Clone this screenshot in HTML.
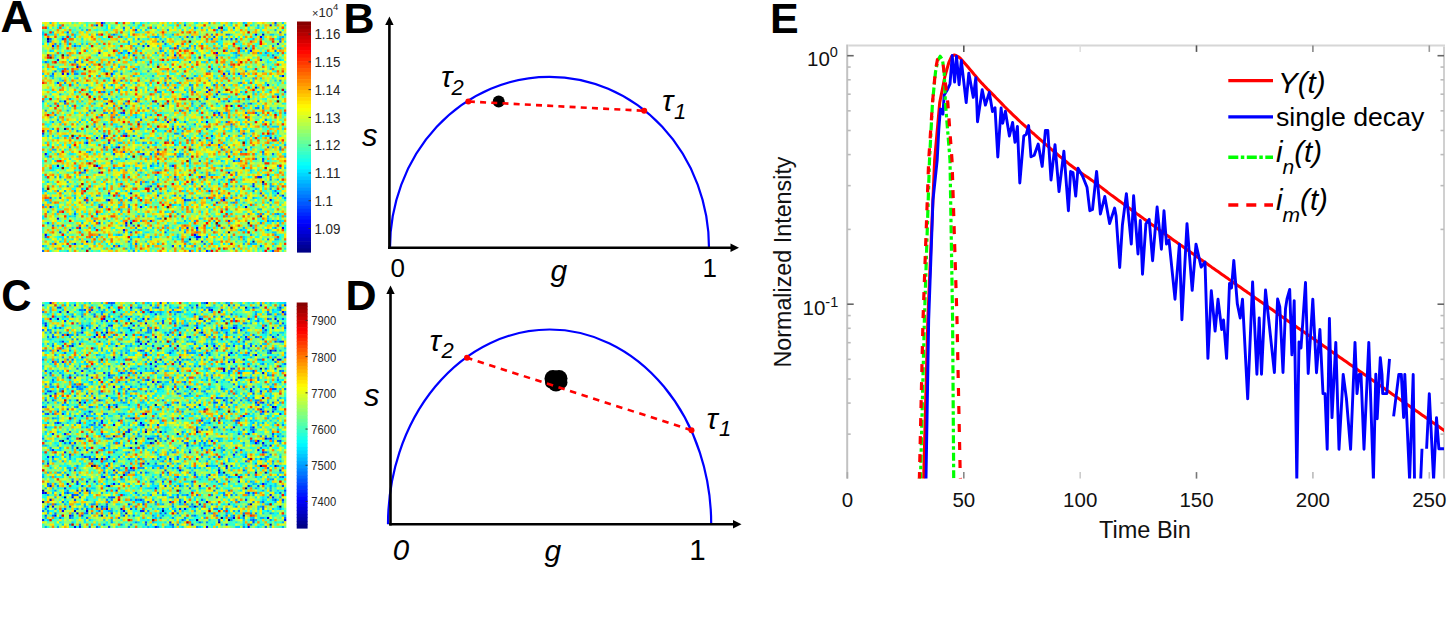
<!DOCTYPE html>
<html><head><meta charset="utf-8"><style>
html,body{margin:0;padding:0;background:#fff;}
body{width:1448px;height:625px;overflow:hidden;position:relative;}
svg{position:absolute;left:0;top:0;}
text{font-family:"Liberation Sans",sans-serif;}
</style></head><body>
<svg width="1448" height="625" viewBox="0 0 1448 625">
<text transform="translate(0.5 32) scale(1.03 1)" font-size="44" font-weight="bold" fill="#000">A</text>
<text transform="translate(343.5 33) scale(1.0 1)" font-size="43" font-weight="bold" fill="#000">B</text>
<text transform="translate(1.3 311) scale(0.93 1)" font-size="45" font-weight="bold" fill="#000">C</text>
<text transform="translate(345.5 309.6) scale(1.0 1)" font-size="43" font-weight="bold" fill="#000">D</text>
<text transform="translate(770 33.3) scale(1.0 1)" font-size="43" font-weight="bold" fill="#000">E</text>
<defs><filter id="hb" x="-2%" y="-2%" width="104%" height="104%"><feGaussianBlur stdDeviation="0.6"/></filter><clipPath id="hcA"><rect x="42" y="22" width="244.5" height="230"/></clipPath><clipPath id="hcC"><rect x="42" y="302" width="244.5" height="226"/></clipPath></defs>
<g clip-path="url(#hcA)"><g fill="none" stroke-width="1" filter="url(#hb)">
<g transform="translate(42.00 22.00) scale(2.4450 2.3000)">
<rect x="0" y="0" width="100" height="100" fill="#9eff61"/>
<path stroke="#000080" d="M2 7.5h1M90 69.5h1M84 87.5h1M76 91.5h1M60 94.5h1"/>
<path stroke="#0000a0" d="M9 46.5h1M86 95.5h1"/>
<path stroke="#0000c1" d="M90 5.5h1M59 24.5h1M77 36.5h1M36 74.5h1M89 84.5h1M36 87.5h1"/>
<path stroke="#0000e2" d="M43 10.5h1M83 11.5h1M87 28.5h1M96 32.5h1M9 34.5h1M32 37.5h1M21 38.5h1M31 54.5h1M83 55.5h1M6 62.5h1M77 68.5h1M27 77.5h1M83 80.5h1M18 95.5h1"/>
<path stroke="#0004ff" d="M24 0.5h1M93 1.5h1M87 5.5h1M89 6.5h1M2 8.5h1M4 10.5h1M23 13.5h1m47 0h1M54 14.5h1M14 19.5h1M8 22.5h1m1 0h1m63 0h1M98 23.5h1M68 29.5h1M51 43.5h1m15 0h1M25 49.5h1m8 0h1M22 50.5h1m70 0h1M47 55.5h1m6 0h1M1 57.5h1m39 0h1M22 62.5h1M17 64.5h1M23 65.5h1m52 0h1M86 71.5h1M96 74.5h1M74 77.5h1m18 0h1M3 80.5h1m36 0h1M6 85.5h1M34 87.5h1M63 89.5h1m34 0h1M33 90.5h1M1 92.5h1m60 0h1M63 93.5h2"/>
<path stroke="#0025ff" d="M22 1.5h1M72 2.5h1M96 9.5h1M41 10.5h1M85 12.5h1M35 13.5h1M37 14.5h1M71 15.5h1M6 16.5h1m82 0h1M28 22.5h1M6 26.5h1M92 27.5h1M67 30.5h1M71 31.5h1M38 34.5h1m6 0h1M26 35.5h1M33 39.5h1m38 0h1M25 44.5h1M53 46.5h1M0 48.5h1M18 52.5h1M53 62.5h1M65 67.5h1m22 0h2M44 71.5h1M27 74.5h1M98 75.5h1M58 77.5h1M71 78.5h1M44 86.5h1m31 0h1M34 88.5h1M15 89.5h1m43 0h1M11 90.5h1M7 91.5h1M65 95.5h1M13 96.5h1M53 97.5h1M67 99.5h1"/>
<path stroke="#0046ff" d="M95 0.5h1M58 1.5h1M38 3.5h1M10 4.5h1m86 0h1M59 6.5h1m10 0h1M8 7.5h1m68 0h1m1 0h1M49 8.5h1m47 0h1M14 16.5h1M80 22.5h1M52 24.5h1M25 28.5h1m41 0h1M72 30.5h1M67 33.5h1M76 34.5h1M32 39.5h1m37 0h1M82 48.5h1M69 49.5h1M40 50.5h1M64 51.5h1M27 52.5h1m41 0h1M72 53.5h1M25 54.5h1m4 0h1M61 55.5h1M29 57.5h1M80 59.5h1m9 0h1M78 60.5h1M54 67.5h1M61 69.5h1M86 70.5h1M65 71.5h1M68 73.5h1M89 74.5h1M47 75.5h1M17 77.5h1m18 0h1M23 80.5h1M23 87.5h1M36 91.5h1m13 0h1M63 94.5h1M5 96.5h1M31 97.5h1M94 99.5h1"/>
<path stroke="#0067ff" d="M33 2.5h1M29 5.5h1m45 0h1M61 6.5h1m2 0h1M3 7.5h1M50 9.5h1M13 10.5h1m41 0h1M59 11.5h1M95 12.5h1M32 13.5h1M94 14.5h1M68 16.5h1M1 17.5h1M69 20.5h1M5 21.5h1M4 22.5h1m71 0h1M61 24.5h1M32 25.5h1M50 26.5h1M70 27.5h1m3 0h1M54 28.5h1M25 30.5h1m73 0h1M27 31.5h1M70 32.5h1M72 33.5h1M88 34.5h1M9 35.5h1m56 0h1m18 0h1M34 36.5h1m46 0h1M88 37.5h1M19 38.5h1m37 0h1M83 39.5h1m3 0h1M73 41.5h1M40 42.5h1m9 0h1m40 0h1M75 43.5h1M77 44.5h1M57 45.5h1M46 46.5h1m20 0h1M6 47.5h1M26 49.5h1m10 0h1M25 50.5h1m69 0h1M43 54.5h1m32 0h1m15 0h1M73 55.5h1M33 56.5h1m56 0h1M44 57.5h1m2 0h1m46 0h1M55 58.5h1M28 60.5h1m35 0h1m25 0h1M47 61.5h1M44 62.5h1M90 70.5h1M10 71.5h1m22 0h1m47 0h1M46 72.5h1M86 73.5h1m8 0h1M54 75.5h1m35 0h1M3 76.5h1m3 0h1m10 0h1m55 0h1M26 77.5h1m32 0h2M24 80.5h1M13 83.5h1m8 0h1M21 86.5h1M2 87.5h1M4 88.5h1m32 0h1M63 90.5h1M1 93.5h1M92 94.5h1M35 95.5h1M38 96.5h1m27 0h1M29 97.5h1m59 0h1M19 98.5h1M0 99.5h1m59 0h1"/>
<path stroke="#0088ff" d="M25 0.5h1M62 2.5h1m15 0h1M69 5.5h1m6 0h1M32 6.5h1m13 0h1M39 7.5h1m29 0h1m5 0h1m21 0h1M3 8.5h1M5 9.5h1m33 0h1M94 10.5h1M52 11.5h1m2 0h1m25 0h1M48 12.5h1M79 13.5h1m11 0h1M3 14.5h1m6 0h1m30 0h1m24 0h1M13 16.5h1M13 17.5h1m2 0h1m43 0h1M14 18.5h1m28 0h1M37 20.5h1M43 21.5h1m24 0h1m14 0h1M13 22.5h2m17 0h1M68 25.5h1m28 0h1M9 26.5h1m71 0h1M28 27.5h1m31 0h1M61 28.5h1M61 29.5h1M62 30.5h1M59 32.5h1M84 33.5h1M0 34.5h1m6 0h1m26 0h1M33 35.5h1m13 0h1m3 0h1m9 0h1M29 36.5h1M43 37.5h1m43 0h1M1 38.5h1m58 0h1m33 0h1M25 39.5h1m2 0h1m70 0h1M5 40.5h1m66 0h1m15 0h1M29 41.5h1M84 42.5h1M39 43.5h1m18 0h1M62 44.5h1m21 0h1m8 0h1M21 45.5h1m10 0h1m20 0h1M12 46.5h1M14 47.5h1m42 0h1M34 48.5h1m19 0h2M32 49.5h1m24 0h1M12 50.5h1M41 52.5h1M11 54.5h1m85 0h1M97 55.5h1M19 56.5h1m57 0h1M57 57.5h1M34 59.5h1m52 0h1M96 62.5h1M29 63.5h1m67 0h1M38 64.5h1M16 65.5h1m45 0h1m16 0h1M46 66.5h1m21 0h1M7 67.5h1m66 0h1M30 68.5h1m16 0h1m22 0h1m22 0h1M40 70.5h1M16 72.5h1m76 0h1M6 73.5h1m38 0h1M48 74.5h1m23 0h1M22 75.5h1m35 0h1M57 76.5h1m6 0h1m2 0h1m9 0h1m5 0h1m15 0h1M69 77.5h1m9 0h1M18 78.5h1m59 0h1M23 79.5h1m18 0h1M35 80.5h1M96 83.5h1M41 84.5h1M48 85.5h1M92 86.5h1m1 0h1m1 0h1M89 87.5h1M18 88.5h1m52 0h1M38 89.5h1m34 0h1m21 0h1M69 90.5h1m22 0h1M58 91.5h1M23 92.5h1M39 93.5h1m27 0h1M36 94.5h1m58 0h1M28 98.5h1m49 0h1M37 99.5h1"/>
<path stroke="#00a9ff" d="M37 0.5h1m30 0h1m13 0h1M7 1.5h1m13 0h1m52 0h1m13 0h1m6 0h1M43 2.5h1m2 0h1M18 3.5h1m32 0h1m19 0h1m23 0h1M4 4.5h1m68 0h1M22 5.5h1m30 0h1m45 0h1M47 6.5h1m50 0h1M73 7.5h1m12 0h1M35 8.5h1m11 0h1M7 9.5h1m27 0h1M15 10.5h1m44 0h1m1 0h1M38 11.5h1m14 0h1m16 0h1m26 0h1M34 12.5h1m40 0h1M46 13.5h1m3 0h1m37 0h1m7 0h1M51 14.5h1m28 0h1M28 15.5h1M38 16.5h1m14 0h1m1 0h1m40 0h1M18 18.5h1m71 0h1M8 20.5h1m1 0h1m42 0h1M13 21.5h1m11 0h1m3 0h1m60 0h1M3 23.5h2m23 0h1m8 0h1m7 0h1m12 0h1m3 0h1m20 0h1M14 24.5h1m35 0h1m35 0h1M8 25.5h1m35 0h1M14 26.5h1m40 0h1M61 27.5h1M31 29.5h1m4 0h1m56 0h1M19 30.5h1m4 0h1m22 0h2M7 31.5h1M48 32.5h1M11 33.5h1m13 0h2m53 0h1M64 34.5h1m9 0h1M21 35.5h1m43 0h1m5 0h1m10 0h1m1 0h1M3 36.5h1m8 0h1M82 37.5h1m7 0h1m5 0h1M10 38.5h1m43 0h1M26 39.5h1m48 0h1M30 40.5h1m13 0h1M3 41.5h1m19 0h1m14 0h1m3 0h1m26 0h1M6 42.5h1m40 0h1M4 43.5h1m49 0h1M21 44.5h1m13 0h1M77 45.5h1M4 46.5h1m38 0h1m11 0h1M2 47.5h1m34 0h1m12 0h1m29 0h1M25 48.5h1m7 0h1m30 0h1m28 0h1M65 49.5h1m10 0h1m3 0h1M41 50.5h1m16 0h1M21 51.5h1m14 0h1m14 0h1m2 0h1m13 0h1m27 0h1M17 52.5h1m28 0h1M25 53.5h1m28 0h1m6 0h1m37 0h1M85 54.5h1M4 55.5h2m51 0h1M81 56.5h1M35 57.5h1m4 0h1m15 0h1m18 0h1m14 0h1M2 58.5h1m53 0h1m42 0h1M80 60.5h1M28 61.5h1m10 0h1M52 62.5h1m20 0h1M34 64.5h1m13 0h1M17 65.5h1m50 0h1M79 66.5h1M5 67.5h1m60 0h1m26 0h1M55 68.5h1m20 0h1M10 69.5h1m29 0h1m1 0h1M61 70.5h1m10 0h1m20 0h1M14 71.5h1m17 0h1m10 0h1m33 0h1m15 0h2M0 72.5h1m86 0h1M1 73.5h1m7 0h1m3 0h1M23 75.5h1m6 0h1m48 0h1m15 0h1M13 76.5h1m72 0h1M20 77.5h1m10 0h1m3 0h1m8 0h1M3 78.5h1m28 0h1m44 0h1M0 79.5h1m34 0h1m57 0h1M88 81.5h2M2 82.5h1m3 0h1M55 83.5h1m28 0h1m3 0h1m1 0h1m4 0h1M75 84.5h1m16 0h1M40 86.5h1m17 0h1m3 0h1m7 0h1M16 87.5h1M50 88.5h1M21 89.5h1m60 0h1m3 0h1M39 90.5h1m16 0h1m24 0h1M33 91.5h1M31 92.5h1m53 0h1m9 0h1M10 93.5h1m11 0h1m21 0h1m10 0h1m6 0h1M82 94.5h1m13 0h1M58 95.5h2m23 0h1M12 96.5h1m3 0h1m65 0h1m2 0h1M0 97.5h1m55 0h1m1 0h1m3 0h1M34 98.5h1m31 0h1M64 99.5h1m3 0h1"/>
<path stroke="#00caff" d="M3 0.5h1m73 0h1m20 0h1M36 2.5h1m28 0h1m22 0h1M16 3.5h1m16 0h1m8 0h1m31 0h1M0 4.5h1M0 5.5h1m1 0h1m7 0h1m2 0h1m14 0h1m1 0h1m62 0h2M8 6.5h1m2 0h1m1 0h1m31 0h1m10 0h1m16 0h1m23 0h1M48 7.5h1m8 0h1M10 8.5h1m20 0h1m39 0h1m8 0h1M10 9.5h1m5 0h1m1 0h1m4 0h1m18 0h1M12 10.5h1m1 0h1m22 0h1m35 0h1M62 11.5h1m9 0h1M3 12.5h1m29 0h1m15 0h1m32 0h1m1 0h1M14 13.5h1m63 0h1m5 0h1M5 14.5h1m29 0h1m43 0h1M55 15.5h1m6 0h1m16 0h1m14 0h1M40 16.5h1m56 0h1M2 17.5h1m8 0h1m17 0h1m36 0h1M25 18.5h1m21 0h1m2 0h1m23 0h1M17 19.5h1m1 0h1m8 0h1m2 0h1m2 0h1m4 0h1m37 0h1M25 20.5h1m18 0h1m27 0h1m20 0h1M30 21.5h1m5 0h1m38 0h2M0 22.5h1M22 23.5h1m74 0h1M4 24.5h1m22 0h1m43 0h1m9 0h1m7 0h1M95 25.5h1M38 26.5h1m13 0h1m18 0h1m8 0h1m3 0h1m6 0h1M12 27.5h1m5 0h1m24 0h1m6 0h1M14 28.5h1m4 0h1m14 0h1m53 0h1M43 29.5h1m14 0h1M13 30.5h1m17 0h1m27 0h1m21 0h1m4 0h1m1 0h1M57 31.5h1m16 0h2m10 0h1m8 0h2M30 32.5h1M16 34.5h1m36 0h1m7 0h1M6 35.5h1m33 0h1M16 36.5h1m44 0h1m2 0h1m25 0h1M63 37.5h1m3 0h1M69 38.5h1m1 0h1m21 0h1M18 39.5h1m52 0h1m2 0h1m20 0h1M38 40.5h1M24 41.5h1m9 0h1m36 0h1m7 0h1M16 42.5h1m35 0h1M7 43.5h1m7 0h1m12 0h1m36 0h1m24 0h1M14 44.5h1m66 0h1M30 45.5h1m59 0h1m3 0h3M60 46.5h1m16 0h1m1 0h1M23 47.5h1m61 0h2M0 49.5h1m1 0h1m1 0h1m4 0h2m2 0h1m71 0h1m5 0h3M6 50.5h1M18 51.5h1m19 0h1m21 0h1m8 0h1m10 0h1M31 52.5h2m9 0h1m31 0h1M75 53.5h1M28 54.5h1m38 0h1m4 0h1m21 0h1M25 55.5h1m15 0h1m6 0h1M18 56.5h1M6 57.5h1m18 0h1M53 58.5h1m3 0h1m1 0h1M30 59.5h1m12 0h1m16 0h1M5 60.5h1m54 0h1m12 0h1m5 0h1M45 61.5h1m14 0h1m7 0h1M45 62.5h1m1 0h1m27 0h1M31 63.5h2m5 0h1m60 0h1M15 64.5h1m12 0h1m17 0h1m38 0h1M40 65.5h1m24 0h1M15 66.5h1m26 0h1m18 0h1m8 0h1m20 0h1M1 67.5h1m26 0h1M9 68.5h1m48 0h1m5 0h1m8 0h1m22 0h1M2 69.5h1m40 0h1M26 70.5h1m10 0h1m7 0h2M79 71.5h1M23 72.5h1m39 0h1m2 0h1M0 73.5h1m33 0h1m16 0h1m5 0h1M31 74.5h1M13 75.5h1m13 0h1m28 0h1m40 0h1M61 76.5h1m3 0h1m4 0h1m2 0h1M1 77.5h2m36 0h1m22 0h1M21 78.5h1m36 0h1m23 0h1m9 0h1M31 79.5h2m20 0h1m2 0h1m29 0h1M1 80.5h1m2 0h1m62 0h1M32 81.5h1m28 0h1M13 82.5h1m18 0h1m17 0h1m3 0h1m6 0h1m24 0h1M11 84.5h1m1 0h1m20 0h1m33 0h1m30 0h1M47 85.5h1m16 0h1m27 0h1M36 86.5h1m56 0h1m3 0h1M97 87.5h1M6 88.5h1m25 0h1m18 0h1m24 0h1m7 0h1m1 0h1M12 89.5h1m29 0h1m2 0h1m4 0h1m5 0h1M51 90.5h1M10 91.5h1m83 0h2M30 92.5h1m1 0h1m8 0h1m13 0h1m7 0h1m9 0h1M20 93.5h1m25 0h1m30 0h1m2 0h1m1 0h1M15 94.5h1m28 0h1M7 95.5h1m13 0h1m20 0h1M3 96.5h1m17 0h1m14 0h1m10 0h1m12 0h1m25 0h2m7 0h1M36 97.5h1M5 98.5h1m10 0h1m19 0h1M10 99.5h1"/>
<path stroke="#00eaff" d="M31 0.5h1m8 0h1m14 0h1m2 0h1m4 0h1m19 0h1M26 1.5h1m12 0h2m8 0h1m6 0h1m20 0h1m7 0h1m13 0h1M2 2.5h1m3 0h1m8 0h1m10 0h1m1 0h1m10 0h1M40 3.5h1m16 0h1m9 0h1m7 0h1M12 4.5h1m1 0h1m23 0h2m50 0h1M3 5.5h2m14 0h1m15 0h1m11 0h1m2 0h1m26 0h1M52 6.5h1m29 0h1m7 0h1M10 7.5h1m5 0h1m17 0h1m2 0h1m5 0h1m6 0h1m39 0h1m5 0h1M40 8.5h1m58 0h1M0 9.5h1m12 0h1m51 0h1m4 0h1m1 0h1m6 0h1M5 10.5h1m1 0h1m39 0h1m2 0h1m30 0h1M85 11.5h1m10 0h1M4 12.5h1m9 0h1m3 0h1m12 0h1m8 0h1m22 0h1m17 0h1M7 13.5h1m25 0h1m20 0h1m37 0h1M22 14.5h1m7 0h2m1 0h1m4 0h1m8 0h1m24 0h1m1 0h1m15 0h2M5 15.5h1m25 0h1m34 0h1m10 0h2m14 0h1M23 16.5h1m6 0h1m23 0h1m14 0h1M0 17.5h1m37 0h1m26 0h1m26 0h1M31 18.5h1m44 0h1M5 19.5h1m77 0h1m9 0h1M6 20.5h2m31 0h1m21 0h1M7 21.5h1m6 0h1m34 0h1m5 0h1m32 0h1m6 0h1M29 22.5h1m10 0h1m16 0h1M1 23.5h1m61 0h1m6 0h1m2 0h1m7 0h1M7 24.5h1m5 0h1m9 0h1m2 0h1M7 25.5h1m19 0h1m49 0h1m6 0h1m1 0h1M5 26.5h1m29 0h1m6 0h1M8 27.5h1m16 0h1m6 0h1m44 0h1m4 0h1m4 0h1m3 0h1M55 28.5h1M34 29.5h1m15 0h1m32 0h1M20 30.5h1m6 0h1M3 31.5h1m44 0h1m24 0h1m6 0h1m1 0h1M16 32.5h1m4 0h1m2 0h1m16 0h1m16 0h1m18 0h1M1 33.5h1m26 0h1m37 0h1M8 34.5h1m5 0h1m22 0h1m35 0h1M25 35.5h1m72 0h1M10 36.5h1m77 0h1M24 37.5h1m15 0h1m52 0h1m3 0h1M68 38.5h1m8 0h1M3 39.5h1m9 0h1m17 0h1m16 0h1m15 0h1M33 40.5h1m3 0h1m4 0h1m41 0h1m7 0h1M4 41.5h1m26 0h1M55 42.5h1m24 0h1M3 43.5h1m14 0h1m54 0h1M1 44.5h1m6 0h1m20 0h2m10 0h1m11 0h1m5 0h1M55 45.5h1m4 0h1m3 0h1M70 46.5h1m11 0h2m14 0h1M33 47.5h1m13 0h1m21 0h1m6 0h2M83 48.5h1M21 49.5h1m29 0h1m21 0h1m7 0h1m7 0h1m5 0h1M16 50.5h2m42 0h1m8 0h1m5 0h1m8 0h1m1 0h1m1 0h1M67 51.5h1m7 0h1m7 0h1M1 52.5h1m37 0h1m43 0h1m9 0h1m3 0h1M11 53.5h1m33 0h2m8 0h1m1 0h1M7 55.5h1m1 0h1m28 0h1M3 56.5h1m18 0h1m5 0h1m16 0h1M2 57.5h1m8 0h2m26 0h1m47 0h1m11 0h1M1 58.5h1m12 0h1m37 0h1m12 0h1m12 0h1M11 59.5h1m19 0h1m39 0h1M18 60.5h1M41 61.5h1m16 0h1m25 0h1M4 62.5h1m3 0h1m5 0h1m8 0h1m11 0h1m13 0h1m10 0h1m15 0h1M4 63.5h1m36 0h2M3 64.5h2m8 0h1m17 0h1m15 0h1m23 0h1m3 0h1m1 0h1m10 0h1m5 0h1M39 65.5h1m45 0h1M7 66.5h1m24 0h1m36 0h1M13 67.5h1m37 0h1m32 0h1M25 68.5h1m55 0h1M30 69.5h1m1 0h1m14 0h1m24 0h1m3 0h1M56 70.5h1M13 71.5h1m6 0h1m28 0h1m35 0h1m4 0h1M76 72.5h1m11 0h1M58 73.5h1m35 0h1M35 74.5h1m11 0h1m20 0h1m25 0h1M9 75.5h1m2 0h1m6 0h1m13 0h1m6 0h2m11 0h1m20 0h1m2 0h1M33 76.5h1m4 0h1m10 0h1m8 0h1m23 0h1m4 0h1M10 77.5h1m69 0h1M2 78.5h1m84 0h1M54 79.5h1m3 0h1m20 0h1m1 0h1m15 0h1M6 80.5h1m19 0h1m4 0h1m15 0h1M12 81.5h1m55 0h1M51 82.5h1m5 0h1m7 0h1m2 0h1m6 0h1m1 0h1M5 83.5h1m12 0h1m12 0h1m7 0h1m1 0h1m51 0h1m3 0h1M0 84.5h1m11 0h1m25 0h1m7 0h1m4 0h1m25 0h1m19 0h1M0 85.5h1m19 0h1m36 0h1m1 0h1m5 0h1M27 86.5h1m32 0h1m5 0h1m28 0h1m2 0h1M25 87.5h1m29 0h2m36 0h1M9 88.5h1m10 0h1m22 0h1m19 0h1m35 0h1M68 89.5h1m25 0h1M15 90.5h1m7 0h1m13 0h1m2 0h1m17 0h1m21 0h1m1 0h2m7 0h1M35 91.5h1m6 0h2m39 0h1M39 92.5h1M7 93.5h2m27 0h1m4 0h1m18 0h1m13 0h1M8 94.5h1m3 0h1m40 0h1m1 0h2m2 0h1m6 0h1m13 0h1m5 0h1M25 95.5h1m10 0h1m33 0h1m1 0h1m6 0h1M26 96.5h1m3 0h1m12 0h1m24 0h1m5 0h1M1 97.5h1m6 0h1m36 0h1m48 0h1M25 98.5h1m11 0h1m50 0h1m10 0h1M35 99.5h1m3 0h1m50 0h1m2 0h1"/>
<path stroke="#0cfff3" d="M43 0.5h1m18 0h1M6 1.5h1m11 0h1m6 0h1m11 0h1m14 0h2m28 0h1M8 2.5h1m47 0h1m3 0h1m2 0h1m5 0h1m14 0h1m5 0h1M22 3.5h1m2 0h2m57 0h1m13 0h1M9 4.5h1m61 0h1M6 5.5h1m35 0h1m43 0h1m1 0h1M0 6.5h1m23 0h1m10 0h1m42 0h1m1 0h1M7 7.5h1m17 0h1m1 0h1m40 0h1m16 0h1M7 8.5h1m8 0h1m20 0h1m34 0h2M2 9.5h1m55 0h1m8 0h1m5 0h1m7 0h1m6 0h1M10 10.5h1m8 0h1m29 0h1m1 0h2m34 0h1M5 11.5h1m1 0h1m22 0h1m10 0h1m15 0h1m2 0h1m15 0h1M37 12.5h1m1 0h1m51 0h1M34 13.5h1m1 0h1m40 0h1m15 0h1m1 0h1M61 14.5h2m10 0h1m2 0h1m16 0h1m4 0h1M29 15.5h1m20 0h1m17 0h1m20 0h1M10 16.5h1m5 0h1m28 0h1m10 0h1m21 0h1m13 0h1m5 0h1M43 17.5h1m1 0h1m3 0h1m18 0h1m10 0h1m13 0h1m1 0h1M20 18.5h1m24 0h1m15 0h1m5 0h1m1 0h1m24 0h1m2 0h1M0 19.5h1m37 0h1m13 0h1m6 0h1m9 0h1m25 0h1M2 20.5h1m21 0h1m33 0h1m27 0h1M16 21.5h1m9 0h1m5 0h1m29 0h1m4 0h1m2 0h1m23 0h1M11 22.5h1m29 0h1m4 0h1m5 0h2m25 0h1M10 23.5h1m28 0h1m16 0h1m20 0h1m9 0h1M11 24.5h1m30 0h1m17 0h1M83 25.5h1M54 26.5h1m18 0h1m25 0h1M15 27.5h1m29 0h1m9 0h1m9 0h1m30 0h1M7 28.5h1m12 0h1m19 0h1m3 0h1m6 0h1m7 0h1m35 0h1M3 29.5h1m15 0h1m13 0h1m30 0h1M4 30.5h2m44 0h1M20 31.5h1m38 0h1m23 0h1m4 0h1M4 32.5h1m60 0h1m5 0h1m26 0h1M2 33.5h1m28 0h1m4 0h1m1 0h1m5 0h1m31 0h2m5 0h1m7 0h1M29 34.5h1m12 0h1m6 0h1m12 0h1M0 35.5h1m1 0h1m11 0h1m2 0h1m2 0h1m9 0h1m10 0h1m1 0h1m13 0h1m21 0h1m6 0h1m12 0h1M45 36.5h2m25 0h1m5 0h1M11 37.5h1m2 0h1m7 0h1m11 0h1m27 0h1m15 0h1m5 0h1M61 38.5h1m2 0h1M14 39.5h1m25 0h1m1 0h1m17 0h1M9 40.5h1m29 0h1m6 0h1m2 0h1m25 0h1m20 0h1m2 0h1M6 41.5h1m29 0h2m28 0h1M17 42.5h1m1 0h1m24 0h2m21 0h1m25 0h1M49 43.5h1m6 0h1m36 0h1M2 44.5h2m22 0h1m15 0h1m18 0h1m5 0h1m14 0h1M2 45.5h1m7 0h2m19 0h1m6 0h1m54 0h1M40 46.5h1m3 0h1m2 0h1m11 0h1m11 0h1m2 0h1m5 0h1m4 0h1M15 47.5h1m1 0h1m30 0h1m44 0h1m2 0h1M19 48.5h2m20 0h2m3 0h1m9 0h1m16 0h1m22 0h1M23 49.5h1m6 0h1m10 0h1m5 0h1m5 0h1m5 0h1m37 0h1M5 50.5h1m38 0h1m6 0h1m3 0h1m9 0h1m4 0h1m5 0h1M15 51.5h1m8 0h1m20 0h1m9 0h1m25 0h1M3 52.5h1m34 0h1m8 0h1m6 0h2m1 0h1M3 53.5h1m4 0h1m1 0h1m4 0h1m6 0h1m5 0h1m1 0h1m4 0h1m7 0h1m4 0h1m46 0h2M0 54.5h1m2 0h1m11 0h1m13 0h1m23 0h1m10 0h1m3 0h1m13 0h1M17 55.5h1m21 0h1m45 0h1m3 0h2M2 56.5h1m20 0h1m32 0h1M55 57.5h1M36 58.5h1m5 0h2m1 0h1m28 0h1m15 0h1m3 0h1M4 59.5h1m2 0h1m14 0h1m49 0h1m4 0h2M0 60.5h1m8 0h1m22 0h1m14 0h1m20 0h1m5 0h1m17 0h1M30 61.5h1M34 62.5h1m2 0h1m8 0h1m11 0h1m4 0h1m6 0h1M5 63.5h2m3 0h1m17 0h1m1 0h1m8 0h1m4 0h2m14 0h1m7 0h1m12 0h1m2 0h1M63 64.5h1m12 0h1m9 0h1M6 65.5h1m5 0h1m38 0h1m44 0h1m2 0h1M0 66.5h1m17 0h1m7 0h1m8 0h1m11 0h1m46 0h1M32 67.5h1m15 0h1m14 0h1m14 0h1m2 0h1m3 0h1M19 68.5h1m24 0h1m27 0h1m1 0h1M24 69.5h1m31 0h1m40 0h1M28 70.5h1m37 0h1m2 0h1m6 0h1m22 0h1M8 71.5h1m17 0h1m15 0h1m14 0h1m9 0h1m27 0h1M12 72.5h2m3 0h1m8 0h1m14 0h1m10 0h1m7 0h2m6 0h1m6 0h1m14 0h1m7 0h1M32 73.5h1m3 0h1m2 0h1m40 0h1m15 0h1M0 74.5h1m1 0h1m2 0h1m2 0h1m34 0h2m4 0h1m9 0h1m2 0h1m16 0h1m6 0h1m4 0h2m2 0h1M16 75.5h1m1 0h1m6 0h2m5 0h1M5 76.5h1m14 0h1m9 0h1m3 0h1m6 0h1m3 0h1m6 0h1m35 0h1m9 0h1M46 77.5h1m7 0h1m39 0h1m4 0h1M22 78.5h1m2 0h1m14 0h1m11 0h1m15 0h1m25 0h1M6 79.5h1m6 0h1m7 0h1m21 0h1m17 0h1m7 0h1m14 0h1m5 0h1M41 80.5h1m8 0h1m28 0h1m2 0h1M6 81.5h2m17 0h1m4 0h1m5 0h1m32 0h1m24 0h1M16 82.5h1m8 0h1m21 0h1m43 0h1M24 83.5h1M10 84.5h1m11 0h1m20 0h2m5 0h1m19 0h1m2 0h1m21 0h1M10 85.5h1m17 0h1m4 0h1m21 0h1m32 0h1m8 0h1M9 86.5h1m6 0h1m15 0h1m56 0h2M1 87.5h1m1 0h1m26 0h1m8 0h1m19 0h1m9 0h1m2 0h1m19 0h1M62 88.5h1m28 0h1m5 0h1M29 89.5h1m23 0h1m13 0h1m3 0h1m27 0h1M21 90.5h1m8 0h1m16 0h1M16 91.5h1m24 0h1m6 0h1m25 0h1M2 92.5h1m6 0h1m19 0h1m21 0h1m15 0h1m3 0h1m25 0h1M6 93.5h1m30 0h2m1 0h1m6 0h1m5 0h2m11 0h1m5 0h1m10 0h1m3 0h2m8 0h1M2 94.5h1m3 0h1m10 0h1m52 0h1m19 0h1m6 0h1M4 95.5h1m5 0h1m8 0h1m3 0h1m27 0h1m15 0h1m14 0h1m2 0h1m8 0h2m3 0h1M28 96.5h1m41 0h2m4 0h1M32 97.5h1m8 0h1m23 0h1m18 0h1m5 0h1M2 98.5h1m11 0h1m14 0h1m29 0h1m2 0h1m7 0h1m9 0h1M3 99.5h1m3 0h1m12 0h1m2 0h1m18 0h1m19 0h1"/>
<path stroke="#2dffd2" d="M12 0.5h1m5 0h1m22 0h1m9 0h1m20 0h1m13 0h1M0 1.5h1m9 0h1m5 0h1m11 0h1m6 0h1m50 0h1M4 2.5h1m6 0h1m12 0h1m4 0h1m8 0h1m14 0h1m20 0h2m11 0h1m8 0h1M3 3.5h1m8 0h2m7 0h1m25 0h1m14 0h1m15 0h1m10 0h1M17 4.5h1m17 0h1m5 0h1m12 0h1m24 0h1m9 0h1M14 5.5h1m10 0h1m26 0h1m7 0h1m23 0h1M23 6.5h1m20 0h1m18 0h1m22 0h1m9 0h1M24 7.5h1m16 0h1m21 0h2m7 0h1m11 0h1m10 0h1M0 8.5h1m17 0h1m3 0h1m43 0h1m10 0h1m10 0h1M29 9.5h1m3 0h2m16 0h1m9 0h1m1 0h1m16 0h1m6 0h1M25 10.5h1m5 0h1m44 0h1m14 0h1M15 11.5h1m8 0h1m24 0h1m8 0h1m29 0h1m9 0h1M1 12.5h1m8 0h1m40 0h1m10 0h1M67 13.5h2m21 0h1m8 0h1M9 14.5h1m2 0h1m8 0h1m23 0h1m18 0h1m13 0h1m10 0h1m5 0h2M27 15.5h1m4 0h1m2 0h1m1 0h1m4 0h1m1 0h1m41 0h1m10 0h1M20 16.5h1m16 0h1m3 0h1m20 0h1m7 0h1m14 0h1M22 17.5h1m12 0h1m11 0h1m3 0h1m4 0h1M3 18.5h1m3 0h1m28 0h1m15 0h1m2 0h1m16 0h1m11 0h1m7 0h1M6 19.5h1M79 20.5h1m3 0h2M4 21.5h1m10 0h1m8 0h1m10 0h1m2 0h1m1 0h1m9 0h1m1 0h1m18 0h1M23 22.5h1m18 0h1m18 0h1m23 0h1m6 0h1M16 23.5h1m3 0h1m28 0h2m14 0h1m13 0h1m14 0h1M19 24.5h1m4 0h2m18 0h2m9 0h1m1 0h1m9 0h1m2 0h1m5 0h1m17 0h2M53 25.5h1m2 0h1M12 26.5h1m21 0h1m10 0h1m14 0h1m8 0h1m16 0h1m9 0h2M10 27.5h1m6 0h1m11 0h1m18 0h1m7 0h1m7 0h1m29 0h1M3 28.5h1m25 0h1m13 0h1m1 0h1m22 0h1m1 0h1m2 0h1m7 0h2m2 0h1M1 29.5h1m39 0h1m17 0h1m32 0h1m6 0h1M9 30.5h1m4 0h1m7 0h1m21 0h2m8 0h2m26 0h1m8 0h1M8 31.5h1m1 0h1m2 0h1m1 0h1m30 0h1m5 0h1m17 0h1m5 0h1m22 0h1M51 32.5h1m14 0h1m12 0h1m6 0h1m6 0h1M12 33.5h1m2 0h1m24 0h1m14 0h1m22 0h2m1 0h1m6 0h1m1 0h1m5 0h1M22 34.5h1m52 0h1m1 0h1m17 0h1m1 0h1M4 35.5h1m10 0h1m33 0h1m9 0h1m14 0h1m12 0h1m6 0h1M0 36.5h1m18 0h1m12 0h1m2 0h1m11 0h1m3 0h1m10 0h1m8 0h1m12 0h1M15 37.5h1m3 0h1m1 0h1m6 0h1m16 0h1m1 0h1m17 0h1m2 0h1m14 0h1m2 0h1m11 0h1M44 38.5h1m1 0h1m11 0h1m3 0h1m15 0h1m12 0h1M16 39.5h1m32 0h1m6 0h1m31 0h1m9 0h1M17 40.5h1m4 0h1m9 0h1m2 0h1m7 0h1m21 0h1M39 41.5h2m6 0h1m27 0h1m1 0h1m11 0h1m8 0h1M9 42.5h1m4 0h1m21 0h1m23 0h1m1 0h1m18 0h1m5 0h2m3 0h1M25 43.5h2m32 0h1m3 0h1m17 0h1m16 0h1M16 44.5h1m28 0h1m6 0h1M29 45.5h1m11 0h1m3 0h1m16 0h1m12 0h1m8 0h1m6 0h1m6 0h1M3 46.5h1m13 0h1m2 0h1m14 0h1m5 0h1m9 0h1m4 0h1m34 0h1M49 47.5h1m3 0h1m1 0h2m8 0h1m2 0h1m1 0h1m4 0h1M2 48.5h1m26 0h1m13 0h1m5 0h1m1 0h1m13 0h2m2 0h1m19 0h1M8 49.5h1m5 0h1m23 0h1m24 0h2m2 0h1m2 0h1m19 0h1M10 50.5h1m9 0h1m8 0h1m6 0h1m46 0h1m5 0h1M17 51.5h1m7 0h1m7 0h1m16 0h1m2 0h1M12 52.5h1m9 0h1m44 0h1m31 0h1M6 53.5h1m11 0h1m7 0h1m31 0h1m14 0h1m9 0h1m5 0h1m1 0h1M1 54.5h1m11 0h1m25 0h1m10 0h1m27 0h1m7 0h1M2 55.5h1m7 0h1m5 0h1m10 0h2m33 0h1m6 0h1m12 0h1M5 56.5h1m47 0h1m29 0h1m4 0h1M13 57.5h1m5 0h1m2 0h1m5 0h1m5 0h1m25 0h1m16 0h1m20 0h1M67 58.5h1m4 0h1m2 0h1m6 0h1m12 0h1M29 59.5h1m5 0h1m1 0h1m26 0h1m1 0h1m1 0h2m21 0h1m1 0h1M3 60.5h1m29 0h1m16 0h1m42 0h1M0 61.5h1m21 0h1m2 0h1m26 0h3m21 0h1M5 62.5h1m7 0h1m58 0h1m6 0h1m11 0h1m7 0h1M14 63.5h1m2 0h2m7 0h1m7 0h1m17 0h1m30 0h1m12 0h1M5 64.5h1m8 0h1m5 0h1m21 0h1m47 0h2m4 0h1M10 65.5h1m10 0h1m19 0h1m14 0h1m7 0h1m22 0h1m7 0h1M13 66.5h1m38 0h1m18 0h1m3 0h1m14 0h1m2 0h1M31 67.5h1m8 0h1m6 0h1m7 0h1m2 0h1m1 0h1m29 0h1m7 0h1M14 68.5h1m7 0h2m11 0h1m13 0h1m18 0h1m26 0h1M1 69.5h1m2 0h1m8 0h1m32 0h1m27 0h1m5 0h1M5 70.5h1m5 0h1m2 0h1m5 0h1m15 0h1m6 0h1m16 0h1m2 0h1m19 0h1M0 71.5h1m5 0h1m10 0h1m30 0h1m2 0h1m21 0h1m2 0h1M7 72.5h1m16 0h1m6 0h2m7 0h1m6 0h1m10 0h1m27 0h1M24 73.5h1m12 0h1m9 0h1m4 0h1m8 0h1m2 0h1m12 0h2m5 0h1m5 0h2m5 0h1M3 74.5h1m13 0h1m22 0h2m25 0h1m12 0h1m7 0h1M63 75.5h1m19 0h1m8 0h1m1 0h1M15 76.5h1m9 0h1M13 77.5h1m19 0h1m7 0h1m8 0h1m10 0h1m8 0h1m1 0h1m2 0h1m12 0h1M7 78.5h1m4 0h1m13 0h1m9 0h1m2 0h1m5 0h1m17 0h1m3 0h1m12 0h1m10 0h1M5 79.5h1m33 0h1m1 0h1m13 0h1m3 0h1m4 0h1m11 0h1M12 80.5h1m5 0h1m9 0h1m7 0h1m2 0h1m3 0h1m26 0h1m14 0h1M21 81.5h1m36 0h1m17 0h1m16 0h1M29 82.5h1m8 0h1m13 0h1m23 0h1m5 0h1M10 83.5h1m3 0h1m2 0h1m15 0h1m22 0h1m8 0h1m7 0h1m2 0h1m2 0h1m7 0h1m10 0h1M5 84.5h1m12 0h1m13 0h1m20 0h1M13 85.5h1m32 0h1m46 0h1M6 86.5h2m7 0h1m7 0h1m54 0h1m5 0h1m1 0h1M12 87.5h1m6 0h1m26 0h1m4 0h1m5 0h2m18 0h1m17 0h1M7 88.5h1m6 0h1m8 0h1m16 0h1m12 0h2m6 0h1m5 0h1m20 0h1M0 89.5h1m19 0h1m7 0h1m6 0h1m5 0h1m20 0h1M7 90.5h1m12 0h1m20 0h1m2 0h1m5 0h1m42 0h1m5 0h1M0 91.5h1m44 0h1m5 0h1m1 0h1m38 0h1M12 92.5h1m2 0h1m10 0h1m23 0h1m18 0h1m16 0h1m1 0h1m7 0h1m1 0h1M26 93.5h1m34 0h1M3 94.5h1m7 0h1m7 0h1m2 0h1m35 0h1m15 0h1m8 0h1M8 95.5h1m82 0h1m4 0h1M48 96.5h1M17 97.5h2m7 0h2m7 0h1m36 0h1m6 0h1m5 0h1M1 98.5h1m42 0h1m2 0h1m21 0h1m14 0h1m5 0h1m4 0h1M9 99.5h1m36 0h1m4 0h1m29 0h1m6 0h1m9 0h1"/>
<path stroke="#4effb1" d="M6 0.5h1m7 0h1m12 0h1m8 0h1m10 0h1m5 0h1m11 0h1m13 0h1M29 1.5h1m15 0h1m5 0h1m10 0h1m5 0h1m7 0h1m13 0h1M13 2.5h1m2 0h1m8 0h1m19 0h1m9 0h1m14 0h1m10 0h1M0 3.5h1m1 0h1m25 0h1m14 0h1m4 0h1m10 0h1m12 0h1M1 4.5h2m24 0h1m3 0h1m8 0h1m5 0h1m6 0h1m10 0h1M11 5.5h1m19 0h2m18 0h1m12 0h1m30 0h2M9 6.5h1m23 0h1m2 0h1m11 0h1m2 0h1m1 0h1m1 0h1m1 0h1m14 0h1m3 0h1m10 0h1m11 0h1M0 7.5h2m2 0h1m1 0h1m7 0h1m11 0h1m6 0h1m8 0h1m11 0h1m5 0h2M12 8.5h1m37 0h1m40 0h1m1 0h1M21 9.5h1m10 0h1m20 0h1m6 0h1M30 10.5h1m7 0h2m16 0h1m11 0h2m7 0h1m4 0h1m2 0h1m13 0h1M19 11.5h1m46 0h1m6 0h1m15 0h2M7 12.5h1m1 0h1m1 0h1m13 0h2m41 0h1m20 0h1M9 13.5h1m20 0h1m11 0h1m5 0h1m2 0h1m5 0h1m5 0h2m17 0h1M6 14.5h1m13 0h1m25 0h1m3 0h1m24 0h1m12 0h1M14 15.5h1m8 0h1m15 0h1m18 0h1m2 0h1m29 0h1M2 16.5h1m2 0h1m13 0h1m7 0h1m6 0h1m4 0h1m7 0h1m4 0h1m8 0h1m10 0h1m17 0h1M3 17.5h1m2 0h1m5 0h1m12 0h1m10 0h1m5 0h1m3 0h1m5 0h1m22 0h1m15 0h1m7 0h1M8 18.5h1m1 0h1m75 0h1M12 19.5h1m3 0h1m8 0h1m15 0h1m3 0h1m17 0h1m7 0h1m15 0h1m4 0h1M15 20.5h1m14 0h1m26 0h1m9 0h1m2 0h1m4 0h1m12 0h1M11 21.5h1m27 0h1m20 0h1m28 0h1M3 22.5h1m11 0h1m2 0h1m25 0h1m9 0h1m8 0h1m35 0h1M13 23.5h1m24 0h1m2 0h1m1 0h2m3 0h1m6 0h1m15 0h1m3 0h1M3 24.5h1m2 0h1m9 0h1m23 0h1m6 0h1m24 0h1M11 25.5h1m21 0h1m23 0h1m16 0h1m6 0h1m7 0h1m3 0h1M21 26.5h1m9 0h1m5 0h1m5 0h1m5 0h1M5 27.5h1m21 0h1m8 0h1m15 0h1m16 0h1m2 0h1m3 0h1m3 0h1m2 0h1M10 28.5h1m2 0h1m27 0h1m23 0h1m11 0h2M10 29.5h1m4 0h1m10 0h1m1 0h2m19 0h1m20 0h1m2 0h1m13 0h1m9 0h1M29 30.5h1m9 0h1m1 0h1m9 0h2m36 0h1m2 0h1m4 0h1M31 31.5h1m1 0h1m1 0h1m7 0h1m14 0h1M0 32.5h1m24 0h1m2 0h1m2 0h2m4 0h1m12 0h1m6 0h1m30 0h1M4 33.5h1m2 0h1m9 0h1m11 0h1m11 0h1m44 0h1M3 34.5h1m17 0h1m2 0h1m5 0h1m19 0h1m32 0h2m6 0h1M11 35.5h1m33 0h1m7 0h1m19 0h1M8 36.5h1m6 0h1m26 0h1m11 0h1m11 0h2m6 0h1m7 0h1m3 0h1M0 37.5h1m1 0h1m5 0h1m1 0h1m12 0h1m3 0h1m7 0h1m15 0h1m2 0h1m5 0h1m18 0h1M5 38.5h1m2 0h1m2 0h1m11 0h2m9 0h1m3 0h1m16 0h1m10 0h1m3 0h1m12 0h1m11 0h1m2 0h1M44 39.5h1m2 0h1m2 0h2m1 0h1m14 0h1m8 0h1m11 0h1m4 0h1m1 0h1M27 40.5h1m24 0h1m11 0h1m14 0h1m18 0h1M17 41.5h1m1 0h1m34 0h1m3 0h1M3 42.5h1m33 0h1m20 0h1m2 0h1m6 0h2m6 0h1m5 0h1m12 0h1m1 0h1M1 43.5h1m4 0h1m4 0h1m1 0h1m23 0h1m4 0h1m14 0h1m8 0h1m2 0h1M5 44.5h1m12 0h1m14 0h1m6 0h1m31 0h2m5 0h1m6 0h1m2 0h1M9 45.5h1m10 0h1m5 0h1m9 0h1m9 0h1m5 0h1m5 0h1m2 0h1m16 0h1m10 0h1m9 0h1M14 46.5h1m9 0h1m3 0h1m61 0h1m1 0h1M10 47.5h1m1 0h1m13 0h1m14 0h1m37 0h1m11 0h1M5 48.5h1m5 0h1m5 0h1m6 0h1m6 0h2m6 0h1m20 0h2m6 0h1m2 0h1M6 49.5h1m29 0h1m9 0h1m13 0h1m7 0h1m8 0h1m5 0h1M4 50.5h1m10 0h1m5 0h1m12 0h1m10 0h1m11 0h1m8 0h1m29 0h1M13 51.5h1m16 0h1m3 0h1m9 0h1m1 0h3m24 0h1m8 0h1m1 0h1m6 0h1M7 52.5h1m12 0h1m2 0h1m6 0h1m3 0h1m23 0h1m4 0h1m11 0h1m1 0h1m16 0h1M41 53.5h1m24 0h1m17 0h1M18 54.5h1m13 0h1m7 0h1m11 0h1m16 0h1m11 0h1m7 0h1M15 55.5h1m15 0h1m43 0h1m1 0h1M0 56.5h1m10 0h1m8 0h1m4 0h2m10 0h1m21 0h1m11 0h1m10 0h1m14 0h1M4 57.5h1m5 0h1m9 0h1m24 0h1m20 0h1m4 0h1m8 0h1m14 0h1M34 58.5h1m3 0h1m2 0h1m24 0h1m4 0h1m1 0h1m13 0h1m1 0h1m1 0h1m1 0h1M2 59.5h1m21 0h1m26 0h1m3 0h1M12 60.5h1m2 0h1m14 0h1m9 0h1m25 0h1m4 0h1m14 0h2m7 0h1M3 61.5h1m10 0h1m9 0h1m4 0h1m19 0h1m15 0h1m3 0h1m4 0h1M0 62.5h1m27 0h1m13 0h1m14 0h1m3 0h1m2 0h3m4 0h1M7 63.5h1m1 0h1m15 0h1m11 0h1m10 0h2m3 0h1m4 0h1m29 0h1M1 64.5h2m4 0h1m1 0h1m13 0h1m2 0h1m31 0h1M11 65.5h1m8 0h1m16 0h1m5 0h1m16 0h1m10 0h1m12 0h1m1 0h1m2 0h1M19 66.5h1m14 0h1m5 0h2m6 0h1m23 0h1m26 0h1M8 67.5h1m15 0h1m1 0h1m7 0h1m4 0h1m5 0h1m51 0h1M0 68.5h3m9 0h2m3 0h2m9 0h1m3 0h1m8 0h1m1 0h1m1 0h1m33 0h2m10 0h1M17 69.5h1m2 0h1m10 0h1m3 0h1m17 0h1m8 0h1m6 0h2m17 0h1m4 0h1m4 0h1M0 70.5h2m2 0h1m12 0h1m3 0h2m7 0h1m11 0h1m11 0h1m18 0h1m6 0h1m1 0h1m13 0h1M3 71.5h1m33 0h1m3 0h1m4 0h1m11 0h2m12 0h1m24 0h1M36 72.5h1m7 0h1m22 0h1m27 0h1M4 73.5h1m18 0h1m4 0h2m8 0h1m33 0h1m12 0h1m2 0h1M4 74.5h1m7 0h1m45 0h1m25 0h1m14 0h1M61 75.5h1m2 0h1M26 76.5h1m62 0h1M4 77.5h1m58 0h1m3 0h1m18 0h1m4 0h1M9 78.5h1m9 0h1m4 0h1m21 0h2m1 0h1m9 0h1m16 0h1m6 0h1m13 0h2M9 79.5h1m35 0h1m1 0h1m23 0h1M8 80.5h1m10 0h2m32 0h1m19 0h1m17 0h1m1 0h1m5 0h1M3 81.5h1m24 0h1m5 0h1m5 0h1m1 0h1m4 0h1m3 0h1m4 0h1m7 0h1m9 0h1m10 0h2M3 82.5h1m5 0h1m8 0h1m2 0h1m6 0h1m43 0h1m10 0h1m3 0h1m1 0h1m4 0h1M8 83.5h1m3 0h1m7 0h1m6 0h1m12 0h1m2 0h1m14 0h1m4 0h1m5 0h2m3 0h1M21 84.5h1m11 0h1m1 0h1m23 0h1m12 0h1m5 0h1M1 85.5h1m5 0h1m65 0h1m7 0h1m7 0h1M13 86.5h2m28 0h1m2 0h1m12 0h1m7 0h1m5 0h1m14 0h1M5 87.5h1m5 0h1m49 0h1m13 0h1m15 0h1M2 88.5h1m33 0h1m32 0h1M8 89.5h1m4 0h1m3 0h2m15 0h1m13 0h1m20 0h1m20 0h1M0 90.5h1m2 0h1m12 0h1m28 0h1M44 91.5h1m7 0h1m26 0h1m5 0h1m1 0h2m2 0h1m1 0h1M3 92.5h1m7 0h1m12 0h1m10 0h1m11 0h1m8 0h1m13 0h1m4 0h1m1 0h1m3 0h2M5 93.5h1m69 0h1m3 0h1m18 0h1M1 94.5h1m8 0h1m7 0h1m8 0h1m4 0h1m7 0h1m1 0h2m31 0h1m1 0h2M22 95.5h1m48 0h1M14 96.5h1m9 0h1m6 0h1m3 0h1m3 0h1m11 0h2m6 0h1m1 0h1m10 0h1m16 0h1m6 0h1M10 97.5h1m11 0h1m10 0h1m3 0h1m14 0h1m14 0h1m30 0h1M12 98.5h1m4 0h1m27 0h1m6 0h1m7 0h2m11 0h1m15 0h1M8 99.5h1m3 0h1m2 0h1m1 0h1m4 0h1m21 0h1m10 0h1m17 0h2m11 0h1"/>
<path stroke="#6fff90" d="M17 0.5h1m1 0h1m1 0h1m10 0h1m26 0h1m11 0h1m4 0h1m16 0h1M30 1.5h1m1 0h1m3 0h1m9 0h1m7 0h1m6 0h1M9 2.5h1m2 0h1m4 0h2m1 0h1m1 0h1m9 0h1m15 0h1m1 0h1m8 0h1m22 0h1m6 0h1m9 0h1M5 3.5h1m4 0h1m3 0h1m8 0h2m30 0h1m37 0h1M13 4.5h1m8 0h1m2 0h1m25 0h1m15 0h1m12 0h1m14 0h1M81 5.5h1m1 0h1m7 0h2M7 6.5h1m8 0h1m5 0h1m3 0h1m2 0h2m6 0h1m16 0h1m5 0h1m33 0h1M22 7.5h1m26 0h1m5 0h1m20 0h1m1 0h1m1 0h1m1 0h1m8 0h1M15 8.5h1m3 0h1m3 0h1m1 0h2m11 0h1m15 0h1m4 0h1m2 0h1m18 0h1m2 0h1m7 0h1M12 9.5h1m11 0h1m5 0h1m37 0h2m16 0h1m5 0h4m2 0h1M8 10.5h1m8 0h1m6 0h1m8 0h1m6 0h1m39 0h1m2 0h1m4 0h1m1 0h1m4 0h1m1 0h1M0 11.5h1m2 0h1m8 0h1m1 0h1m13 0h1m16 0h1m23 0h1m8 0h1M0 12.5h1m5 0h1m8 0h1m4 0h1m33 0h1m24 0h1M1 13.5h1m3 0h1m13 0h1m2 0h1m50 0h1m7 0h1m1 0h1m13 0h1M13 14.5h1m18 0h1m6 0h2m42 0h1M6 15.5h1m15 0h1m2 0h2m19 0h1m16 0h1m3 0h1m1 0h1m5 0h1m11 0h1m2 0h1M0 16.5h1m2 0h1m28 0h1m24 0h1m18 0h2m13 0h1m3 0h1M23 17.5h1m6 0h1m17 0h1m21 0h1m5 0h1m9 0h1M4 18.5h1m19 0h1m3 0h1m3 0h2m6 0h2m29 0h1m11 0h1m3 0h1m5 0h1M10 19.5h2m9 0h1m4 0h1m39 0h2m2 0h1m2 0h1m8 0h1m3 0h1m7 0h1M20 20.5h1m13 0h1m1 0h1m3 0h4m20 0h1m6 0h1m13 0h1m6 0h1M6 21.5h1m20 0h1m6 0h1m34 0h1m9 0h1M34 22.5h1m10 0h1m18 0h1m5 0h3M15 23.5h1m1 0h1m6 0h1m5 0h1m23 0h1m6 0h1m18 0h1M30 24.5h1m4 0h1m10 0h1m9 0h1m20 0h1m4 0h1m1 0h2M6 25.5h1m13 0h1m3 0h1m1 0h1m8 0h1m4 0h2m7 0h1m40 0h1m8 0h1M23 26.5h1m2 0h1m19 0h1m15 0h1m2 0h1m9 0h1m17 0h1m1 0h1M9 27.5h1m11 0h1m16 0h1m3 0h1m41 0h2m4 0h1M6 28.5h1m10 0h1m30 0h1m9 0h1m38 0h2M2 29.5h1m3 0h1m20 0h1m20 0h1m4 0h1m1 0h1m7 0h1m13 0h1M16 30.5h1m1 0h1m7 0h1m16 0h1m12 0h1m9 0h1m2 0h2m13 0h1m2 0h1m10 0h1M1 31.5h1m20 0h1m2 0h1m4 0h1m11 0h1m22 0h1m27 0h1m3 0h1M33 32.5h2m1 0h1m7 0h1m1 0h1m5 0h1m16 0h1m2 0h1m2 0h1m2 0h1m13 0h1m6 0h1M5 33.5h1m12 0h1m1 0h1m9 0h1m54 0h1M1 34.5h1m16 0h1m14 0h1m10 0h1m3 0h1m11 0h1m5 0h1m2 0h2M3 35.5h1m8 0h1m26 0h1m2 0h1m11 0h1m7 0h3m5 0h1m1 0h1m5 0h1m1 0h2m1 0h1m5 0h1M4 36.5h2m1 0h1m13 0h1m3 0h1m14 0h1m3 0h1m5 0h1m45 0h1M1 37.5h1m28 0h1m26 0h1m22 0h1m13 0h1M4 38.5h1m4 0h1m10 0h1m9 0h2m17 0h1m31 0h1m3 0h1m6 0h1M2 39.5h1m2 0h1m1 0h1m2 0h1m8 0h1m3 0h1m17 0h1m1 0h1m1 0h1m20 0h1M6 40.5h2m5 0h1m31 0h1m7 0h1m1 0h2m2 0h1m3 0h1m4 0h1m12 0h1m8 0h1M12 41.5h1m1 0h1m1 0h1m1 0h1m13 0h1m12 0h1m3 0h1m1 0h2m33 0h3m4 0h1M0 42.5h1m23 0h1m16 0h1m6 0h1m21 0h1m27 0h1M0 43.5h1m19 0h1m3 0h1m11 0h1m11 0h1m19 0h1m1 0h1m3 0h1m11 0h1M19 44.5h1m3 0h1m3 0h1m9 0h1m22 0h1m3 0h1m30 0h1M1 45.5h1m5 0h1m6 0h1m27 0h1m22 0h1m4 0h1m5 0h1M7 46.5h2m10 0h1m48 0h1m9 0h1m7 0h2M8 47.5h2m11 0h1m2 0h1m4 0h1m2 0h1m7 0h1m21 0h1m27 0h1M1 48.5h1m20 0h1m3 0h1m20 0h1m4 0h2m23 0h1m2 0h1m3 0h1m14 0h1M1 49.5h1m38 0h1m8 0h1m6 0h1m4 0h1m34 0h1M2 50.5h1m4 0h1m5 0h1m9 0h1m11 0h1m3 0h1m13 0h1m10 0h1m14 0h1M2 51.5h2m10 0h1m11 0h1m29 0h2m5 0h1m1 0h1m10 0h1m1 0h1m7 0h1M5 52.5h1m2 0h1m12 0h1m4 0h1m9 0h1m3 0h1m11 0h1m7 0h1m9 0h1m10 0h1m2 0h1M5 53.5h1m11 0h1m6 0h1m8 0h1m58 0h2M10 54.5h1m8 0h2m21 0h1m16 0h1m23 0h1m3 0h2M22 55.5h1m23 0h1m9 0h1m7 0h1m14 0h1m8 0h1m4 0h1m5 0h1M9 56.5h1m17 0h1m29 0h1m4 0h1M67 57.5h1m17 0h1m2 0h1M10 58.5h2m17 0h1m1 0h1m19 0h1M0 59.5h1m16 0h1m14 0h2m4 0h1m6 0h1m16 0h1m2 0h1m22 0h1M2 60.5h1m10 0h1m5 0h2m10 0h1m3 0h1m40 0h1m7 0h1m3 0h1m5 0h1M2 61.5h1m39 0h1m8 0h1m9 0h1m28 0h1m2 0h1M7 62.5h1m10 0h1m65 0h1m1 0h2m4 0h1M2 63.5h1m18 0h1m11 0h1m1 0h1m19 0h1m5 0h1m11 0h1M19 64.5h1m2 0h1m20 0h1m1 0h1m6 0h2m10 0h1m7 0h1m1 0h1M1 65.5h1m3 0h1m13 0h1m2 0h1m2 0h2m1 0h1m15 0h1m21 0h1m5 0h1m9 0h1M16 66.5h1m3 0h1m6 0h2m15 0h2m20 0h1M0 67.5h1m14 0h1m6 0h2m5 0h1m14 0h1m5 0h1m10 0h1m13 0h1m4 0h1m10 0h1M7 68.5h1m29 0h2m11 0h1m2 0h1m6 0h1m4 0h1M3 69.5h1m24 0h1m4 0h1m14 0h1m3 0h1m4 0h1m6 0h1m1 0h1m4 0h1m9 0h1m10 0h1M10 70.5h1m7 0h1m8 0h1m5 0h1m36 0h1m8 0h1m1 0h1m2 0h1m3 0h1M11 71.5h1m33 0h1m6 0h1m8 0h1m22 0h1M19 72.5h2m30 0h1m1 0h1m20 0h1m17 0h1M11 73.5h1m3 0h1m2 0h2m13 0h1m15 0h1m4 0h1m21 0h1m6 0h1m9 0h1M25 74.5h1m25 0h1m3 0h1m10 0h1M3 75.5h1m6 0h1m17 0h1m6 0h2m15 0h1m35 0h1m10 0h1M19 76.5h1m11 0h1m15 0h1m28 0h1m13 0h1m5 0h1M9 77.5h1m2 0h1m35 0h1m15 0h1m3 0h1m2 0h1m13 0h1m3 0h1m7 0h1M8 78.5h1m7 0h1m52 0h1m3 0h1m14 0h2M11 79.5h1m5 0h1m4 0h1m3 0h1m2 0h1m16 0h1m25 0h1m22 0h1M5 80.5h1m8 0h1m30 0h1m9 0h2m7 0h1m21 0h1m1 0h1m6 0h2M8 81.5h1m4 0h1m4 0h1m4 0h1m9 0h1m14 0h1m11 0h1m5 0h1m5 0h1m19 0h1m4 0h1M0 82.5h1m25 0h1m13 0h1m4 0h1m12 0h1m34 0h1M9 83.5h1m6 0h1m6 0h1m1 0h1m12 0h1m14 0h1m6 0h1m19 0h3M6 84.5h1m49 0h1m3 0h1m3 0h1m6 0h1m22 0h1M12 85.5h1m2 0h1m10 0h1m4 0h1m4 0h1m43 0h1m14 0h1M10 86.5h1m6 0h1m8 0h1m8 0h1M9 87.5h2m34 0h1m3 0h1m2 0h1m20 0h1m7 0h1m17 0h1M3 88.5h1m1 0h1m6 0h1m9 0h1m8 0h1m13 0h1m18 0h1m17 0h1m15 0h1M6 89.5h1m3 0h1m11 0h1m29 0h1m1 0h1m26 0h1m2 0h2M5 90.5h1m6 0h1m15 0h1m2 0h1m3 0h2m1 0h1m28 0h1m3 0h1m2 0h1m11 0h1m1 0h1M6 91.5h1m1 0h1m20 0h1m24 0h2m12 0h1m9 0h1m2 0h1M13 92.5h1m11 0h1m11 0h1m2 0h1m3 0h1m9 0h1m4 0h1m19 0h1M23 93.5h1m21 0h1m3 0h2m5 0h1m2 0h1m24 0h1m5 0h2m2 0h1M24 94.5h1m29 0h1m9 0h1M0 95.5h1m13 0h1m25 0h2m10 0h1m28 0h1m5 0h1m9 0h2M11 96.5h1m3 0h1m9 0h1m7 0h1m7 0h1m22 0h2m14 0h1m12 0h1M9 97.5h1m15 0h1m13 0h1m9 0h1m1 0h1m11 0h1m18 0h1m5 0h1m6 0h1m3 0h1M9 98.5h1m8 0h1m8 0h1m2 0h1m4 0h1m10 0h1m4 0h1m4 0h1m1 0h1m18 0h1m4 0h1m3 0h1m7 0h1M19 99.5h1m1 0h1m7 0h1m23 0h1m16 0h1m4 0h1m7 0h1m8 0h1"/>
<path stroke="#90ff6f" d="M13 0.5h1m6 0h1m5 0h1m15 0h1m1 0h1m12 0h1m20 0h1m8 0h1m4 0h1m3 0h1M2 1.5h1m6 0h1m2 0h1m2 0h1m18 0h1m3 0h1m3 0h2m15 0h1m9 0h2m1 0h1M5 2.5h1m8 0h1m8 0h1m17 0h1m9 0h1m15 0h1m9 0h1M1 3.5h1m5 0h1m7 0h1m1 0h1m2 0h1m6 0h1m7 0h1m14 0h1m12 0h1m18 0h1m2 0h2m5 0h1m1 0h1M20 4.5h1m13 0h1m20 0h1m12 0h1m3 0h1m12 0h1m2 0h1M15 5.5h1m28 0h1m13 0h1m7 0h1m11 0h1M6 6.5h1m5 0h1m56 0h1M18 7.5h1m12 0h1m8 0h1m33 0h1m13 0h1m10 0h1M1 8.5h1m9 0h1m2 0h1m2 0h1m2 0h1m21 0h1m5 0h1m12 0h1m21 0h1M6 9.5h1m1 0h1m5 0h1m2 0h1m8 0h1m14 0h1m7 0h1m47 0h1M2 10.5h1m13 0h1m4 0h2m19 0h1m28 0h2m19 0h1m3 0h1M8 11.5h1m14 0h1m5 0h1m7 0h1m2 0h1m9 0h1m26 0h1m6 0h1m7 0h1M43 12.5h2m1 0h2m13 0h1m4 0h1m4 0h3M0 13.5h1m7 0h1m8 0h1m6 0h1m2 0h1m16 0h1m49 0h1M7 14.5h1m6 0h1m1 0h1m7 0h1m57 0h1m2 0h1M11 15.5h1m5 0h1m3 0h1m25 0h1m1 0h1m24 0h1m5 0h1m1 0h1m9 0h1m5 0h1M4 16.5h1m16 0h1m20 0h2m23 0h1M10 17.5h1m6 0h1m8 0h1m5 0h1m4 0h1m2 0h1m9 0h1m7 0h2m2 0h1m15 0h1m3 0h1m1 0h1m4 0h1m4 0h1M5 18.5h2m27 0h1m2 0h1m1 0h1m2 0h1m46 0h1m1 0h1M40 19.5h1m2 0h1m2 0h1m1 0h1m5 0h1m7 0h1m2 0h1m10 0h1m4 0h1m7 0h1M0 20.5h1m2 0h1m7 0h1m6 0h1m44 0h1m2 0h1m9 0h1m5 0h1m12 0h1M23 21.5h1m13 0h1m6 0h1m12 0h1m5 0h1m10 0h1M6 22.5h1m26 0h1m1 0h2m6 0h1m6 0h1m5 0h1m8 0h1m11 0h1M2 23.5h1m3 0h1m5 0h1m1 0h1m20 0h1m4 0h1m1 0h1m3 0h1m13 0h1m15 0h1m15 0h1m6 0h1M0 24.5h1m4 0h1m2 0h1m13 0h1m11 0h1m8 0h1m39 0h1m9 0h1M5 25.5h1m10 0h1m6 0h1m23 0h1m6 0h1m17 0h1m2 0h1m3 0h1m11 0h1m2 0h1m1 0h1M2 26.5h1m12 0h1m23 0h1m13 0h1m3 0h1m20 0h2m12 0h1M2 27.5h1m10 0h1m2 0h1m2 0h1m15 0h1m10 0h2m45 0h1m3 0h3M12 28.5h1m3 0h1m22 0h1m23 0h2m10 0h1M0 29.5h1m13 0h1m22 0h1m1 0h1m5 0h1m1 0h1m24 0h1m1 0h1m7 0h1m6 0h1m1 0h1M3 30.5h1m13 0h1m55 0h1m11 0h1M2 31.5h1m6 0h1m4 0h1m4 0h1m21 0h1m13 0h1m8 0h1m12 0h2m2 0h1m8 0h1M3 32.5h1m3 0h1m4 0h1m5 0h1m3 0h1m3 0h2m7 0h1m24 0h3m10 0h1m13 0h1M13 33.5h1m32 0h1m6 0h1m5 0h1m29 0h1m4 0h1M17 34.5h1m5 0h1m17 0h1m1 0h1m13 0h2m4 0h1m1 0h1m24 0h1M16 35.5h1m5 0h1m23 0h1m20 0h1m1 0h1M14 36.5h1m2 0h1m13 0h1m1 0h1m4 0h1m31 0h1m22 0h1m5 0h1M6 37.5h1m9 0h1m3 0h1m12 0h1m4 0h1m3 0h1m7 0h1m5 0h1m4 0h1m15 0h1m17 0h1m3 0h1M3 38.5h1m9 0h1m1 0h1m6 0h1m9 0h1m18 0h1m15 0h1m4 0h1m7 0h1m6 0h1M9 39.5h1m1 0h1m23 0h1m16 0h1m6 0h1m2 0h1m15 0h1M20 40.5h1m13 0h1m5 0h1m16 0h1m19 0h1m9 0h1M9 41.5h1m3 0h1m6 0h1m4 0h1m1 0h1m2 0h1m24 0h1m4 0h1m11 0h1m7 0h1m10 0h1m7 0h1M35 42.5h1m7 0h1m12 0h1m6 0h1m2 0h1m5 0h1m2 0h1m2 0h2m14 0h1M5 43.5h1m6 0h1m10 0h1m7 0h1m9 0h1m11 0h1m7 0h1m23 0h1m9 0h1M11 44.5h1m3 0h1m15 0h1m12 0h1m1 0h2M3 45.5h1m11 0h1m1 0h1m6 0h1m2 0h2m5 0h2m23 0h1M11 46.5h1m1 0h1m19 0h1m8 0h1m5 0h3m6 0h1m4 0h2m24 0h1m6 0h1M5 47.5h1m1 0h1m8 0h1m2 0h1m23 0h2m13 0h1m8 0h1m21 0h1m4 0h1m3 0h1M4 48.5h1m13 0h1m9 0h1m46 0h1m2 0h2m5 0h1m2 0h1m6 0h1M27 49.5h1m15 0h1m4 0h1m3 0h1m21 0h1m19 0h1M38 50.5h1m3 0h1m3 0h1m3 0h1m8 0h1m20 0h1m13 0h1M37 51.5h1m1 0h1m3 0h1m27 0h1m17 0h2M10 52.5h1m38 0h1m26 0h1m12 0h1M36 53.5h1m5 0h1m1 0h1m2 0h1m11 0h1m2 0h1m16 0h1m1 0h1m6 0h1m9 0h1M2 54.5h1m14 0h1m6 0h1m13 0h1m9 0h2m4 0h1m6 0h1m3 0h1m4 0h1m9 0h1M12 55.5h1m1 0h1m28 0h1m5 0h1m3 0h1m5 0h1m36 0h1M35 56.5h1m6 0h1m1 0h1m7 0h1m20 0h2M3 57.5h1m32 0h1m1 0h1m34 0h1m19 0h1M6 58.5h1m2 0h1m11 0h1m3 0h3m11 0h1m8 0h1m9 0h1m1 0h1m18 0h1m1 0h1M3 59.5h1m2 0h1m18 0h1m10 0h1m21 0h1m11 0h1M16 60.5h1m10 0h1m13 0h1m1 0h1m9 0h1m2 0h1m13 0h1m11 0h1m8 0h1m4 0h1M1 61.5h1m4 0h1m2 0h1m1 0h1m9 0h1m26 0h1m6 0h1m17 0h1m3 0h1m9 0h1m9 0h1M27 62.5h1m8 0h1m4 0h1m9 0h1m10 0h1m11 0h1m2 0h1M1 63.5h1m45 0h1m15 0h1m16 0h1m8 0h1M8 64.5h1m27 0h1m12 0h1m16 0h1m11 0h1m3 0h1m12 0h1m2 0h2M2 65.5h1m1 0h1m4 0h1m43 0h1m3 0h1m11 0h1m3 0h1M5 66.5h1m2 0h1m8 0h1m20 0h1m58 0h1M20 67.5h1m4 0h1m10 0h1m5 0h1m10 0h1m19 0h1m9 0h1m15 0h1M4 68.5h2m10 0h1m52 0h1m18 0h1M14 69.5h2m6 0h1m3 0h1m9 0h1m38 0h1m18 0h2M12 70.5h2m9 0h1m17 0h1m2 0h1m4 0h1m2 0h1m6 0h1m11 0h1m13 0h1m6 0h1M9 71.5h1m8 0h1m5 0h1m4 0h1m10 0h1m28 0h1m17 0h1M1 72.5h1m4 0h1m22 0h2m48 0h1m5 0h1M2 73.5h1m17 0h2m3 0h2m19 0h1m8 0h1m10 0h1m3 0h1m21 0h1M10 74.5h1m7 0h1m5 0h1m17 0h1m27 0h1m16 0h1m9 0h1M42 75.5h1m6 0h2m6 0h1m1 0h1m6 0h1m11 0h1M4 76.5h1m22 0h1m1 0h1m29 0h1m21 0h1m10 0h1m1 0h1M5 77.5h1m13 0h1m56 0h1m5 0h1m12 0h1m2 0h1M0 78.5h1m22 0h1m11 0h1m1 0h1m43 0h1m4 0h1M27 79.5h1m16 0h1m23 0h1m4 0h2m2 0h1m2 0h1m1 0h1m5 0h1m5 0h1M10 80.5h1m37 0h1m11 0h1m17 0h1m2 0h1m2 0h1m2 0h1m10 0h1M2 81.5h1m52 0h1m9 0h1m33 0h1M36 82.5h2m8 0h1m8 0h1m7 0h1m5 0h2m25 0h1M2 83.5h2m3 0h1m26 0h1m2 0h1m6 0h1m5 0h1m10 0h2M14 84.5h1m25 0h1m4 0h1m9 0h1m6 0h1m2 0h1m1 0h1M2 85.5h1m5 0h1m5 0h1m2 0h1m19 0h1m2 0h1m12 0h1m18 0h1M2 86.5h2m21 0h1m2 0h2m20 0h1m2 0h1m1 0h3m7 0h1m8 0h1M0 87.5h1m7 0h1m4 0h1m21 0h1m2 0h1m9 0h1m4 0h1m10 0h2m4 0h1m3 0h1m3 0h1m4 0h1m3 0h1M13 88.5h1m5 0h1m6 0h1m6 0h1m7 0h1m6 0h1m6 0h1m14 0h1m12 0h1M1 89.5h2m8 0h1m4 0h1m6 0h1m22 0h1m28 0h1m4 0h1m15 0h1M8 90.5h1m1 0h1m3 0h1m27 0h2m11 0h1m4 0h1m3 0h1m8 0h1m1 0h1m9 0h1M2 91.5h1m14 0h1m12 0h1m6 0h1m27 0h1m33 0h1M6 92.5h1m10 0h2m23 0h1m2 0h1m14 0h1m19 0h1m2 0h1m5 0h1M0 93.5h1m12 0h1m2 0h2m47 0h1m5 0h1m6 0h1m13 0h1M37 94.5h1m23 0h2m5 0h1m10 0h1m5 0h1m12 0h1M3 95.5h1m28 0h2m14 0h1m4 0h1m6 0h1m5 0h1m10 0h1m2 0h1m11 0h1M34 96.5h1m19 0h1m8 0h1m3 0h1m11 0h1m18 0h1M2 97.5h1m11 0h1m19 0h1m15 0h1m4 0h1M15 98.5h1m8 0h1m14 0h1m8 0h1m16 0h1m25 0h1m6 0h1M4 99.5h1m11 0h1m15 0h1m3 0h1m39 0h1m1 0h1m1 0h1m8 0h1"/>
<path stroke="#b1ff4e" d="M10 0.5h1m5 0h1m11 0h2m8 0h2m5 0h2m13 0h1m3 0h1m16 0h1m15 0h1M11 1.5h1m2 0h1m42 0h1m9 0h1m3 0h1m1 0h1m7 0h1m5 0h1m1 0h1m4 0h1m2 0h1M19 2.5h1m20 0h1m1 0h1m14 0h1m6 0h1m1 0h1m19 0h1m5 0h1m1 0h1M4 3.5h1m26 0h1m12 0h1m1 0h1m17 0h1m15 0h1m15 0h1M19 4.5h1m1 0h1m11 0h1m3 0h1m9 0h1m4 0h1m3 0h1m1 0h1m2 0h1m4 0h1m2 0h1m6 0h1m14 0h1m2 0h1m4 0h1M26 5.5h1m13 0h1m7 0h1m16 0h1m2 0h1m5 0h1m14 0h1M14 6.5h1m24 0h1m2 0h1m7 0h1m11 0h1m2 0h1m1 0h1M15 7.5h1m31 0h1m8 0h1m1 0h2m2 0h1m3 0h1m25 0h1M6 8.5h1m21 0h3m8 0h1m16 0h1m11 0h1m5 0h2m19 0h2M20 9.5h1m7 0h1m2 0h1m4 0h1m6 0h1m12 0h1m9 0h1M0 10.5h1m25 0h1m26 0h1m4 0h1m4 0h1m10 0h1m4 0h1M1 11.5h1m15 0h1m8 0h1m4 0h1m1 0h1m12 0h1m40 0h1m3 0h1M2 12.5h1m10 0h1m28 0h1m2 0h1m24 0h1m5 0h1m13 0h1M18 13.5h1m20 0h1m12 0h1m6 0h1m16 0h1M1 14.5h1m13 0h1m12 0h1m7 0h1m5 0h1m9 0h1m2 0h1m13 0h2m6 0h1m6 0h1M20 15.5h1m3 0h1m15 0h1m7 0h1m21 0h1M7 16.5h1m4 0h1m50 0h2m21 0h1m7 0h1M28 17.5h1m43 0h1M0 18.5h2m42 0h1m1 0h1m10 0h1m7 0h1m4 0h1m4 0h1m9 0h1M1 19.5h1m7 0h1m17 0h1m2 0h1m11 0h1m14 0h1m2 0h1m3 0h1m10 0h1m12 0h1m7 0h1M21 20.5h1m4 0h1m19 0h2m7 0h2m11 0h1m4 0h1m16 0h1m5 0h2M2 21.5h1m14 0h2m12 0h1m9 0h2m5 0h1m15 0h2m14 0h1m3 0h1m6 0h2m4 0h1M31 22.5h1m26 0h1m1 0h1m1 0h1m32 0h1M7 23.5h1m3 0h1m13 0h1m6 0h1m19 0h1m37 0h1M2 24.5h1m7 0h1m9 0h1m16 0h1m3 0h1m20 0h1m16 0h1m8 0h1m2 0h1M10 25.5h1m3 0h1m13 0h1m22 0h1m6 0h1m10 0h1m8 0h1m1 0h1m7 0h1m9 0h1M16 26.5h1m8 0h1m7 0h1m7 0h1m19 0h1m12 0h1m14 0h1m4 0h1M22 27.5h1m35 0h2m6 0h1m28 0h1M5 28.5h1m5 0h1m3 0h1m5 0h1m13 0h1m44 0h1m10 0h1m7 0h1M24 29.5h1m10 0h1m8 0h1m17 0h1m2 0h1m15 0h1m13 0h1M7 30.5h1m2 0h2m23 0h1m1 0h1m19 0h1m7 0h1M6 31.5h1m16 0h1m5 0h1m6 0h1m10 0h1m3 0h1m8 0h1m1 0h1m9 0h1m11 0h1M2 32.5h1m2 0h1m11 0h1m11 0h1m12 0h1m12 0h1m7 0h1m10 0h1m6 0h1m1 0h1m13 0h1M8 33.5h1m25 0h1m12 0h1m16 0h1m28 0h1m3 0h2M4 34.5h1m6 0h1m1 0h1m22 0h1m22 0h1m8 0h1m12 0h2m9 0h1m1 0h1M8 35.5h1m4 0h1m4 0h1m56 0h2m15 0h1m3 0h2M1 36.5h1m16 0h1m3 0h1m3 0h1m9 0h1m21 0h2m3 0h1m21 0h1m3 0h1m4 0h2m1 0h1M4 37.5h1m2 0h1m1 0h1m2 0h1m35 0h1m4 0h1m1 0h1m15 0h1m1 0h1M2 38.5h1m13 0h1m18 0h1m11 0h1m2 0h1m1 0h1m20 0h1m22 0h1M0 39.5h1m16 0h1m3 0h2m1 0h1m44 0h1M8 40.5h1m3 0h1m1 0h1m4 0h1m6 0h1m23 0h1m10 0h1m4 0h2m1 0h1m4 0h1m19 0h1M10 41.5h2m14 0h1m16 0h1m15 0h1m10 0h1m7 0h1m2 0h1M5 42.5h1m1 0h1m17 0h1m1 0h1m4 0h1m5 0h1m34 0h2m11 0h1M2 43.5h1m14 0h1m25 0h2m2 0h1m2 0h1m9 0h1M10 44.5h1m23 0h1m3 0h1m17 0h1m17 0h1m13 0h1m5 0h1m2 0h1M4 45.5h1m1 0h1m1 0h1m10 0h1m2 0h1m40 0h1m16 0h1M18 46.5h1m10 0h1m1 0h1m2 0h1m31 0h1m2 0h1m6 0h1M18 47.5h1m1 0h1m9 0h1m8 0h1m6 0h1m24 0h1m1 0h1m9 0h1m3 0h2m8 0h1M16 48.5h1m6 0h1m12 0h2m2 0h1m7 0h1m13 0h1m13 0h1m20 0h2M3 49.5h1m1 0h1m14 0h1m1 0h1m5 0h1m13 0h1m7 0h1m4 0h1m28 0h1m13 0h1M8 50.5h1m21 0h1m6 0h1m11 0h1m4 0h1m17 0h2m18 0h1m6 0h1M0 51.5h1m15 0h1m6 0h1m4 0h1m20 0h1m8 0h1m3 0h1m7 0h1m16 0h1M0 52.5h1m3 0h1m40 0h1m2 0h1m22 0h1m18 0h1m4 0h1M27 53.5h1m1 0h1m2 0h1m6 0h1m57 0h1M8 54.5h1m7 0h1m4 0h3m10 0h3m8 0h1m1 0h1m7 0h1m6 0h1m27 0h2m6 0h1M1 55.5h1m38 0h1m10 0h1m11 0h1m4 0h1m1 0h1m1 0h1M1 56.5h1m8 0h1m10 0h1m19 0h1m9 0h1m13 0h2m11 0h1m8 0h1m6 0h2m3 0h1M0 57.5h1m13 0h1m9 0h1M0 58.5h1m3 0h1m8 0h1m2 0h1m16 0h1m16 0h1m11 0h1m1 0h1m5 0h1m13 0h1m3 0h1m3 0h1m3 0h1M5 59.5h1m6 0h1m7 0h1m6 0h1m11 0h1m23 0h1m9 0h1m7 0h1M17 60.5h1m4 0h1m2 0h2m2 0h1m4 0h1m1 0h1m1 0h2m5 0h1m5 0h1m9 0h3m1 0h1m11 0h1m11 0h1M7 61.5h1m9 0h1m16 0h1m2 0h1m6 0h1m1 0h1m9 0h1m13 0h1m17 0h1M11 62.5h1m36 0h1m19 0h1m11 0h1M11 63.5h1m4 0h1m3 0h1m1 0h1m36 0h1m5 0h1m1 0h1m4 0h1m5 0h2m13 0h1m1 0h1M21 64.5h1m8 0h1m6 0h1m27 0h1m13 0h1m12 0h1M8 65.5h1m26 0h1m34 0h1m3 0h1m18 0h1M11 66.5h1m24 0h1m16 0h1m5 0h1m4 0h2m10 0h1m4 0h2M3 67.5h1m8 0h1m14 0h1m13 0h1m15 0h1m24 0h1m3 0h1M10 68.5h2m9 0h1m5 0h1m14 0h1m13 0h1m14 0h1m22 0h1M12 69.5h1m6 0h1m3 0h1m13 0h1m6 0h1m4 0h1m1 0h1m2 0h1m18 0h1M3 70.5h1m11 0h1m18 0h1m15 0h1m13 0h1m2 0h1m9 0h1m9 0h1m1 0h1M5 71.5h1m21 0h1m2 0h1m7 0h1m27 0h1m13 0h1M3 72.5h1m23 0h1m11 0h1m19 0h1m11 0h1m1 0h1m7 0h1m12 0h1m4 0h1M40 73.5h1m3 0h1m8 0h1m6 0h1m14 0h1m6 0h1M21 74.5h1m4 0h1m10 0h1m18 0h1m8 0h1m11 0h2m14 0h1M6 75.5h1m4 0h1m2 0h1m6 0h1m2 0h1m20 0h1m19 0h1m2 0h1m13 0h1m3 0h1M6 76.5h1m2 0h1m2 0h1m3 0h1m4 0h1m6 0h1m3 0h1m4 0h1m13 0h1m8 0h1M6 77.5h1m9 0h1m12 0h2m6 0h1m9 0h1M30 78.5h1m3 0h1m21 0h1m3 0h1m3 0h1M3 79.5h2m13 0h2m5 0h1m8 0h1m1 0h1m3 0h1m7 0h1m34 0h1M9 80.5h1m11 0h2m35 0h1m18 0h1M0 81.5h1m4 0h1m48 0h1m8 0h1m14 0h1m16 0h1M5 82.5h1m6 0h1m7 0h1m13 0h1m6 0h1m14 0h1m9 0h1m11 0h2m10 0h1m8 0h1M0 83.5h1m25 0h1m3 0h1m5 0h1m20 0h1m1 0h1m6 0h1m1 0h1m9 0h1M2 84.5h1m14 0h1m1 0h1m16 0h1m10 0h2m20 0h1m10 0h2m3 0h3m8 0h1M5 85.5h1m10 0h1m7 0h1m4 0h1m12 0h1m13 0h1m4 0h1m13 0h1m22 0h1M1 86.5h1m6 0h1m15 0h1m6 0h1m15 0h1m16 0h1m4 0h1m15 0h1M26 87.5h1m2 0h1m7 0h1m3 0h1m2 0h1m37 0h1m3 0h1M24 88.5h2m3 0h1m8 0h1m13 0h1m21 0h2m14 0h1M3 89.5h1m68 0h1m3 0h1m11 0h2M1 90.5h1m23 0h1m6 0h1m19 0h1m1 0h1m15 0h1m19 0h1M13 91.5h1m6 0h1m1 0h1m5 0h1m3 0h1m13 0h2m8 0h1m10 0h1m1 0h1m2 0h2m3 0h1m11 0h1m6 0h1M0 92.5h1m6 0h1m2 0h1m3 0h1m18 0h1m18 0h1m31 0h1m2 0h1M4 93.5h1m16 0h1m3 0h1m22 0h1m44 0h1M7 94.5h1m18 0h1m2 0h1m11 0h1m3 0h1m1 0h1m1 0h1m1 0h2m18 0h1m17 0h1M15 95.5h1m14 0h1m8 0h1m10 0h1m5 0h1M1 96.5h1m4 0h1m12 0h2m25 0h1m6 0h1m21 0h1m7 0h1m4 0h1m1 0h1M3 97.5h1m8 0h1m31 0h1m24 0h1m13 0h1M4 98.5h1m5 0h1m9 0h1m11 0h1m20 0h1m1 0h1m7 0h1M26 99.5h1m7 0h1m5 0h2m3 0h1m19 0h1m6 0h1m26 0h1"/>
<path stroke="#d2ff2d" d="M0 0.5h1m1 0h1m5 0h2m40 0h1m10 0h1m4 0h1m2 0h1m4 0h1m16 0h1m7 0h1M5 1.5h1m27 0h1m13 0h2m14 0h1M3 2.5h1m26 0h2m2 0h2m13 0h1m2 0h1m5 0h1m12 0h1m13 0h1m9 0h1M8 3.5h1m30 0h1m13 0h1m43 0h1M7 4.5h1m16 0h1m3 0h2m15 0h1m19 0h1m4 0h1m3 0h1m2 0h1m5 0h1m9 0h1m4 0h1M9 5.5h1m7 0h1m16 0h1m22 0h1m1 0h1m10 0h1m8 0h1m18 0h1M3 6.5h2m35 0h1m34 0h1m8 0h1M5 7.5h1m7 0h1m3 0h1m14 0h1m3 0h1m16 0h1M5 8.5h1m7 0h1m18 0h1m3 0h1m18 0h1m20 0h1m1 0h1m3 0h1m7 0h1M37 9.5h1m14 0h1m24 0h1m5 0h1m15 0h1M18 10.5h1m4 0h1m20 0h1M9 11.5h1m10 0h1m1 0h1m12 0h1m3 0h1m3 0h1m3 0h1m3 0h1m12 0h1M8 12.5h1m10 0h1m7 0h2m3 0h1m22 0h1M3 13.5h2m15 0h2m19 0h1m1 0h1m22 0h1m18 0h1M17 14.5h2m40 0h1m3 0h1m1 0h1m31 0h1M0 15.5h1m6 0h1m22 0h1m14 0h1m19 0h1m6 0h1m8 0h1M8 16.5h1m2 0h1m21 0h1m1 0h1m10 0h1m3 0h1m14 0h2m8 0h1m3 0h1M14 17.5h1m3 0h1m20 0h1m13 0h1m3 0h1m32 0h1M35 18.5h1m13 0h1m1 0h1m4 0h1m2 0h1m6 0h1m1 0h1M7 19.5h2m11 0h1m29 0h2m28 0h1m4 0h1m11 0h1m1 0h1M5 20.5h1m16 0h1m4 0h1m5 0h1m20 0h1m19 0h1m5 0h1m8 0h1M3 21.5h1m18 0h1m10 0h1m11 0h1m10 0h1m4 0h1m4 0h1m10 0h1m3 0h1m3 0h1m1 0h1m11 0h1M7 22.5h1m13 0h2m7 0h1m28 0h1m15 0h1m13 0h1M5 23.5h1m3 0h1m8 0h1m15 0h1m12 0h1m5 0h1m5 0h1m18 0h1m6 0h2m4 0h1m4 0h1M12 24.5h1m5 0h1m9 0h1m7 0h1m1 0h1m9 0h1m4 0h1m12 0h1m29 0h1M1 25.5h1m2 0h1m12 0h1m24 0h2m2 0h1m15 0h1m2 0h1M4 26.5h1m3 0h1m9 0h2m16 0h1m3 0h1m7 0h1m2 0h1m12 0h1m5 0h1m5 0h2m10 0h1M0 27.5h2m1 0h1m2 0h1m24 0h1m2 0h1m2 0h1m2 0h1m34 0h1M0 28.5h2m7 0h1m17 0h1m5 0h1m13 0h1m5 0h1m2 0h1m3 0h1m11 0h1m20 0h1M11 29.5h1m6 0h1m13 0h1m23 0h1m9 0h1m11 0h1M1 30.5h1m6 0h1m12 0h1m38 0h1m17 0h1M11 31.5h1m9 0h1m15 0h1m1 0h2m44 0h1M9 32.5h1m5 0h1m22 0h1m8 0h1m1 0h1m41 0h1M9 33.5h1m12 0h1m29 0h1m15 0h2m1 0h1m1 0h1m18 0h1M2 34.5h1m23 0h1m5 0h1m7 0h1m6 0h1m4 0h1m18 0h1m13 0h1m1 0h1M23 35.5h1m24 0h1m3 0h1m24 0h1m15 0h1M23 36.5h1m3 0h1m11 0h1m3 0h1m24 0h1m4 0h1m5 0h1m18 0h1M17 37.5h1m7 0h1m15 0h1m4 0h1m19 0h1m5 0h1m16 0h1M0 38.5h1m13 0h1m11 0h1m47 0h1M27 39.5h1m6 0h1m26 0h1m1 0h1m17 0h1M0 40.5h1m14 0h1m35 0h1m8 0h1m24 0h1m3 0h1M15 41.5h1m32 0h1m4 0h1m2 0h1m6 0h2m29 0h1m1 0h1M2 42.5h1m1 0h1m7 0h1m8 0h1m8 0h1m3 0h1m22 0h1m32 0h1M10 43.5h1m5 0h1m10 0h1m6 0h1m27 0h1m25 0h1m3 0h1m6 0h1M6 44.5h1m10 0h1m4 0h1m1 0h1m7 0h1m17 0h1m3 0h1m2 0h1m7 0h1m3 0h1m13 0h1m3 0h1M69 45.5h1m1 0h1m1 0h1m8 0h1M5 46.5h1m17 0h1m2 0h1m27 0h1m18 0h1m7 0h1m2 0h1m4 0h1M1 47.5h1m11 0h1m14 0h1m9 0h1m27 0h1m5 0h1m5 0h1M12 48.5h4m19 0h1m27 0h1M11 49.5h1m6 0h1m35 0h1m7 0h1m24 0h1M32 50.5h1m19 0h1m18 0h1m6 0h1m3 0h1M7 51.5h2m31 0h1m1 0h1m56 0h1M24 52.5h1m4 0h1m48 0h1M1 53.5h1m14 0h1m2 0h1m18 0h1m17 0h1m3 0h1m3 0h1m11 0h1m8 0h1m1 0h1M5 54.5h1m1 0h1m4 0h1m38 0h1m4 0h1m20 0h1M18 55.5h1m2 0h1m14 0h1m47 0h1m2 0h1m6 0h1M4 56.5h1m1 0h2m6 0h1m1 0h2m36 0h1m31 0h1m6 0h1M9 57.5h1m17 0h1m2 0h1m11 0h1m15 0h1m3 0h1m6 0h1m19 0h1M5 58.5h1m22 0h1m25 0h1m13 0h1m11 0h1m2 0h1m1 0h1M10 59.5h1m10 0h1m1 0h1m4 0h1m12 0h1m7 0h1m3 0h2m1 0h2m1 0h1m14 0h1m1 0h1m12 0h1M11 60.5h1m12 0h1m12 0h1m10 0h1m3 0h1m2 0h1m2 0h1m13 0h1M15 61.5h1m7 0h1m19 0h1m27 0h2m12 0h2m2 0h1m6 0h1m2 0h1M2 62.5h1m23 0h1m4 0h1m23 0h2m21 0h1m10 0h1m3 0h1M36 63.5h1m6 0h1m2 0h1m4 0h1m4 0h2m13 0h1m5 0h1M6 64.5h1m4 0h2m11 0h1m16 0h1m2 0h1m12 0h1m3 0h1m6 0h1m11 0h1m6 0h1M0 65.5h1m6 0h1m10 0h1m10 0h1m22 0h1m6 0h1m17 0h1m5 0h1M2 66.5h1m20 0h3m4 0h1m6 0h1m11 0h1m12 0h1m10 0h1m9 0h1m1 0h1m1 0h1M46 67.5h1m2 0h1m9 0h1m2 0h1m5 0h1m8 0h1m16 0h2M8 68.5h1m11 0h1m3 0h1m4 0h1m16 0h1m1 0h1m38 0h1m2 0h1m1 0h1M5 69.5h1m2 0h2m19 0h1m33 0h1m19 0h2m6 0h1m4 0h1m2 0h1M29 70.5h1m8 0h2m11 0h1m26 0h1M1 71.5h1m21 0h1m11 0h1m27 0h2m24 0h1m2 0h1M8 72.5h1m6 0h1m5 0h1m13 0h1m9 0h1m19 0h1m11 0h1m2 0h1m2 0h1M8 73.5h1m1 0h1m31 0h1m7 0h1m11 0h1M9 74.5h1m22 0h2m4 0h2m5 0h1m29 0h1m6 0h1M8 75.5h1m30 0h1m4 0h1m6 0h1m3 0h1m4 0h1m1 0h1m4 0h1m5 0h1m6 0h1m12 0h1M22 76.5h3m17 0h2m4 0h1m4 0h1m9 0h1m7 0h1m8 0h1m4 0h1M7 77.5h1m13 0h1m2 0h2m12 0h1m6 0h1m32 0h1m2 0h1m10 0h1m3 0h1M14 78.5h1m2 0h1m20 0h1m2 0h1m11 0h1m16 0h1m13 0h1m8 0h1M7 79.5h2m5 0h1m15 0h1m31 0h1m4 0h1m21 0h1m2 0h1m6 0h1M15 80.5h1m11 0h1m1 0h2m35 0h1m2 0h1m6 0h1m12 0h1m2 0h1m4 0h1M16 81.5h1m2 0h1m17 0h1m1 0h1m1 0h1m3 0h1m3 0h1m27 0h1m9 0h1m2 0h2m6 0h1M4 82.5h1m10 0h1m14 0h2m12 0h1m17 0h1m8 0h1m9 0h1m15 0h1M28 83.5h1m13 0h1m4 0h1m6 0h1m28 0h1m7 0h1M7 84.5h2m6 0h1m15 0h1m10 0h1m23 0h1m23 0h1m2 0h1M4 85.5h1m6 0h1m15 0h1m13 0h1m3 0h1m3 0h1m4 0h1m19 0h1m1 0h1m7 0h2m8 0h1m4 0h1M22 86.5h1m29 0h1m26 0h1m7 0h1M7 87.5h1m10 0h1m8 0h1m4 0h1m7 0h1m27 0h1m25 0h1M1 88.5h1m44 0h1m18 0h1m7 0h1m15 0h1m4 0h1M30 89.5h1m9 0h1m3 0h1m15 0h1M13 90.5h1m13 0h1m66 0h1M5 91.5h1m3 0h1m2 0h1m5 0h1m4 0h2m32 0h1m2 0h1M4 92.5h2m32 0h1m10 0h1m8 0h1m7 0h1M31 93.5h2m19 0h1m33 0h1M0 94.5h1m29 0h1m2 0h3m14 0h1m18 0h1m18 0h1m2 0h1M2 95.5h1m9 0h2m17 0h1m5 0h1m5 0h1m11 0h1m6 0h1m1 0h1m9 0h1m3 0h1m11 0h1m2 0h1M0 96.5h1m21 0h1m6 0h1m2 0h1m9 0h1m13 0h1m24 0h1m10 0h1M5 97.5h1m9 0h1m3 0h1m8 0h1m30 0h1m4 0h1m8 0h1m1 0h1m16 0h2m2 0h1M0 98.5h1m12 0h1m7 0h1m9 0h1m18 0h1m16 0h1m8 0h1m2 0h1m13 0h1M5 99.5h1m5 0h1m2 0h1m10 0h1m5 0h1m1 0h1m18 0h1m4 0h1m27 0h1m1 0h1m9 0h1"/>
<path stroke="#f3ff0c" d="M5 0.5h1m1 0h1m3 0h1m3 0h1m18 0h1m13 0h1m39 0h2M17 1.5h1m5 0h1m3 0h1m3 0h1m12 0h1m33 0h1m1 0h1m17 0h1M10 2.5h1m16 0h1m19 0h1m13 0h1m17 0h1m3 0h1M32 3.5h1m1 0h1m1 0h1m4 0h1m3 0h1m12 0h1m9 0h1m7 0h1m2 0h1m8 0h1M5 4.5h1m17 0h1m12 0h1m38 0h1m2 0h1m2 0h1m14 0h1M8 5.5h1m12 0h1m11 0h1m2 0h1m9 0h1M19 6.5h1m5 0h1m15 0h1m29 0h1m7 0h1m1 0h1m10 0h1m2 0h1M19 7.5h1m15 0h1m2 0h1m6 0h1m5 0h1M8 8.5h1m12 0h1m12 0h1m9 0h1m18 0h1m1 0h1M1 9.5h1m43 0h1m16 0h1m8 0h1m4 0h1m14 0h1M28 10.5h1m5 0h1m10 0h2m12 0h1m6 0h1m8 0h1m17 0h1M16 11.5h1m4 0h1m5 0h1m14 0h1m1 0h1m11 0h1m6 0h1m29 0h1M5 12.5h1m6 0h1m3 0h1m5 0h1m1 0h1m11 0h1m4 0h1m8 0h1m1 0h1m11 0h2m17 0h1M2 13.5h1m13 0h1m8 0h2m1 0h1m27 0h1m8 0h1M0 14.5h1m22 0h1m1 0h2m17 0h1m3 0h1m9 0h1m28 0h1m11 0h1M12 15.5h1m23 0h1m46 0h1m1 0h1M1 16.5h1m7 0h1m5 0h1m44 0h1m20 0h1m17 0h1M31 17.5h1m23 0h1m8 0h1m23 0h1m7 0h3M16 18.5h2m20 0h1m15 0h1m5 0h1m12 0h1m8 0h1M13 19.5h1m4 0h1m3 0h1m6 0h1m5 0h1m8 0h1m8 0h1m25 0h1m18 0h1M1 20.5h1m17 0h1m11 0h1m13 0h1m6 0h1m9 0h1m28 0h1M93 21.5h1M9 22.5h1m10 0h1m30 0h1m3 0h1m13 0h1m13 0h1m4 0h1M8 23.5h1m12 0h1m7 0h1m1 0h1m36 0h1m15 0h1m8 0h1m1 0h1M15 24.5h1m53 0h1m28 0h1M37 25.5h2m16 0h1m10 0h1m3 0h1m14 0h1m1 0h1m4 0h1M20 26.5h1m6 0h2m3 0h1m34 0h2m3 0h1m10 0h1m3 0h1m2 0h1M4 27.5h1m15 0h1m5 0h1m3 0h1m10 0h1m2 0h1m17 0h1m4 0h2m12 0h1m4 0h1M23 28.5h1m2 0h1m3 0h1m5 0h2m4 0h1m14 0h1m4 0h1m6 0h1m6 0h1m15 0h1M9 29.5h1m2 0h1m7 0h1m19 0h1m1 0h1m14 0h1m9 0h1m12 0h1m7 0h1M0 30.5h1m11 0h1m17 0h1m2 0h1m2 0h1m3 0h1m8 0h1m8 0h1m4 0h1m10 0h1m1 0h1m13 0h1m3 0h2M4 31.5h2m48 0h1m12 0h1m24 0h1m1 0h1M6 32.5h1m38 0h1M16 33.5h1m10 0h1m7 0h1m7 0h1m1 0h1m2 0h2m1 0h1m13 0h1m29 0h1M6 34.5h1m3 0h1m20 0h1m23 0h2m32 0h1m8 0h1M1 35.5h1m5 0h1m16 0h1m6 0h1m4 0h2m30 0h1m21 0h1M11 36.5h1m16 0h1m23 0h2m38 0h1M3 37.5h1m45 0h1m2 0h1m16 0h2m5 0h1M12 38.5h1m4 0h1m10 0h1m11 0h1m1 0h1m10 0h1m11 0h1M8 39.5h1m28 0h1m29 0h1m12 0h1m10 0h1m1 0h1M25 40.5h1m15 0h1m12 0h1m31 0h1M1 41.5h1m3 0h1m15 0h1m11 0h1m34 0h1m13 0h1m9 0h1M1 42.5h1m11 0h1m4 0h1m7 0h1m12 0h1m19 0h1m4 0h1m6 0h1m11 0h1m5 0h1m6 0h1M19 43.5h1m35 0h1m8 0h1m6 0h1m6 0h1m10 0h1m6 0h2M13 44.5h1m37 0h1m3 0h1m2 0h1m4 0h1m2 0h1m13 0h1m11 0h1M0 45.5h1m4 0h1m6 0h1m3 0h1m26 0h1m7 0h1m33 0h1M15 46.5h1m5 0h1m3 0h1m38 0h1m7 0h1m2 0h1M4 47.5h1m17 0h1m11 0h1m7 0h1m18 0h1m22 0h1m14 0h1M7 48.5h1m50 0h2m27 0h1M16 49.5h1m2 0h1m4 0h1m6 0h1m13 0h1m29 0h1m2 0h1m20 0h1M0 50.5h1m2 0h1m23 0h1m5 0h1m27 0h1m1 0h1m10 0h1m6 0h1M1 51.5h1m3 0h1m6 0h1m6 0h1m15 0h1m16 0h1m13 0h1m12 0h1M6 52.5h1m7 0h1m13 0h1m14 0h1m20 0h1m14 0h1M4 53.5h1m9 0h1m5 0h1m16 0h1m13 0h1m1 0h1m23 0h1M27 54.5h1m9 0h1m6 0h1m30 0h1m8 0h1M8 55.5h1m4 0h1m5 0h1m3 0h1m13 0h1m14 0h1m2 0h1m9 0h1m1 0h1M13 56.5h1m26 0h1m2 0h1m4 0h1m6 0h1m5 0h1m5 0h3m10 0h1m10 0h1M26 57.5h1m4 0h1m1 0h1m9 0h1m7 0h2m8 0h1m3 0h1m8 0h1M17 58.5h1m1 0h1m4 0h1m5 0h1m4 0h1m33 0h1M1 59.5h1m6 0h1m9 0h2m62 0h1m12 0h1m2 0h1M4 60.5h1m5 0h1m3 0h1m8 0h1m20 0h1m30 0h1M4 61.5h1m7 0h1m19 0h1m2 0h1m23 0h1m15 0h1m2 0h2m18 0h1M9 62.5h1m10 0h1m11 0h1m10 0h1m46 0h1m3 0h2M19 63.5h1m46 0h1m7 0h1m11 0h2m4 0h1m5 0h1M10 64.5h1m5 0h1m8 0h1m9 0h1m3 0h1m15 0h1m3 0h1m9 0h1m27 0h1M3 65.5h1m10 0h1m17 0h1m3 0h1m5 0h1m7 0h1m4 0h1m2 0h1m4 0h1m16 0h1m13 0h1M12 66.5h1m9 0h1m8 0h1m23 0h1m2 0h1m30 0h1M6 67.5h1m7 0h1m2 0h1m3 0h1m15 0h1m38 0h1M6 68.5h1m24 0h1m20 0h1m6 0h1m3 0h1m21 0h1m11 0h1M0 69.5h1m15 0h1m10 0h1m27 0h1m4 0h1m6 0h2m9 0h1m3 0h1m3 0h1M2 70.5h1m3 0h1m1 0h2m15 0h1m22 0h1m6 0h1m1 0h1m7 0h1m29 0h1m2 0h1M16 71.5h1m5 0h1m13 0h1m23 0h1m22 0h1M5 72.5h1m3 0h1m12 0h1m11 0h1m20 0h1m6 0h1m7 0h1m18 0h1M3 73.5h1m3 0h1m22 0h2m41 0h1m13 0h1M11 74.5h1m2 0h2m12 0h2m16 0h1m6 0h1m9 0h2m6 0h1m9 0h1m3 0h1m12 0h1M2 75.5h1m12 0h1m1 0h1m53 0h1m13 0h1m5 0h1m4 0h1M8 76.5h1m5 0h1m20 0h1m4 0h1m43 0h1M14 77.5h2m35 0h1m3 0h1m28 0h1m2 0h1M10 78.5h1m2 0h1m6 0h1m6 0h1m27 0h1m29 0h1m13 0h1M15 79.5h1m34 0h1m15 0h1m8 0h1m15 0h1M16 80.5h2m16 0h1m2 0h1m4 0h1m11 0h1m7 0h1m2 0h1m8 0h1M20 81.5h1m22 0h2m5 0h1m1 0h2m8 0h1m4 0h1m3 0h1m8 0h3M11 82.5h1m15 0h1m11 0h1m9 0h1m24 0h1m9 0h1m10 0h1M21 83.5h1m29 0h1m19 0h1m14 0h1m5 0h1M4 84.5h1m18 0h1m2 0h1m36 0h1m19 0h1m7 0h1M3 85.5h1m30 0h1m16 0h1m6 0h1m4 0h1m3 0h1m14 0h1m4 0h1m8 0h1M4 86.5h1m7 0h1m17 0h1m23 0h1m27 0h1M15 87.5h1m1 0h1m3 0h1m2 0h1m25 0h1m15 0h1m12 0h2M10 88.5h2m4 0h1m13 0h1m11 0h1m13 0h1m21 0h1M31 89.5h1m1 0h1m5 0h1m39 0h1m11 0h1m1 0h1m3 0h1M19 90.5h1m6 0h1m2 0h1m16 0h1m2 0h1m12 0h1m2 0h1m2 0h1m3 0h1m3 0h1m7 0h1m10 0h1m1 0h1M11 91.5h1m14 0h1m7 0h1m5 0h1m8 0h1M34 92.5h1m30 0h1m6 0h1m1 0h1m1 0h1m16 0h1M9 93.5h1m1 0h1m17 0h1m3 0h1m34 0h2m3 0h1m15 0h1M4 94.5h1m8 0h1m51 0h1m6 0h1m11 0h1m2 0h1m6 0h1M6 95.5h1m19 0h2m1 0h1m16 0h1m2 0h1m11 0h1m1 0h1m20 0h1M7 96.5h1m1 0h1m17 0h1m12 0h1m3 0h1m5 0h1m6 0h1m15 0h1M7 97.5h1m8 0h1m3 0h1m21 0h1m11 0h1m2 0h1m13 0h1m2 0h1m2 0h1m3 0h1m15 0h1M3 98.5h1m4 0h1m2 0h1m11 0h1m44 0h1m16 0h1M6 99.5h1m17 0h1m13 0h1m10 0h2m5 0h1m9 0h1m10 0h1m4 0h1"/>
<path stroke="#ffea00" d="M1 0.5h1m33 0h1m16 0h1m14 0h1m5 0h1m6 0h1m4 0h1M1 1.5h1m1 0h1m9 0h1m5 0h1m30 0h1m13 0h2m9 0h1M21 2.5h1m15 0h1m16 0h1m21 0h1m3 0h1m12 0h1m3 0h1M52 3.5h1m1 0h1m1 0h1m3 0h1m5 0h1m2 0h1m20 0h2m7 0h1M11 4.5h1m4 0h1m27 0h1m18 0h1M7 5.5h1m8 0h1m1 0h1m24 0h1m12 0h1m15 0h1m7 0h1m4 0h1M1 6.5h1m15 0h2m2 0h1m16 0h1m35 0h1m2 0h1m10 0h1M65 7.5h1m17 0h1M27 8.5h1m15 0h1m7 0h1m12 0h1m22 0h1m10 0h1M3 9.5h1m11 0h1m22 0h1m1 0h1m3 0h1m1 0h1m1 0h1m5 0h2m8 0h1m9 0h1M1 10.5h1m1 0h1m5 0h1m1 0h1m23 0h1m18 0h1m34 0h1m8 0h1M2 11.5h1m29 0h1m1 0h1m26 0h1m33 0h1M21 12.5h1m13 0h1m21 0h1m2 0h1m6 0h1m10 0h1m8 0h2m4 0h2m1 0h1m2 0h1M13 13.5h1m31 0h1m3 0h1m12 0h1m6 0h1m2 0h1m1 0h2M19 14.5h1m9 0h1m4 0h1m18 0h1m3 0h1m9 0h2m17 0h1M9 15.5h1m3 0h1m1 0h1m35 0h2m31 0h1m14 0h1M22 16.5h1m3 0h1m2 0h1m29 0h1m13 0h1m8 0h2m3 0h1m5 0h1M15 17.5h1m5 0h1m19 0h1m12 0h1m6 0h1m7 0h1M15 18.5h1m3 0h1m10 0h1m31 0h1m1 0h1m16 0h1m6 0h1m9 0h2M23 19.5h1m25 0h1m5 0h1m2 0h1m32 0h1M4 20.5h1m11 0h1m12 0h1m5 0h1m23 0h1m5 0h1m11 0h1m21 0h1M1 21.5h1m26 0h1m18 0h1m11 0h1M1 22.5h1m3 0h1m18 0h1m14 0h1m8 0h1m17 0h1m27 0h1m3 0h1M0 23.5h1m32 0h1m33 0h1m1 0h1m2 0h1M31 24.5h1m17 0h1m4 0h1m10 0h1m14 0h1m11 0h1m4 0h1m1 0h1M21 25.5h1m8 0h1m17 0h1m3 0h1m14 0h1m14 0h1M10 26.5h1m2 0h1m3 0h1m6 0h1m34 0h1M23 27.5h1M4 28.5h1m17 0h1m1 0h1m3 0h1m20 0h2m1 0h1m13 0h1m12 0h1m3 0h1m2 0h1m2 0h1m6 0h1M5 29.5h1m16 0h2m27 0h1m2 0h1m29 0h1m9 0h1M6 30.5h1m25 0h1m9 0h1m21 0h1m10 0h1m4 0h1M0 31.5h1m25 0h1m23 0h1m2 0h1m2 0h1M8 32.5h1m2 0h1m1 0h1m6 0h1m22 0h1m12 0h1m11 0h1m11 0h1m1 0h1m2 0h1m3 0h1M24 33.5h1m8 0h1m3 0h1m32 0h1m16 0h1M5 34.5h1m13 0h1m47 0h1m10 0h1M27 35.5h2m9 0h1m21 0h1m27 0h1m6 0h1M9 36.5h1m31 0h1m14 0h1m30 0h1M36 37.5h1m48 0h1M18 38.5h1m24 0h1m15 0h1m28 0h1M12 39.5h1m17 0h1m8 0h1m42 0h1M10 40.5h1m5 0h1m4 0h1m40 0h1m8 0h1m11 0h1M41 41.5h1m2 0h1m1 0h1m10 0h1m3 0h2m11 0h1m10 0h1m4 0h1M11 42.5h1m3 0h1m26 0h1m8 0h1m25 0h1m7 0h1M9 43.5h1m4 0h1m15 0h1m1 0h1m13 0h1m33 0h1m1 0h1m1 0h1m6 0h1M4 44.5h1m44 0h1m35 0h1m13 0h1M13 45.5h1m19 0h1m20 0h1m1 0h1m15 0h1m8 0h1m4 0h1m10 0h1M27 46.5h1m17 0h1m51 0h1M35 47.5h2M10 48.5h1m10 0h1m8 0h1m7 0h1m6 0h1m4 0h1m19 0h1m20 0h1M39 49.5h1m4 0h1m26 0h1M1 50.5h1m83 0h1m11 0h2M9 51.5h2m21 0h1m8 0h1m32 0h1m22 0h1M16 52.5h1m45 0h1m3 0h1m13 0h1m5 0h2M0 53.5h1m8 0h1m2 0h1m8 0h1m18 0h1m8 0h1m2 0h1m10 0h1m5 0h1m10 0h1M9 54.5h1m31 0h1m15 0h1m5 0h1m2 0h1m4 0h1m2 0h1m4 0h1m16 0h1M6 55.5h1m25 0h1m1 0h1m7 0h1m15 0h1M24 56.5h1m13 0h1m7 0h1m13 0h1m3 0h1m5 0h1m8 0h1m4 0h1m7 0h1m3 0h1m1 0h1M8 57.5h1m6 0h2m36 0h1m10 0h1m11 0h1m15 0h1m4 0h1M22 58.5h1m24 0h1m29 0h1M13 59.5h1m61 0h1m21 0h1m1 0h1M42 60.5h1m24 0h1M5 61.5h1m20 0h2m3 0h1m4 0h1m27 0h1m17 0h1M17 62.5h1m7 0h1m13 0h2m9 0h1m47 0h1M12 63.5h1m27 0h1m49 0h1m3 0h1M29 64.5h1m2 0h1m48 0h1m1 0h1M30 65.5h2m6 0h1m10 0h1m40 0h1M9 66.5h1m19 0h1m26 0h1m6 0h1m14 0h1m1 0h1M4 67.5h1m4 0h1m6 0h1m2 0h1m10 0h1m12 0h1m26 0h1m1 0h1m19 0h1M3 68.5h1m63 0h1m7 0h1m7 0h2M7 69.5h1m3 0h1m22 0h1m4 0h1m18 0h1m26 0h1M7 70.5h1m11 0h1m4 0h1m10 0h1m38 0h1M12 71.5h1m12 0h1m13 0h1m16 0h1m13 0h2m16 0h1m2 0h1M4 72.5h1m5 0h1m3 0h1m34 0h1m6 0h2m20 0h1m18 0h1M14 73.5h1m20 0h1m5 0h1m37 0h1m1 0h1m16 0h2M1 74.5h1m4 0h1m12 0h1m2 0h1m11 0h1m15 0h1m1 0h1m4 0h1m32 0h1M4 75.5h2m14 0h1m13 0h1m13 0h1m26 0h2m10 0h1M54 76.5h1m1 0h1m38 0h1m1 0h1M11 77.5h1m22 0h1m17 0h1m3 0h1m9 0h1m10 0h1M1 78.5h1m9 0h1m17 0h1m21 0h1m9 0h1M28 79.5h1m8 0h1m25 0h1m32 0h1m1 0h1M7 80.5h1m3 0h1m13 0h1m23 0h1m18 0h1m2 0h1m22 0h1M1 81.5h1m9 0h1m3 0h1m1 0h1m6 0h1m4 0h1M1 82.5h1m12 0h1m9 0h1m8 0h1m33 0h1m12 0h1m4 0h1m2 0h1M11 83.5h1m3 0h1m30 0h1m1 0h2m14 0h1m7 0h1M24 84.5h2m11 0h1m20 0h1m2 0h1M19 85.5h1m3 0h1m8 0h1m11 0h1m17 0h1m7 0h1m6 0h1M0 86.5h1m4 0h1m12 0h1m1 0h1m18 0h1m8 0h1m2 0h1m9 0h1m9 0h1m9 0h1M6 87.5h1m13 0h1m10 0h1m28 0h1m24 0h1m10 0h1M47 88.5h1m1 0h1m18 0h1M7 89.5h1m16 0h1m1 0h2m4 0h1m10 0h1m11 0h1m2 0h1m5 0h1M17 90.5h1m39 0h1M1 91.5h1m19 0h1m64 0h1m3 0h1m6 0h2M43 92.5h1m46 0h2m7 0h1M3 93.5h1m11 0h1m11 0h2m5 0h1m7 0h1m56 0h1M5 94.5h1m32 0h2m6 0h1m1 0h1m24 0h1m19 0h1M17 95.5h1m27 0h1m22 0h2M2 96.5h1m14 0h1m19 0h1m17 0h1m22 0h1m18 0h1M6 97.5h1m16 0h1m36 0h1m5 0h1m19 0h1m4 0h1M22 98.5h1m19 0h2m27 0h1m15 0h1M59 99.5h1m3 0h1"/>
<path stroke="#ffca00" d="M4 0.5h1m18 0h1m25 0h1m4 0h1m1 0h1m18 0h1m8 0h1m5 0h1m3 0h1M60 1.5h1m23 0h1m7 0h1M68 2.5h1m22 0h1M9 3.5h1m19 0h1m19 0h1m11 0h1m15 0h1m5 0h1M6 4.5h1m8 0h1m2 0h1m7 0h1m15 0h1m5 0h1m1 0h1m31 0h1m3 0h1M20 5.5h1m18 0h1m1 0h1m12 0h1m6 0h3m9 0h1m8 0h1M15 6.5h1m18 0h1m14 0h1m8 0h1m32 0h1m1 0h1M20 7.5h1m2 0h1m4 0h2m14 0h1m25 0h2m15 0h1M4 8.5h1m19 0h1m27 0h1M9 9.5h1m12 0h1m24 0h1m11 0h1m15 0h1m6 0h1m2 0h1m4 0h1M27 10.5h1m1 0h1m18 0h1m8 0h1m3 0h1m5 0h1M11 11.5h1m6 0h1m6 0h1m42 0h1m5 0h1m7 0h1m16 0h1M86 12.5h1M10 13.5h1m18 0h1m17 0h1m5 0h1M43 14.5h1m16 0h1M16 15.5h1m1 0h1m40 0h1m36 0h1M17 16.5h1m7 0h1m2 0h1M7 17.5h1M9 18.5h1m1 0h1m15 0h1m20 0h1m30 0h1M3 19.5h1m33 0h1m46 0h1M60 20.5h1m17 0h1m2 0h1M20 21.5h1m25 0h1m4 0h1m1 0h1m24 0h1m3 0h1m3 0h1M12 22.5h1m6 0h1m5 0h1m1 0h1m9 0h1m9 0h1m1 0h1m47 0h1M27 23.5h1m36 0h1m1 0h1m21 0h2M9 24.5h1m22 0h1m18 0h1m6 0h1m14 0h1m16 0h1M2 25.5h1m10 0h1m1 0h1m15 0h1m28 0h2m1 0h1m7 0h1M3 26.5h1m7 0h1m46 0h1m4 0h1m34 0h1M14 27.5h1m34 0h1m3 0h1m3 0h1m20 0h1m9 0h2M2 28.5h1m15 0h1m12 0h1m62 0h1M60 29.5h1m10 0h1M38 30.5h1m40 0h1m16 0h1M12 31.5h1m3 0h2m10 0h1m20 0h1m16 0h1m2 0h1m19 0h1m1 0h1M10 32.5h1m28 0h2m12 0h2m35 0h1M14 33.5h1m35 0h1m11 0h1M15 34.5h1m4 0h1m4 0h1m28 0h1m17 0h1m6 0h1m6 0h1m6 0h1M32 35.5h1m1 0h1m9 0h1m11 0h1M2 36.5h1m54 0h1m2 0h1m30 0h1M26 37.5h1m10 0h1m1 0h1m4 0h1m13 0h1m15 0h1m16 0h2M6 38.5h1m30 0h1m10 0h1m33 0h1m1 0h1m4 0h1M1 39.5h1m13 0h1m38 0h2m1 0h1m15 0h1m5 0h1M4 40.5h1m18 0h1m7 0h1m46 0h1m1 0h1m1 0h1m10 0h1m3 0h1M0 41.5h1m1 0h1m32 0h1m61 0h1M22 42.5h2m9 0h1m15 0h1m3 0h1m11 0h1M8 43.5h1m20 0h1m8 0h1m1 0h1m11 0h1M20 44.5h1m27 0h1m21 0h1m25 0h1M23 45.5h1m13 0h1m2 0h1m7 0h2m33 0h1M1 46.5h2m29 0h1m19 0h1m8 0h1m3 0h1m28 0h1M11 47.5h1m39 0h1m2 0h1m26 0h1m13 0h1M6 48.5h1m1 0h2m34 0h1m27 0h1M7 49.5h1m50 0h1m7 0h1m5 0h1m6 0h1m2 0h1m3 0h1M26 50.5h1m16 0h1m3 0h1m8 0h1m11 0h1m8 0h1m12 0h1M22 51.5h1m8 0h1m45 0h1m15 0h1M9 52.5h1m1 0h1m7 0h1m5 0h1m11 0h1m30 0h1m3 0h1m23 0h1m1 0h1M7 53.5h1m23 0h1m2 0h1m15 0h1m19 0h2m2 0h1m15 0h1m3 0h1M93 54.5h1M45 55.5h1m20 0h1m4 0h1m4 0h1m1 0h1m7 0h1m5 0h1m2 0h1M29 56.5h1m1 0h1m2 0h1m28 0h1m12 0h1m8 0h1M5 57.5h1m12 0h1m4 0h1m8 0h1m4 0h1m12 0h1m17 0h1m3 0h1m6 0h1m16 0h1M7 58.5h2m3 0h1m7 0h1m2 0h1m8 0h1m53 0h1M9 59.5h1m4 0h1m1 0h1m29 0h1m1 0h1m3 0h1m8 0h1m17 0h1m5 0h1m8 0h1M46 60.5h1m2 0h1m4 0h1m2 0h1m27 0h1m11 0h2M10 61.5h1m22 0h1m4 0h1m1 0h1m25 0h1m13 0h2m13 0h1M1 62.5h1m8 0h1m1 0h1m3 0h1m2 0h1m4 0h1m13 0h1m30 0h1m13 0h1m4 0h1M27 63.5h1m22 0h1m25 0h1M54 64.5h1m12 0h1m16 0h1m4 0h1M27 65.5h1m33 0h1m16 0h1m2 0h1m6 0h1m2 0h1m6 0h1M6 66.5h1m7 0h1m6 0h1m28 0h2m22 0h1m9 0h1m1 0h1m1 0h1m6 0h1M38 67.5h1m13 0h1m3 0h1m10 0h1m11 0h1m16 0h1M33 68.5h2m4 0h2m16 0h1m4 0h1m23 0h1m2 0h1M89 69.5h1M31 70.5h1m30 0h1m31 0h1M21 71.5h1m9 0h1m21 0h3m12 0h1m9 0h1M11 72.5h1m38 0h1m18 0h1M22 73.5h1m25 0h1m14 0h1m1 0h1M20 74.5h1m48 0h1m3 0h2M0 75.5h1m36 0h1m5 0h1m2 0h1m22 0h1m2 0h1m11 0h1m4 0h1M44 76.5h1m1 0h1m8 0h1m6 0h1m9 0h1m5 0h2m13 0h1M0 77.5h1m7 0h1m14 0h1m19 0h1m5 0h1m3 0h1m3 0h1m7 0h1m17 0h1m6 0h1M4 78.5h1m28 0h1m10 0h1m12 0h1m16 0h1M1 79.5h1m8 0h1m1 0h1m3 0h1m34 0h1m5 0h1m2 0h1m17 0h1M2 80.5h1m10 0h1m24 0h1m22 0h1m10 0h1m7 0h1m9 0h1M22 81.5h1m23 0h1m36 0h2M10 82.5h1m6 0h1m1 0h1m22 0h1M4 83.5h1m27 0h1m2 0h1m9 0h1m39 0h1M3 84.5h1m23 0h1m2 0h1m48 0h1M9 85.5h1m8 0h1m20 0h1m3 0h1m8 0h1m7 0h1m7 0h1m9 0h1m4 0h1m7 0h1M19 86.5h1m71 0h1M14 87.5h1m18 0h1m8 0h1m11 0h1m8 0h1m24 0h1M17 88.5h1m3 0h1m6 0h1m6 0h1m24 0h1m16 0h1m1 0h1m1 0h1m10 0h2m1 0h1M5 89.5h1m31 0h1m27 0h1m12 0h1m4 0h1m8 0h1M4 90.5h1m1 0h1m2 0h1m8 0h1m34 0h1m24 0h2m9 0h1M14 91.5h1m12 0h1m3 0h1m7 0h1m19 0h1m15 0h1m4 0h1M28 92.5h1m24 0h1m3 0h1m6 0h1m3 0h1M30 93.5h1m12 0h1m14 0h1m17 0h1m8 0h1M14 94.5h1m1 0h1m3 0h1m2 0h1m7 0h1m35 0h1m13 0h1M5 95.5h1m5 0h1m22 0h1m9 0h1m31 0h1m11 0h2M8 96.5h1m9 0h1M4 97.5h1m8 0h1m10 0h1m15 0h1m7 0h1m21 0h1m5 0h1m1 0h1m8 0h1M38 98.5h1m44 0h1M1 99.5h1m25 0h2m14 0h1m3 0h1m36 0h1"/>
<path stroke="#ffa900" d="M22 0.5h1m47 0h1M4 1.5h1m86 0h1m4 0h1M30 3.5h1m34 0h1m21 0h1M8 4.5h1m78 0h1m4 0h1M5 5.5h1m32 0h1m6 0h1m3 0h1m47 0h1M43 6.5h1m24 0h1M30 7.5h1m15 0h1m5 0h1m45 0h1M33 8.5h1m7 0h1m3 0h2m6 0h1m3 0h1m28 0h1M4 9.5h1m14 0h1m64 0h1M70 10.5h1M6 11.5h1m6 0h1m53 0h1m7 0h1m3 0h1M53 12.5h1m15 0h1m7 0h1m20 0h1M12 13.5h1m24 0h2m19 0h1m1 0h1m19 0h1m6 0h1M4 14.5h1m6 0h1m69 0h1M1 15.5h1m8 0h1m23 0h1m8 0h1m9 0h1m2 0h2m18 0h1m11 0h1M24 16.5h1m11 0h1m7 0h1m13 0h1m21 0h1m7 0h1M9 17.5h1m9 0h1m4 0h1m8 0h2m32 0h1m12 0h1M22 18.5h1m3 0h1m31 0h1m36 0h1M32 19.5h1m3 0h1m35 0h1m5 0h1M13 20.5h1m18 0h1m15 0h2m48 0h1M0 21.5h1m9 0h1m10 0h1m32 0h1m18 0h1M2 22.5h1m70 0h1m7 0h1m2 0h1m1 0h1m3 0h2m4 0h1M26 23.5h1m9 0h1m45 0h1M1 24.5h1m15 0h1m3 0h1m7 0h1m9 0h1m23 0h2m3 0h1m5 0h1M0 25.5h1m2 0h1m15 0h1m2 0h1m36 0h1m13 0h1M7 26.5h1m22 0h1m51 0h1M24 27.5h1m14 0h1m14 0h1m18 0h1m5 0h1M46 28.5h1m27 0h1M21 29.5h1m3 0h1m53 0h1m5 0h1m4 0h1m5 0h1M2 30.5h1m31 0h1m33 0h1m2 0h1M24 31.5h1m9 0h1m28 0h1m23 0h1M64 32.5h1m11 0h1m18 0h1M6 33.5h1m12 0h1m3 0h1m8 0h1m9 0h1m18 0h1m12 0h1m24 0h1M99 34.5h1M19 35.5h1M20 36.5h1m9 0h1m17 0h1m27 0h1m6 0h1M18 37.5h1m45 0h1M27 38.5h1m58 0h1m10 0h1M6 39.5h1m13 0h1m8 0h1m46 0h1M3 40.5h1m7 0h1m17 0h1m6 0h1m21 0h1m14 0h1m17 0h1M8 42.5h1m1 0h1m18 0h1m69 0h1M22 43.5h1m22 0h1m26 0h1m4 0h1m1 0h1m3 0h1m10 0h1M7 44.5h1m67 0h2M25 45.5h1m18 0h1m34 0h1m7 0h1M0 46.5h1m36 0h3m53 0h1m2 0h1M59 47.5h2m2 0h1m10 0h1M3 48.5h1m53 0h1m9 0h1m13 0h1M17 49.5h1m70 0h1M11 50.5h1m7 0h1m11 0h1m30 0h1M4 51.5h1m1 0h1m85 0h1M2 52.5h1m12 0h1m17 0h1m1 0h1m29 0h1m22 0h1m2 0h1M67 53.5h1m10 0h1M6 54.5h1m7 0h1m80 0h1M3 55.5h1m7 0h1m18 0h1m4 0h1m8 0h1M12 56.5h1m36 0h2m7 0h1m30 0h1M7 57.5h1m9 0h1m3 0h1m27 0h1m9 0h1m3 0h1m14 0h1m12 0h1M44 58.5h1m4 0h1m48 0h1M15 59.5h1m24 0h1m3 0h1m22 0h1m15 0h1m8 0h1m3 0h1M8 60.5h1m74 0h1M8 61.5h1m7 0h1m45 0h2m30 0h1M3 62.5h1m26 0h1m50 0h1m3 0h1M0 63.5h1m12 0h1m48 0h1m6 0h1m5 0h1M0 64.5h1m32 0h1m6 0h1m10 0h1m4 0h1M33 65.5h2m13 0h1m5 0h1m12 0h1m24 0h1M3 66.5h1m39 0h1m13 0h1m9 0h1m28 0h1M71 67.5h1M15 68.5h1m35 0h1m30 0h1m16 0h1M18 69.5h1m6 0h1m39 0h1m21 0h1M47 70.5h1m20 0h1m28 0h1M7 71.5h1m54 0h1m11 0h1m7 0h1m13 0h1M33 72.5h1m20 0h1m29 0h1m6 0h1M5 73.5h1m6 0h1m46 0h1m11 0h1m2 0h1m14 0h1M13 74.5h1m40 0h1m5 0h1m22 0h1M7 75.5h1M0 76.5h1m9 0h2m5 0h1m32 0h1m15 0h1M22 77.5h1m5 0h1m13 0h1M31 78.5h1m11 0h1m6 0h1m11 0h1m2 0h2m23 0h1m4 0h2M2 79.5h1m17 0h1m12 0h1m31 0h1m21 0h1M32 80.5h2m18 0h1m10 0h1M4 81.5h1m4 0h2m3 0h1m23 0h1m18 0h1m12 0h1M60 82.5h1m3 0h1m27 0h1m5 0h1M6 83.5h1m12 0h1m9 0h1m37 0h1m26 0h1M49 84.5h1m26 0h1m7 0h1M30 85.5h1m7 0h1m27 0h1M42 86.5h1m6 0h1m27 0h1m2 0h1M4 87.5h1m42 0h1m42 0h1m7 0h1M9 89.5h1m26 0h1m10 0h1m9 0h1m3 0h1m8 0h1m16 0h1M2 90.5h1m21 0h1m71 0h1M3 91.5h1m21 0h1m35 0h1m9 0h1M22 92.5h1m23 0h1m1 0h1m43 0h1M12 93.5h1m1 0h1m9 0h1m32 0h1m12 0h1m24 0h1M9 94.5h1m66 0h1M1 95.5h1m7 0h1m6 0h1m3 0h1m3 0h1m22 0h1M23 96.5h1m21 0h1m16 0h1m28 0h1m2 0h1M21 97.5h1m24 0h2m20 0h1M6 98.5h1m19 0h1m14 0h1m39 0h1M30 99.5h1"/>
<path stroke="#ff8800" d="M41 1.5h1m37 0h1M6 3.5h1m4 0h1m7 0h1m53 0h1m7 0h1M30 4.5h1m12 0h1m15 0h1M27 5.5h1m27 0h1M83 6.5h1m1 0h1M81 7.5h1m11 0h1M67 8.5h1m1 0h2m8 0h1M27 9.5h1M36 10.5h1m27 0h1m19 0h1M4 11.5h1m31 0h1m34 0h1M23 12.5h1m73 0h1M11 13.5h1m19 0h1m54 0h1m2 0h1M49 14.5h1m42 0h1M4 15.5h1m36 0h1m12 0h1m5 0h1m12 0h1M48 16.5h1m25 0h1M8 17.5h1m11 0h1m52 0h2m2 0h1m5 0h1m1 0h1m1 0h1M2 18.5h1m10 0h1m7 0h1m7 0h1M2 19.5h1m21 0h1m8 0h1m40 0h1M14 20.5h1m8 0h1m4 0h1m9 0h1m11 0h1M38 22.5h1m39 0h1m3 0h1m10 0h1M78 24.5h1M9 25.5h1m24 0h1m1 0h1m8 0h1m4 0h1M1 26.5h1m20 0h1m6 0h1m14 0h1M51 27.5h1m11 0h1m7 0h1M8 28.5h1m62 0h1M4 29.5h1m3 0h1m4 0h1m3 0h1m34 0h1M28 30.5h1m17 0h1m46 0h1M32 31.5h1m12 0h1m22 0h1m29 0h1M23 32.5h1M10 33.5h1m43 0h1M12 34.5h1m14 0h1m11 0h1M29 35.5h1m5 0h1m14 0h1m7 0h1m32 0h1M24 36.5h1m12 0h1m31 0h1M29 37.5h1m1 0h1m49 0h1M7 38.5h1m28 0h1m4 0h1m3 0h1m30 0h1M36 39.5h1m9 0h1m11 0h1m25 0h2m11 0h1M1 40.5h1m16 0h1m9 0h1m47 0h1M7 41.5h1M31 42.5h1M0 44.5h1m8 0h1m58 0h1m9 0h1m11 0h1M66 45.5h2m6 0h1m13 0h1m3 0h1M99 46.5h1M3 47.5h1m78 0h1m9 0h1M86 48.5h1M35 49.5h1M9 50.5h1m14 0h1m3 0h1m62 0h1M20 51.5h1m64 0h1M13 52.5h1m42 0h1m4 0h1m11 0h1M65 53.5h1M26 54.5h1m19 0h1m13 0h1m12 0h1m25 0h1M0 55.5h1m23 0h1m8 0h1m46 0h2m9 0h1M30 56.5h1m5 0h1m38 0h1M46 57.5h1m23 0h1m13 0h1M15 58.5h1m2 0h1m21 0h1m56 0h1M42 59.5h1m41 0h1M18 61.5h1m1 0h1m29 0h1m16 0h1M15 62.5h1m43 0h1m7 0h1m14 0h1M24 63.5h1m45 0h1m14 0h1M18 64.5h1m51 0h1M45 65.5h1m29 0h1M4 66.5h1m5 0h1m28 0h1m14 0h1m43 0h1M10 67.5h1M26 68.5h1m9 0h1M21 69.5h1m19 0h1m8 0h1m28 0h1M4 71.5h1m23 0h1m5 0h1m40 0h1m23 0h1M28 72.5h1M27 73.5h1m39 0h1M23 74.5h1m37 0h1M1 75.5h1m79 0h1M75 76.5h1m15 0h1M3 77.5h1M6 78.5h1m8 0h1m12 0h1m13 0h1m11 0h1m17 0h1m2 0h1M44 80.5h1m12 0h1m17 0h1M26 81.5h1m46 0h1m5 0h1M23 82.5h1m19 0h1m4 0h1m10 0h1M52 83.5h1m24 0h1m21 0h1M39 84.5h1m14 0h1m43 0h1M21 85.5h2m56 0h1M33 86.5h1m11 0h1m37 0h1m15 0h1M28 87.5h1m14 0h1m32 0h1M57 88.5h1m1 0h1m27 0h1M19 89.5h1m5 0h1m25 0h1m22 0h1M34 90.5h1m13 0h1m10 0h1m6 0h1m10 0h1M62 91.5h1m1 0h1m1 0h1M21 92.5h1m5 0h1m8 0h1m57 0h1M51 93.5h1M54 95.5h1m2 0h1m17 0h1M4 96.5h1m79 0h1M30 97.5h1m30 0h1m18 0h1M33 98.5h1m20 0h1m2 0h1M2 99.5h1m10 0h1m40 0h1m3 0h1m2 0h1m17 0h1m15 0h1"/>
<path stroke="#ff6700" d="M20 1.5h1m34 0h1M37 3.5h1M62 4.5h1M12 5.5h1m10 0h1M20 6.5h1m10 0h1M11 7.5h2m8 0h1m45 0h1m21 0h1M9 8.5h1m48 0h1M6 10.5h1m71 0h1M94 11.5h1M30 12.5h1m7 0h1m20 0h1m32 0h1M6 13.5h1m33 0h1m14 0h1M27 14.5h1m43 0h1M19 15.5h1m13 0h1m4 0h1M51 16.5h1m19 0h1M4 17.5h1m22 0h1m35 0h1M4 19.5h1m10 0h1m45 0h1m28 0h1M94 20.5h1M9 21.5h1m86 0h1M16 22.5h2m50 0h1m18 0h1M23 23.5h1m27 0h1m5 0h1m16 0h1M33 24.5h1m41 0h1m11 0h1M12 25.5h1m51 0h1M56 26.5h1m9 0h1M33 27.5h1M32 28.5h1m57 0h1M7 29.5h1m61 0h1m6 0h1M15 30.5h1M61 31.5h1M1 32.5h1m92 0h1M0 33.5h1m38 0h1m35 0h1m6 0h1M80 34.5h1M10 35.5h1m44 0h1M65 36.5h1M13 37.5h1m45 0h1m15 0h1M25 38.5h1m3 0h1m33 0h1m11 0h1m3 0h1m10 0h1M4 39.5h1m33 0h1m51 0h1M8 41.5h1m58 0h1m8 0h1m7 0h1M28 42.5h1M35 43.5h1M12 44.5h1m15 0h1m7 0h1m6 0h1m27 0h1M39 45.5h1M10 46.5h1m11 0h1m7 0h1m27 0h1M25 47.5h1m1 0h1m3 0h1M27 48.5h1m66 0h1M15 49.5h1M48 50.5h1M11 51.5h1m17 0h1m31 0h1m10 0h1m15 0h1M44 52.5h1m14 0h1m25 0h1m6 0h1M2 53.5h1m20 0h1m58 0h1m3 0h1M33 54.5h1M20 55.5h1m5 0h1m47 0h1m23 0h1M32 56.5h1m14 0h1m24 0h1M48 57.5h1m5 0h1m26 0h2m3 0h1M3 58.5h1m42 0h1m16 0h1M26 59.5h1m23 0h1M1 60.5h1m19 0h1m47 0h1m11 0h1m17 0h1M57 61.5h1m25 0h1M29 62.5h1m3 0h1M3 63.5h1m50 0h1m9 0h1M27 64.5h1m32 0h1M13 65.5h1m32 0h1m50 0h1M1 66.5h1m31 0h1M11 67.5h1M61 68.5h1m4 0h1M6 69.5h1m31 0h1m6 0h1m31 0h1M58 70.5h1M2 71.5h1m12 0h1M25 72.5h1m11 0h1m26 0h1m7 0h1M16 73.5h1m39 0h1M7 74.5h1M31 75.5h1m38 0h1M2 76.5h1m36 0h1m29 0h1M32 77.5h1M5 78.5h1m73 0h1M24 79.5h1m13 0h1M0 80.5h1m45 0h1m12 0h1M35 81.5h1m23 0h1m36 0h1M7 82.5h1m45 0h1M1 83.5h1m87 0h1M88 84.5h1M35 85.5h1m35 0h1m18 0h1M34 86.5h1m3 0h1m2 0h1m26 0h1m3 0h1m2 0h1M27 88.5h1m16 0h1M49 89.5h1m16 0h1M61 90.5h1M4 91.5h1m10 0h1m3 0h1m62 0h1M19 92.5h2m57 0h1M18 93.5h1m62 0h1M25 94.5h1m2 0h1m70 0h1M28 95.5h1m9 0h1m34 0h1M49 96.5h1m8 0h1m10 0h1M38 97.5h1m4 0h1M7 98.5h1m56 0h1m10 0h1M48 99.5h1m47 0h1"/>
<path stroke="#ff4600" d="M8 1.5h1M0 2.5h1m6 0h1m36 0h1m53 0h1M32 4.5h1m24 0h1m2 0h1M37 5.5h1m29 0h1m3 0h1M2 6.5h1m2 0h1m22 0h1m37 0h1M94 7.5h1M85 8.5h1M11 9.5h1m13 0h1m31 0h1M65 10.5h1m20 0h1M48 11.5h1M17 12.5h1m40 0h1m21 0h1M98 13.5h1M44 17.5h1M53 18.5h1m23 0h1M9 20.5h1m2 0h1m38 0h1M19 21.5h1m78 0h1M67 22.5h1M18 25.5h1m6 0h1m13 0h1m36 0h1M85 26.5h1M7 27.5h1M38 28.5h1m45 0h1M61 30.5h1M44 31.5h1M14 32.5h1m52 0h1M56 33.5h1M5 35.5h1M55 36.5h1M39 38.5h1m59 0h1M86 39.5h1m5 0h1M48 40.5h1M28 41.5h1m36 0h1m29 0h1M46 42.5h1M21 43.5h1m54 0h1M50 45.5h1m17 0h1M6 46.5h1M52 47.5h1m11 0h1M74 48.5h1M29 49.5h1M59 51.5h1M51 52.5h1M4 54.5h1M15 56.5h1m23 0h1M83 57.5h1M47 59.5h1m38 0h1M13 61.5h1M54 62.5h1M50 64.5h1M92 66.5h1M18 67.5h1m14 0h1m1 0h1m28 0h1m4 0h1m17 0h1M54 68.5h1M32 70.5h1m58 0h1M19 71.5h1m30 0h1m47 0h1M38 72.5h1m43 0h1m13 0h1M69 73.5h1M38 75.5h1M1 76.5h1M73 77.5h1M48 78.5h1M70 79.5h1m14 0h1M31 81.5h1M1 84.5h1m14 0h1m11 0h2m44 0h1m7 0h1M25 85.5h1M63 86.5h1M22 87.5h1m39 0h1M0 88.5h1m14 0h1m42 0h1m21 0h1m15 0h1M4 89.5h1M98 90.5h1M38 91.5h1m24 0h1m6 0h1M16 92.5h1M2 93.5h1m16 0h1M21 94.5h1m35 0h1M40 98.5h1m8 0h1M71 99.5h1"/>
<path stroke="#ff2500" d="M30 0.5h1m2 0h1M66 1.5h1M1 2.5h1M70 3.5h1M3 4.5h1m45 0h1M9 7.5h1M94 8.5h1M32 10.5h1M10 11.5h1m54 0h1m20 0h1M56 12.5h1M15 13.5h1M56 14.5h1M8 15.5h1M18 16.5h1m12 0h1m52 0h1M71 17.5h1M12 18.5h1m50 0h1m14 0h1m1 0h1m15 0h1M56 19.5h1m11 0h1M87 20.5h1M12 21.5h1m45 0h1m13 0h1M19 23.5h1M0 26.5h1M11 27.5h1M30 29.5h1M23 30.5h1m53 0h1m5 0h1M38 31.5h1m40 0h1M60 33.5h1M13 36.5h1M5 37.5h1M56 38.5h1M65 39.5h1M24 40.5h1M22 41.5h1m27 0h1M20 42.5h1M98 44.5h1M16 46.5h1M45 47.5h1M90 48.5h1M18 50.5h1m48 0h1m19 0h1M94 51.5h2m2 0h1M53 52.5h1M68 53.5h1M50 55.5h1M8 56.5h1M6 60.5h1M91 61.5h2M15 63.5h1m66 0h1M62 64.5h1m10 0h1M15 65.5h1M77 66.5h1M2 67.5h1M78 68.5h1m19 0h1M75 70.5h1M48 72.5h1M43 73.5h1M16 74.5h1m13 0h1m45 0h1M68 76.5h1M18 77.5h1M52 79.5h1M75 81.5h1M22 82.5h1m12 0h1M75 83.5h1M9 84.5h1m10 0h1m36 0h1M69 85.5h1m16 0h1M8 88.5h1m57 0h1M14 89.5h1M61 92.5h1M96 93.5h1M10 96.5h1m88 0h1M11 97.5h1M72 98.5h1m1 0h1m22 0h1"/>
<path stroke="#ff0400" d="M1 5.5h1m22 0h1M10 6.5h1M89 8.5h1M78 9.5h1m10 0h1M54 11.5h1M61 13.5h1m8 0h1M2 15.5h1M29 25.5h1M47 26.5h1M16 29.5h1m21 0h1m7 0h1m39 0h1M53 30.5h1M57 33.5h2M6 36.5h1m68 0h1m4 0h1M47 40.5h1m22 0h1M33 43.5h1m53 0h1M91 44.5h1M33 49.5h1M14 50.5h1M27 51.5h1M13 53.5h1M58 54.5h1M7 60.5h1M97 62.5h1M23 63.5h1M93 64.5h1M47 65.5h1M59 69.5h1M53 70.5h1M42 72.5h1M29 75.5h1M36 76.5h1M40 77.5h1M49 79.5h1M27 81.5h1M8 82.5h1M37 86.5h1M67 87.5h1M22 90.5h1m64 0h1M84 91.5h1M8 92.5h1M92 98.5h1m3 0h1M69 99.5h1m21 0h1"/>
<path stroke="#e20000" d="M24 1.5h1M84 4.5h1M20 10.5h1M80 11.5h1M29 12.5h1m44 0h1M95 15.5h1M49 16.5h1M5 17.5h1m75 0h1M8 21.5h1M19 32.5h1M3 33.5h1M35 34.5h1m15 0h1M33 38.5h1M2 40.5h1m92 0h1M83 41.5h1M47 45.5h1M92 48.5h1M50 52.5h1M29 55.5h1M61 58.5h1m14 0h1M19 61.5h1M24 65.5h1M60 66.5h1M47 71.5h1M18 72.5h1M17 73.5h1M73 82.5h1M52 84.5h1M11 86.5h1M72 88.5h1m12 0h1M35 93.5h1M77 96.5h1"/>
<path stroke="#c10000" d="M27 6.5h1M2 14.5h1M64 15.5h1M23 18.5h1M26 22.5h1M98 29.5h1M18 31.5h1M28 34.5h1m17 0h1M54 42.5h1M39 44.5h1M0 47.5h1M21 62.5h1M91 63.5h1M43 72.5h1M39 88.5h1M18 99.5h1"/>
<path stroke="#a00000" d="M83 1.5h1M3 15.5h1M47 19.5h1M21 33.5h1M36 46.5h1M60 55.5h1M59 60.5h1M16 70.5h1"/>
<path stroke="#800000" d="M73 2.5h1M60 8.5h1M8 14.5h1M17 20.5h1M75 29.5h1M84 32.5h1M63 33.5h1M96 34.5h1M49 36.5h1M18 45.5h1M12 49.5h1M82 52.5h1M37 58.5h1M8 63.5h1M2 72.5h1M51 80.5h1M50 85.5h1M71 87.5h1M77 89.5h1"/>
</g>
</g></g>
<g clip-path="url(#hcC)"><g fill="none" stroke-width="1" filter="url(#hb)">
<g transform="translate(42.00 302.00) scale(2.4450 2.2600)">
<rect x="0" y="0" width="100" height="100" fill="#5cffa3"/>
<path stroke="#000080" d="M36 9.5h1M16 11.5h1M10 14.5h1M48 20.5h1M89 29.5h1M81 33.5h1M15 44.5h1M46 45.5h1M70 52.5h1M15 60.5h1M8 61.5h1M14 64.5h1M22 69.5h1M89 72.5h1M0 83.5h1M0 88.5h1M22 90.5h1m74 0h1M49 92.5h1M73 95.5h1M76 96.5h1"/>
<path stroke="#0000a0" d="M62 12.5h1M39 17.5h1M93 21.5h1M94 25.5h1M80 33.5h1M94 46.5h1M48 57.5h1m14 0h1M38 60.5h1M46 61.5h1M38 62.5h1M20 72.5h1M74 75.5h1M83 82.5h1M18 83.5h1M9 86.5h1M85 89.5h1M24 94.5h1m57 0h1M63 96.5h1M93 98.5h1"/>
<path stroke="#0000c1" d="M83 2.5h1M10 4.5h1M6 7.5h1M26 13.5h1M12 19.5h1m42 0h1M29 24.5h1M30 46.5h1M42 49.5h1M37 51.5h1M70 55.5h1M42 57.5h1M55 58.5h1M43 60.5h1M44 62.5h1M75 72.5h1M87 75.5h1m3 0h1M27 81.5h1M62 90.5h1M13 92.5h1M34 93.5h1M72 97.5h1"/>
<path stroke="#0000e2" d="M3 0.5h1m63 0h1M36 2.5h1M98 4.5h1M35 7.5h1m28 0h1M42 9.5h1M1 10.5h1M65 13.5h1M22 14.5h1m11 0h1m21 0h1M46 15.5h1M43 17.5h1M64 20.5h1M77 22.5h1M87 23.5h1M48 25.5h1M33 27.5h1m10 0h1M74 29.5h1M74 30.5h1M90 31.5h1M62 38.5h1m22 0h1M3 41.5h1M90 42.5h1M14 43.5h1M64 45.5h1M57 51.5h1M40 53.5h1M29 54.5h1m11 0h1M78 55.5h1M29 59.5h1M10 60.5h1m80 0h1M90 62.5h1M36 64.5h1M70 65.5h1M29 70.5h1M41 71.5h1M95 72.5h1M36 73.5h1M72 74.5h1M10 76.5h1m22 0h1M12 79.5h1m67 0h1M10 80.5h1M3 81.5h1m60 0h1M1 84.5h1M12 86.5h1M3 87.5h1M67 88.5h1M2 90.5h1M32 91.5h1M18 92.5h1M78 95.5h1m13 0h1M61 98.5h1"/>
<path stroke="#0004ff" d="M63 1.5h1M69 3.5h1M3 7.5h1m21 0h1m15 0h1m42 0h1m10 0h1M28 10.5h1M63 11.5h1m9 0h1m4 0h1m11 0h1M16 13.5h1M21 15.5h1M84 16.5h1M40 18.5h1M67 19.5h1m2 0h1M71 20.5h1M95 21.5h1M16 24.5h1m39 0h1M82 25.5h1m13 0h2M8 26.5h1m37 0h1m31 0h1M46 28.5h1M16 30.5h1M34 33.5h1M23 34.5h1M45 35.5h1M29 37.5h1m29 0h1M3 39.5h1M17 44.5h1m59 0h1M95 46.5h1M90 48.5h1M16 50.5h1m65 0h1M55 51.5h1M86 55.5h1M93 60.5h1M69 61.5h1m18 0h1M87 62.5h1M59 63.5h1m33 0h1M9 66.5h1m50 0h1M16 67.5h1m61 0h1M24 69.5h1m27 0h1M29 74.5h1m26 0h1M72 75.5h1M25 77.5h1M29 80.5h1m60 0h1M0 84.5h1M93 85.5h1M58 88.5h1M64 89.5h1M4 90.5h1M26 91.5h1m31 0h1M8 92.5h1m24 0h1M14 93.5h1m51 0h1M5 94.5h1m5 0h1M99 96.5h1M75 98.5h1M13 99.5h1m53 0h1m16 0h1"/>
<path stroke="#0025ff" d="M48 0.5h1M13 1.5h1m62 0h1m12 0h1m9 0h1M7 2.5h1m15 0h1m62 0h1m10 0h1M68 3.5h1M7 4.5h1m36 0h1M46 5.5h1m52 0h1M73 6.5h1M9 8.5h1m16 0h1M1 9.5h1M37 10.5h1m21 0h1M22 11.5h1m71 0h1M36 12.5h1m9 0h1M24 13.5h1M25 14.5h1M60 15.5h1m22 0h1m10 0h1M19 16.5h1m19 0h1m33 0h1m6 0h1M8 17.5h1m37 0h1M42 18.5h1M30 19.5h1M6 21.5h1m33 0h1M76 23.5h1M55 25.5h1M97 28.5h1M77 29.5h1m17 0h1M55 30.5h1M25 31.5h1m6 0h1m7 0h1M27 32.5h1M0 33.5h1m19 0h1M43 34.5h1M28 35.5h1m18 0h1M85 39.5h1m3 0h1M5 40.5h1M21 42.5h1M23 43.5h1m50 0h1M87 44.5h1m2 0h1M88 45.5h1M27 46.5h1M66 47.5h1m22 0h1M19 48.5h1m74 0h1M97 49.5h1M24 52.5h1m6 0h1m6 0h1m26 0h1m6 0h1M6 53.5h1m8 0h1m8 0h1M47 54.5h1M35 56.5h1M35 57.5h1m50 0h1M4 58.5h1m4 0h1m74 0h1M4 65.5h1m83 0h1M90 66.5h1M11 67.5h1M2 68.5h1m24 0h1M2 71.5h1m40 0h1M67 72.5h1M75 73.5h1M97 74.5h1M25 75.5h1M68 76.5h1M80 77.5h1M14 79.5h1m3 0h1m2 0h1M14 80.5h1M50 81.5h1m33 0h1M9 82.5h1m36 0h1M14 83.5h1m15 0h1M84 84.5h1M7 85.5h1m4 0h1M94 86.5h1M52 88.5h1M56 91.5h1M40 92.5h2M28 93.5h1M16 94.5h1M0 96.5h1M52 97.5h1M15 99.5h1m30 0h1"/>
<path stroke="#0046ff" d="M28 0.5h1M6 2.5h1m20 0h1m19 0h1M17 3.5h1m2 0h1m10 0h1m41 0h1M52 4.5h1M62 5.5h1m14 0h1M12 6.5h1m8 0h1M43 7.5h1m21 0h1M49 8.5h1m16 0h1m29 0h1M49 9.5h1m4 0h1m43 0h1M27 10.5h1m63 0h1M79 11.5h1M81 12.5h1m9 0h1M75 13.5h1M8 14.5h1m42 0h1m14 0h1M4 15.5h1M54 16.5h1M23 17.5h1m71 0h1m1 0h2M15 18.5h1M8 19.5h1m36 0h1m6 0h1m25 0h1m3 0h1m2 0h1M82 20.5h1M44 21.5h1M52 22.5h1m40 0h1M32 23.5h1m32 0h1M12 25.5h1m23 0h1m41 0h1M4 26.5h1m51 0h1m19 0h1M50 27.5h1M57 28.5h1m6 0h1m19 0h1M21 29.5h1m56 0h1m12 0h1M1 30.5h1m45 0h1m38 0h1M3 31.5h1M18 32.5h1M13 33.5h1M79 34.5h1M71 35.5h1M12 37.5h1m1 0h1m65 0h1M35 38.5h1m17 0h1m19 0h1m20 0h2M2 39.5h1M1 40.5h1m53 0h1m30 0h1M26 41.5h1M71 42.5h1M1 43.5h1m30 0h1M9 44.5h1m45 0h1m14 0h2M51 45.5h1M0 46.5h1M10 47.5h1m61 0h1m22 0h1M92 48.5h1M2 49.5h1m5 0h1M79 52.5h2M21 53.5h1M1 55.5h1M65 56.5h1M24 58.5h1m69 0h1M33 59.5h1M16 60.5h1m27 0h1M7 61.5h1m54 0h1m34 0h1M11 62.5h1m1 0h1m45 0h1M25 64.5h1m39 0h1M18 65.5h1M79 66.5h1M4 68.5h1m12 0h1m1 0h1M19 69.5h1M20 70.5h1m62 0h1M74 71.5h1M33 72.5h1m17 0h1m25 0h1M55 73.5h1M13 74.5h1m36 0h1M30 75.5h1m4 0h1m4 0h1m10 0h1M62 76.5h1M55 77.5h1M49 79.5h1m11 0h1M16 81.5h1m71 0h1m9 0h1M60 82.5h1M16 83.5h1m9 0h1m72 0h1M10 84.5h1m75 0h1M14 85.5h1M15 86.5h1m12 0h2m25 0h1m15 0h1M13 87.5h1m26 0h1m42 0h1m11 0h1m2 0h1M43 88.5h1M35 89.5h1m5 0h1m34 0h1M11 90.5h1m12 0h1m1 0h1M36 91.5h1m12 0h1M50 93.5h1M1 94.5h1m10 0h1m20 0h1M72 96.5h1m13 0h1M42 97.5h1m43 0h1M53 98.5h1M27 99.5h1"/>
<path stroke="#0067ff" d="M27 0.5h1m1 0h1m36 0h1M0 1.5h1m43 0h1M40 2.5h1m20 0h1m6 0h1M43 3.5h1M19 4.5h1m35 0h1M21 5.5h1m10 0h1m59 0h2M16 6.5h1m53 0h1M92 7.5h1m5 0h1M39 8.5h1m34 0h1m13 0h1M68 9.5h1M16 10.5h1m22 0h1m23 0h1m15 0h1M5 11.5h1m1 0h1m18 0h1m8 0h1m7 0h1m12 0h1m25 0h1m16 0h1M0 12.5h1m39 0h1m14 0h1M3 13.5h1m1 0h1m26 0h1m19 0h1m37 0h1M14 14.5h1m25 0h1m45 0h1m9 0h1M59 15.5h1m27 0h1M14 16.5h1m68 0h1m6 0h1M54 17.5h1m27 0h1M62 18.5h1M4 19.5h1m6 0h1m27 0h1M0 21.5h1m40 0h1m13 0h1m3 0h1m34 0h1M9 22.5h1m57 0h1m16 0h1M68 23.5h1M92 24.5h1m2 0h1m3 0h1M10 25.5h1m18 0h1M95 26.5h1M56 27.5h1m25 0h1m16 0h1M14 29.5h1M97 30.5h1M13 31.5h1m13 0h1m7 0h1m50 0h1M8 32.5h1m2 0h1M39 33.5h1m10 0h1m18 0h1M4 34.5h1m48 0h1m23 0h1M58 35.5h1m26 0h1M3 36.5h1m9 0h1m2 0h1m61 0h1M32 37.5h1m10 0h1m5 0h1m36 0h1M55 38.5h1m43 0h1M34 39.5h1m7 0h1m23 0h1M18 40.5h1m1 0h1m39 0h1M75 42.5h1M4 43.5h1m24 0h1m51 0h1m2 0h1M89 44.5h1m4 0h1M27 45.5h1m2 0h1m42 0h1M14 46.5h1m4 0h1M27 47.5h1m32 0h1M0 48.5h1m5 0h1m71 0h1M1 49.5h1m23 0h1M18 50.5h1M36 51.5h1M15 52.5h1M5 53.5h1m62 0h1M8 54.5h1m14 0h1m16 0h1M63 55.5h1M42 56.5h1m20 0h1m13 0h1m4 0h1m2 0h2M11 57.5h1m22 0h1M80 58.5h1M11 59.5h1m13 0h1m21 0h1m48 0h1M27 60.5h1m17 0h1m5 0h1m40 0h1M57 61.5h1m38 0h1M9 62.5h1m11 0h1m23 0h1m20 0h1M12 63.5h1m20 0h1m57 0h1M41 64.5h1M81 65.5h1M20 66.5h1m70 0h1M93 67.5h1M48 68.5h1m6 0h1m27 0h1M26 69.5h1m8 0h1m3 0h1m7 0h1m7 0h1m33 0h1M27 71.5h1m18 0h1M92 73.5h1M11 74.5h1m25 0h1m44 0h1M42 75.5h1m19 0h1M24 77.5h1m73 0h1M70 78.5h1M76 79.5h1M2 80.5h1M26 81.5h1m13 0h1m15 0h1M56 83.5h1m13 0h1M15 84.5h1m22 0h1m58 0h1M13 85.5h1m41 0h1m3 0h1m3 0h1m13 0h1M27 86.5h1M38 87.5h1m26 0h1M8 88.5h1m37 0h1m9 0h1m33 0h1M5 89.5h1m20 0h1m34 0h1M90 90.5h1M9 91.5h1m8 0h1m5 0h1m65 0h1M0 92.5h1m22 0h1m30 0h1M5 93.5h1m12 0h1m29 0h1m6 0h1m26 0h1M4 94.5h1m32 0h1m24 0h1m12 0h1m2 0h1M7 95.5h1m3 0h1m6 0h1m12 0h1m67 0h1M57 96.5h1M64 97.5h1M15 98.5h1m9 0h1m16 0h1m42 0h1M19 99.5h1m2 0h1m68 0h1"/>
<path stroke="#0088ff" d="M51 0.5h1m23 0h1M28 1.5h1m21 0h1m9 0h1m17 0h1M19 2.5h1m19 0h1m6 0h1m8 0h1m7 0h1m3 0h1m12 0h1M15 3.5h2m36 0h1m12 0h1m30 0h1M0 4.5h1m23 0h1m20 0h1m10 0h1m35 0h1M24 5.5h1m29 0h1m32 0h1M9 6.5h1m17 0h1m6 0h1m46 0h1m13 0h1M29 7.5h1m48 0h1m14 0h1M24 8.5h1m53 0h1M14 9.5h1m48 0h1m18 0h2M18 10.5h1m39 0h1m7 0h1m11 0h1m18 0h1m1 0h1M2 12.5h1m18 0h1m4 0h1m16 0h1m29 0h1M7 13.5h1m35 0h1m6 0h1m13 0h1m13 0h2M4 14.5h1m24 0h1m45 0h1m17 0h1M2 15.5h1m40 0h1m44 0h1M12 16.5h1m56 0h2M38 17.5h1m13 0h1m8 0h1m15 0h1M12 18.5h1m19 0h1m52 0h1M87 19.5h1m1 0h1M21 20.5h1m39 0h1m22 0h1M3 21.5h1m7 0h1m27 0h1m13 0h1m26 0h1m4 0h1M34 22.5h1m7 0h1m16 0h1m32 0h1M5 23.5h1M8 24.5h1m32 0h1m32 0h1M0 25.5h1m27 0h1m14 0h1m13 0h1m1 0h1m6 0h1m3 0h1m17 0h2M54 26.5h1M73 27.5h1m16 0h1M27 28.5h1m11 0h1m22 0h1m16 0h1m7 0h1M18 29.5h1m17 0h1m5 0h1m1 0h1M76 30.5h1m21 0h1M21 31.5h1m16 0h1m7 0h1m29 0h1m4 0h1M3 32.5h1m10 0h1m1 0h1m41 0h1m33 0h1M10 33.5h1m14 0h1m1 0h2m54 0h1m1 0h1m2 0h1M42 34.5h1m45 0h1m7 0h1M34 35.5h1m4 0h1m8 0h1M1 36.5h1m38 0h1m5 0h1m7 0h1M17 37.5h1m5 0h1m12 0h1m45 0h1M15 38.5h2M7 39.5h1m36 0h1m9 0h1m37 0h1M56 40.5h1m32 0h1M13 41.5h1m22 0h1M34 42.5h1m37 0h2m3 0h1m8 0h1M49 43.5h1m28 0h1m8 0h2m7 0h1M2 44.5h1m30 0h1M8 45.5h1m20 0h1m63 0h1M1 46.5h1m18 0h1m22 0h1m15 0h1m2 0h1M48 47.5h1M20 48.5h1m34 0h1m1 0h1M4 49.5h1m12 0h1m3 0h1m4 0h1m62 0h1M32 50.5h1M4 51.5h1m16 0h1m25 0h1m25 0h1M53 52.5h1M7 53.5h1m6 0h1m64 0h1M20 54.5h1m22 0h1m54 0h1M18 55.5h1m5 0h1m46 0h1m13 0h1M46 56.5h1m20 0h1M50 57.5h1m6 0h1M39 58.5h1m33 0h1M40 59.5h1m48 0h1m1 0h1m2 0h1M0 60.5h1m16 0h1m10 0h1m19 0h1M50 61.5h1m14 0h1m19 0h1M31 62.5h1m26 0h1m29 0h1M66 63.5h1m1 0h1M3 64.5h1m34 0h1m50 0h1M30 65.5h1m43 0h1M29 66.5h1m5 0h1m10 0h1m6 0h1M11 68.5h1m6 0h1m12 0h1m38 0h1m2 0h1m18 0h1M20 69.5h2m23 0h1m38 0h1M49 70.5h1m2 0h1m41 0h1M87 71.5h1M14 72.5h1m17 0h1m16 0h1m21 0h1m24 0h1M25 73.5h1m13 0h1m1 0h1m3 0h1m2 0h1m13 0h1m9 0h1M35 74.5h1M60 75.5h1M29 76.5h1m18 0h1m26 0h1m8 0h1M63 77.5h1m3 0h1m8 0h1m20 0h1M12 78.5h1m6 0h1m12 0h1m13 0h1m47 0h1M44 79.5h2m25 0h1M31 80.5h1M2 81.5h1m3 0h1M18 82.5h1m52 0h1M5 83.5h1m4 0h1m8 0h1m56 0h1m16 0h1M9 84.5h1m9 0h1m27 0h1m26 0h1m8 0h1M44 85.5h1m4 0h1m19 0h1m4 0h1M52 86.5h2m38 0h1M26 87.5h1m1 0h1m10 0h1m16 0h1M27 88.5h1m13 0h1m38 0h1m5 0h1M20 89.5h2m47 0h1m14 0h1M53 90.5h1m6 0h1m2 0h1m1 0h1m13 0h1M1 91.5h1m3 0h1m8 0h1m23 0h1m29 0h1m1 0h2m1 0h1m1 0h1M2 92.5h1m40 0h1m36 0h1M17 93.5h1m2 0h1m64 0h1m1 0h1m5 0h1M45 94.5h1m3 0h1m11 0h1m9 0h1M48 95.5h1m4 0h1m4 0h1m23 0h1M77 96.5h1m7 0h1m7 0h1M28 97.5h1m9 0h1m28 0h1M11 98.5h1m20 0h1m3 0h1m15 0h1m2 0h1M35 99.5h1m11 0h1m5 0h1m9 0h1m18 0h1"/>
<path stroke="#00a9ff" d="M38 0.5h1m4 0h1m21 0h1M9 1.5h1m71 0h1m15 0h1M52 2.5h1m12 0h1m21 0h1m8 0h1M25 3.5h1m10 0h1m5 0h1m16 0h1M38 4.5h1m9 0h1m20 0h1m17 0h1m11 0h1M12 5.5h1m3 0h1m31 0h1m47 0h1M5 6.5h1m25 0h1m4 0h1m2 0h1m24 0h1M75 7.5h1m12 0h1M40 8.5h1m12 0h1m15 0h1M0 9.5h1m46 0h1m37 0h1M19 10.5h1m3 0h1m8 0h1m24 0h1m4 0h1m10 0h1M19 11.5h1m51 0h1M3 12.5h1m12 0h1m27 0h1m26 0h1M1 13.5h1m12 0h1m27 0h1m1 0h1m27 0h1m10 0h1M11 14.5h2m56 0h1M11 15.5h1m16 0h1m34 0h1m4 0h1m3 0h1m5 0h1M26 16.5h1m17 0h1M7 17.5h1m40 0h1m10 0h1m2 0h1m16 0h1m16 0h1M4 18.5h1m23 0h1m38 0h1m2 0h1M34 19.5h1m1 0h1m12 0h1m25 0h2M8 20.5h1m15 0h1m45 0h1m20 0h1m3 0h1M1 21.5h1m22 0h1m3 0h1m6 0h1m11 0h1m21 0h1m17 0h1m4 0h1m4 0h1M60 22.5h3m5 0h1m10 0h1m19 0h1M22 23.5h1m18 0h1m40 0h2m2 0h1M25 24.5h1m35 0h1m23 0h1M23 25.5h1m9 0h1m28 0h1m11 0h1m2 0h1M6 26.5h1m16 0h1m18 0h1M58 27.5h1m15 0h1M15 28.5h1M17 29.5h1m12 0h1m2 0h1m3 0h1m17 0h1m11 0h1M4 30.5h1m14 0h1m14 0h1m10 0h1m31 0h1m2 0h1M7 31.5h1m25 0h1m36 0h1M28 32.5h2m36 0h1m2 0h1m23 0h1M8 33.5h1m32 0h1m9 0h1m1 0h1m28 0h1m13 0h1M37 34.5h1m29 0h1m2 0h1M4 35.5h1m15 0h1m10 0h1m21 0h1m3 0h1m39 0h1M42 36.5h1m6 0h1m44 0h1M3 37.5h2m10 0h1m57 0h1m19 0h1M1 38.5h1m6 0h1m5 0h1m24 0h1m7 0h1m12 0h1m7 0h1m5 0h1m3 0h1m12 0h1M23 39.5h1m5 0h1m7 0h2m22 0h1m3 0h1M11 40.5h1m11 0h1m10 0h1m32 0h1m8 0h1m2 0h1M17 41.5h1m40 0h2M28 42.5h1m8 0h1m46 0h1m12 0h1M11 43.5h1m12 0h1m11 0h1m6 0h1m26 0h1m4 0h1M34 44.5h1m25 0h1m1 0h1m12 0h1m16 0h1m4 0h1M10 45.5h1m13 0h1m10 0h1m14 0h1m1 0h1m5 0h1m16 0h1M4 46.5h1m8 0h1m26 0h1m35 0h1m13 0h1M40 47.5h1m40 0h1m12 0h1M31 49.5h1m1 0h1m12 0h1m37 0h1M13 50.5h1m10 0h1M5 51.5h1m6 0h1m21 0h1m10 0h1m19 0h1m15 0h1m10 0h1M19 52.5h1m57 0h1m7 0h1M2 53.5h1m61 0h1m1 0h1m19 0h1m3 0h1m4 0h1M19 54.5h1m1 0h1M16 55.5h1m57 0h1M21 56.5h1m9 0h1m64 0h1M45 57.5h1M18 58.5h1M39 59.5h1m58 0h1M20 60.5h1m5 0h1m5 0h1m2 0h1m11 0h1m20 0h1M1 61.5h1m46 0h1m18 0h1m4 0h1m13 0h1m7 0h1M29 62.5h1m34 0h1m17 0h1m14 0h1M1 63.5h1m4 0h1m33 0h2m19 0h1m2 0h1m25 0h1M7 64.5h1m4 0h1m6 0h1m35 0h1m17 0h1M3 65.5h1m11 0h1m9 0h1m26 0h1m7 0h1m6 0h1M54 66.5h1M83 67.5h1M65 68.5h1m25 0h1m5 0h1M4 69.5h1m6 0h1m38 0h1m7 0h1m9 0h1m3 0h1m3 0h1m14 0h1M2 70.5h1m5 0h1m58 0h1m8 0h1m20 0h1M0 71.5h1m38 0h1m15 0h1M23 72.5h1m24 0h1m9 0h1m9 0h1M10 73.5h2m2 0h1m15 0h1m9 0h1m12 0h1m6 0h1M31 74.5h1m4 0h1m20 0h1M2 75.5h1m3 0h2m1 0h1m24 0h1m8 0h1m53 0h1M14 76.5h1m13 0h1m5 0h1M0 77.5h1m47 0h1m38 0h1M26 78.5h1m23 0h1m42 0h1M85 79.5h1m6 0h1M3 80.5h1m1 0h1m80 0h1m4 0h1M54 81.5h1m4 0h1m1 0h1m5 0h1m17 0h1m7 0h1M1 82.5h1m51 0h1m10 0h1m22 0h1m5 0h1M90 83.5h1M24 84.5h1M2 85.5h1m30 0h1m5 0h1m10 0h1m6 0h1m21 0h1m4 0h1m1 0h1M5 86.5h1m91 0h1M18 87.5h1m17 0h1m4 0h1m3 0h1m33 0h1m14 0h1M95 88.5h1m2 0h1M3 89.5h1m5 0h1m7 0h1m28 0h1m2 0h1m3 0h1m2 0h1m2 0h1m32 0h1M17 90.5h1m43 0h1m21 0h1m5 0h1M16 91.5h1m80 0h1M27 92.5h2m33 0h1m11 0h1m3 0h1M2 93.5h1m9 0h1m19 0h1m9 0h1m26 0h1m5 0h1M23 94.5h1m2 0h1m8 0h1M1 95.5h1m10 0h1m33 0h1m19 0h1m10 0h1m8 0h1m2 0h2M28 96.5h1m58 0h1M45 97.5h1m52 0h1M1 99.5h1m4 0h1m36 0h1m54 0h1"/>
<path stroke="#00caff" d="M19 0.5h1m4 0h1m51 0h1m9 0h1m2 0h1m3 0h1m5 0h1M11 1.5h1m4 0h1m22 0h1m6 0h1m5 0h1m17 0h1m2 0h1m8 0h1M3 2.5h1m12 0h1m28 0h1m23 0h1m18 0h1M3 3.5h1m4 0h1m14 0h1m55 0h1m3 0h2m9 0h1m1 0h1M3 4.5h1m12 0h1m8 0h1m2 0h1m14 0h1m3 0h1m6 0h1m2 0h1m7 0h1M2 5.5h1m24 0h1m51 0h1m17 0h1M65 6.5h1M38 7.5h1m37 0h1m8 0h1M0 8.5h1m27 0h1m6 0h1m18 0h1m3 0h1m11 0h1m16 0h1M19 9.5h1m11 0h1m27 0h1m7 0h1m8 0h1m18 0h2M5 10.5h1M17 11.5h1m59 0h1m6 0h1M37 12.5h1m9 0h1m4 0h1m12 0h1m8 0h2m3 0h1m10 0h1M10 13.5h1m4 0h1m5 0h1m69 0h1m5 0h2M41 14.5h1m11 0h1m1 0h1m26 0h1M5 15.5h1m21 0h1m5 0h1m47 0h1m13 0h1M3 16.5h1m46 0h1m4 0h1m19 0h1m20 0h1M16 17.5h1m14 0h1m8 0h1m28 0h1M2 18.5h1m23 0h1m9 0h1m29 0h1m2 0h1m5 0h1m2 0h1m1 0h1m9 0h2M72 19.5h1M34 20.5h1m28 0h1m35 0h1M22 21.5h1m9 0h1m1 0h1m17 0h1m4 0h1m3 0h2m27 0h1M32 22.5h1m18 0h1m12 0h1m11 0h1M23 23.5h1m20 0h1m39 0h1M13 24.5h1m3 0h1M6 25.5h1m40 0h1m5 0h1m6 0h1m3 0h1m6 0h1M17 26.5h1m19 0h1m11 0h1m18 0h1M9 27.5h1m1 0h1m6 0h1m28 0h1m41 0h1m8 0h1M0 28.5h1m4 0h1m3 0h1m3 0h1m46 0h1m8 0h1M38 29.5h1m27 0h1M6 30.5h1m1 0h1m33 0h1m1 0h1m5 0h2m15 0h1m13 0h2m2 0h1M36 31.5h1m55 0h1M1 32.5h1m35 0h1m38 0h1M5 33.5h1m42 0h1m8 0h1m1 0h1m2 0h1m4 0h1M11 34.5h1m24 0h1m28 0h1m8 0h1M19 35.5h1m30 0h2m24 0h1M12 36.5h1m7 0h1m37 0h1m6 0h1m26 0h1M13 37.5h1m2 0h1m43 0h1m7 0h1m20 0h1M7 38.5h1m2 0h1m20 0h2m30 0h1m3 0h1m29 0h1M4 39.5h1m11 0h1m14 0h1m26 0h1m15 0h1m1 0h1m2 0h1m6 0h1M29 40.5h1m52 0h1m10 0h1M38 41.5h1m25 0h1m18 0h1m9 0h1M1 42.5h1m27 0h2m51 0h1m10 0h1M5 43.5h1m10 0h2m2 0h1m13 0h1m6 0h1m21 0h1m28 0h1m6 0h1M0 44.5h1m5 0h1m25 0h1m7 0h2m12 0h1m30 0h1M16 45.5h1m6 0h1m18 0h1m14 0h1m12 0h1m8 0h1m7 0h1M47 46.5h1m3 0h1m18 0h1m1 0h1M16 47.5h1m18 0h1m25 0h1m11 0h1m12 0h1m3 0h1M9 48.5h1m77 0h1M11 49.5h1m7 0h1m12 0h1m4 0h1m2 0h1m19 0h1m1 0h1m1 0h1m8 0h1m16 0h1M19 50.5h2m71 0h1M6 51.5h1m18 0h1m9 0h1m6 0h1m25 0h1m5 0h1m11 0h1M11 52.5h1m16 0h1m19 0h1m38 0h1m5 0h1M10 53.5h1m12 0h1m24 0h1m18 0h1m6 0h1m13 0h1M13 54.5h1m19 0h1m1 0h1m3 0h1m25 0h2m12 0h1m8 0h1M21 55.5h2m15 0h1m17 0h1m32 0h1M23 56.5h1m48 0h1m2 0h1m11 0h1m5 0h1M1 57.5h1m4 0h1m73 0h1M31 58.5h1m5 0h1m19 0h1m1 0h1m15 0h1m7 0h1m13 0h1M42 59.5h1m2 0h2m9 0h1m2 0h1m4 0h1m17 0h1M71 60.5h3m4 0h1m15 0h1M11 61.5h1m9 0h1m8 0h1M36 62.5h1m5 0h2m42 0h1M0 63.5h1m26 0h1m28 0h1m10 0h1m14 0h1M24 64.5h1m2 0h1m7 0h1m34 0h1M7 65.5h1m21 0h1m11 0h1m12 0h1m10 0h1m7 0h1M34 66.5h1m16 0h1m6 0h1m14 0h1m18 0h1M34 67.5h1m12 0h1m3 0h1m22 0h1M9 68.5h1m6 0h1m4 0h1m56 0h1M41 69.5h1m45 0h1m2 0h1M4 70.5h2m19 0h2m9 0h1m5 0h1m5 0h1m42 0h1M24 71.5h1m28 0h1m40 0h1M25 72.5h1m1 0h1m17 0h3m21 0h2M3 73.5h1m27 0h1m17 0h1m14 0h1m21 0h1M15 74.5h1m9 0h1m35 0h1m15 0h1m5 0h1m3 0h1M27 75.5h1m45 0h1m18 0h1m5 0h1M0 76.5h1m7 0h1m15 0h1m13 0h1m12 0h1m15 0h1m4 0h2m7 0h1m14 0h1M3 77.5h1m1 0h1m39 0h1m8 0h1m3 0h1m18 0h1m11 0h1m2 0h1M15 78.5h1m17 0h1m30 0h1M54 79.5h1m28 0h1m2 0h1M22 80.5h1m5 0h1m6 0h1m9 0h1m10 0h1m4 0h1m10 0h2m13 0h1m1 0h1m5 0h1M47 81.5h1m9 0h1m37 0h1M4 82.5h1m9 0h1m5 0h2m21 0h2m46 0h1M61 83.5h1m34 0h1M4 84.5h1m6 0h1m37 0h1m6 0h1m21 0h1m9 0h1m6 0h1m3 0h1M31 85.5h1m9 0h1m16 0h1m40 0h1M25 86.5h1m34 0h1M48 87.5h1m41 0h1M10 88.5h1m10 0h1m55 0h1m11 0h1M2 89.5h1m20 0h1m12 0h1m11 0h1m8 0h1m13 0h1m19 0h1M1 90.5h1m23 0h1m11 0h1m50 0h1m7 0h1M20 91.5h1m7 0h1m18 0h1m6 0h1m33 0h1m5 0h1M32 92.5h1m24 0h1m34 0h1M90 93.5h1m3 0h1M32 94.5h1m23 0h1m20 0h1m20 0h2M76 95.5h1m8 0h1M2 96.5h1m16 0h1m5 0h1m32 0h1m1 0h1m7 0h1m13 0h1M12 97.5h1m26 0h1m16 0h1m8 0h1M8 98.5h1m64 0h1m8 0h1M23 99.5h1m26 0h1m6 0h1m6 0h1m14 0h2m7 0h1m4 0h1"/>
<path stroke="#00eaff" d="M13 0.5h1m3 0h1m24 0h1m16 0h1m12 0h1m8 0h1m2 0h1m6 0h1m5 0h2M20 1.5h1m4 0h1m7 0h1m6 0h1m20 0h1m31 0h1M38 2.5h1m15 0h1m3 0h2m10 0h1m6 0h1m6 0h1m13 0h1M6 4.5h1m15 0h1m17 0h1m8 0h1m23 0h1m4 0h1m9 0h1m5 0h2M11 5.5h1m8 0h1m21 0h1m1 0h1m13 0h2m1 0h1m1 0h1M8 6.5h1m4 0h1m27 0h1m3 0h1m7 0h1m2 0h1m4 0h1m12 0h1m11 0h1M0 7.5h1m4 0h1m2 0h1m1 0h1m6 0h1m1 0h1m12 0h1m7 0h1m8 0h1m4 0h1m34 0h1M60 8.5h1m24 0h1m4 0h1M16 9.5h1m5 0h1m4 0h2m24 0h1m2 0h1m1 0h1m29 0h1m1 0h1M9 10.5h1m5 0h1m55 0h1m9 0h1M8 11.5h1m19 0h1m2 0h1m1 0h2m5 0h1m12 0h2m21 0h1m6 0h1m12 0h1M17 12.5h1m5 0h1m4 0h1m29 0h1m17 0h1m5 0h1m16 0h1M31 13.5h1m2 0h1m1 0h1m37 0h1m9 0h1m9 0h1M38 14.5h2m10 0h1m14 0h1m10 0h1m7 0h1m6 0h1M20 15.5h1m20 0h1M2 16.5h1m13 0h1m13 0h1m7 0h1m21 0h1m6 0h1m14 0h1M5 17.5h1m4 0h1m4 0h1m9 0h1m2 0h1m31 0h1M0 18.5h1m12 0h1m15 0h1m22 0h1m29 0h1M27 19.5h1m7 0h1m7 0h1m16 0h1M4 20.5h1m6 0h1m4 0h1m25 0h1m2 0h1M26 21.5h1m50 0h1M8 22.5h1m17 0h2m7 0h1m1 0h1m3 0h1m11 0h1m11 0h1m22 0h1M25 23.5h1m9 0h1m1 0h1m5 0h1m5 0h1m2 0h1m10 0h1m8 0h1m5 0h1m1 0h1m15 0h1m2 0h1M0 24.5h2m30 0h1m17 0h1m43 0h1M3 25.5h1m10 0h1m1 0h1m14 0h1m26 0h1m17 0h1m6 0h1M12 26.5h1m12 0h1m18 0h1m18 0h1m20 0h1m5 0h1M3 27.5h1m11 0h1m1 0h1m6 0h1m5 0h1m31 0h2m21 0h1m6 0h1M10 28.5h1m9 0h1m19 0h1m3 0h1m21 0h1M0 29.5h1m26 0h1m17 0h1m46 0h1M30 30.5h1m8 0h2m2 0h1m45 0h1M8 31.5h1m22 0h1m24 0h1m17 0h1M31 32.5h1m12 0h1m9 0h1m26 0h1m3 0h1M4 33.5h1m42 0h1m16 0h1m7 0h1m13 0h1M18 34.5h1m6 0h1m3 0h1m10 0h1m18 0h1m9 0h1m28 0h1M3 35.5h1m1 0h1m6 0h1m60 0h1m6 0h1m12 0h1m2 0h1M24 36.5h1m1 0h1m7 0h2m5 0h1m8 0h1m11 0h1m17 0h1m1 0h1m16 0h1M18 37.5h1m19 0h1m1 0h1m5 0h1m10 0h1m8 0h1m27 0h1M2 38.5h1m45 0h1m26 0h1m7 0h1M5 39.5h1m7 0h1m31 0h1m1 0h1m1 0h1m9 0h1m34 0h1M24 40.5h1m10 0h1m10 0h1m19 0h1m5 0h1M32 41.5h1m10 0h1m1 0h2m13 0h2m3 0h1m1 0h1m18 0h1m4 0h1M4 42.5h1m3 0h1m36 0h1m33 0h1m19 0h1M13 43.5h1m5 0h1m5 0h1m20 0h1m36 0h1m2 0h1M16 44.5h1m2 0h1m45 0h1m14 0h1m1 0h1M1 45.5h1m12 0h1m63 0h1m12 0h1M21 46.5h1m3 0h1m20 0h1m6 0h1m24 0h1M6 47.5h1m8 0h1m27 0h1m13 0h1m5 0h1m18 0h1m1 0h1M8 48.5h1m5 0h1m2 0h2m34 0h1m31 0h1m10 0h1m1 0h1M9 49.5h1m65 0h1m10 0h1M6 50.5h1m4 0h1m15 0h2m10 0h1m10 0h1m7 0h2m1 0h1m15 0h1m7 0h2m6 0h1M32 51.5h1m33 0h1m27 0h2M6 52.5h1m15 0h1m44 0h2m6 0h1m10 0h1m4 0h1m4 0h1M33 53.5h1m1 0h1m5 0h1m7 0h1m35 0h1m12 0h1M5 54.5h1m69 0h1m9 0h1m8 0h1M2 55.5h2m37 0h1m8 0h2m12 0h1m18 0h1m12 0h1M10 56.5h1m29 0h1m9 0h1m19 0h1M40 57.5h1m17 0h1m19 0h1m2 0h1m3 0h1M1 58.5h1m79 0h1m14 0h1M0 59.5h1m9 0h1m13 0h1m10 0h1m8 0h1m21 0h1m30 0h1M5 60.5h1m19 0h1M36 61.5h1m5 0h1m30 0h1m2 0h2m11 0h1M5 62.5h1m4 0h1m16 0h1m5 0h1m51 0h1m8 0h1M2 63.5h1m23 0h1m42 0h1m4 0h1m23 0h1M45 64.5h1m13 0h1m32 0h1M6 65.5h1m5 0h1m14 0h1m10 0h1m4 0h1m1 0h1m1 0h1M0 66.5h1m22 0h1m53 0h1m5 0h1M1 67.5h1m3 0h1m7 0h1m13 0h1m4 0h1m31 0h1m1 0h2m13 0h2m14 0h1M5 68.5h2m8 0h1m17 0h1m15 0h2m31 0h1M1 69.5h2m10 0h1m16 0h1m5 0h2M15 70.5h1m14 0h1m15 0h1m17 0h1m21 0h1M16 71.5h1m4 0h1m34 0h1m12 0h1m11 0h2m9 0h1M7 72.5h1m2 0h1m72 0h1m4 0h1m4 0h1m3 0h1m1 0h1M24 73.5h1m34 0h1m6 0h1m11 0h1m1 0h1m1 0h1m7 0h1M32 74.5h1m22 0h1m11 0h1M38 75.5h1m17 0h1m26 0h1M31 76.5h1M8 77.5h1m7 0h1m23 0h1m18 0h1m5 0h1m29 0h1M35 78.5h1m4 0h1m3 0h1m4 0h1m30 0h1M26 79.5h1m6 0h1m8 0h1m10 0h1m4 0h2m9 0h1m21 0h1M18 80.5h1m5 0h1m24 0h1m5 0h1M45 81.5h2m5 0h1M6 82.5h1m4 0h1m27 0h1m2 0h1m2 0h1m1 0h1m17 0h2m5 0h1m15 0h1m10 0h1M4 83.5h1m4 0h1m17 0h1m23 0h1m10 0h1m18 0h1M12 84.5h1m30 0h1m28 0h2M1 85.5h1m14 0h1m2 0h1m14 0h1m8 0h1m9 0h1M8 86.5h1m9 0h1m18 0h1m21 0h1m2 0h1m11 0h1m12 0h1m2 0h1M9 87.5h1m47 0h1m4 0h1m3 0h1m9 0h1m14 0h1m4 0h1M38 88.5h1m9 0h1M6 89.5h1m7 0h2m3 0h1m10 0h2m42 0h1m3 0h1M18 90.5h1m16 0h1m8 0h1m33 0h1M8 91.5h1m4 0h1m5 0h1m25 0h1m5 0h1m1 0h1m5 0h1m1 0h1m2 0h1m31 0h1M22 92.5h1m3 0h1m3 0h1m17 0h1m1 0h1m25 0h1M46 93.5h1m21 0h1m7 0h1m2 0h1m16 0h1M7 94.5h1m31 0h1m6 0h1m1 0h1m5 0h1m8 0h1m8 0h1M5 95.5h1m2 0h1m7 0h1m28 0h1m28 0h1m6 0h1m9 0h1M17 96.5h1m25 0h1m17 0h1M7 97.5h1m9 0h1m8 0h1m10 0h1m8 0h1m3 0h1m12 0h1m15 0h1m2 0h1m12 0h1M21 98.5h1m37 0h1m9 0h1m19 0h2M30 99.5h1m10 0h1m3 0h1m5 0h2m18 0h1"/>
<path stroke="#0cfff3" d="M1 0.5h2m6 0h1m29 0h1m4 0h1m51 0h1M7 1.5h1m18 0h2m1 0h1m5 0h1m17 0h1M1 2.5h1m20 0h1m3 0h1m2 0h2m3 0h1m18 0h1m12 0h1m18 0h1M6 3.5h1m7 0h1m12 0h1m2 0h1m1 0h1m28 0h1m1 0h1m17 0h1m13 0h1M13 4.5h1m9 0h1m6 0h1m2 0h1m1 0h1m10 0h1m6 0h1m6 0h1m7 0h1m6 0h1m13 0h1M3 5.5h1m1 0h1m2 0h1m1 0h1m4 0h1m12 0h2m15 0h1m3 0h1m6 0h1m3 0h1m14 0h1m5 0h1m4 0h1m3 0h1M30 6.5h1m2 0h1m1 0h1m2 0h1m15 0h1m5 0h1m16 0h1m10 0h1M27 7.5h2m5 0h1m15 0h1m6 0h1m28 0h1m10 0h1m1 0h1M6 8.5h1m4 0h1m22 0h1m27 0h1m10 0h1M24 9.5h1m4 0h1m7 0h1m27 0h1m14 0h1m18 0h1M2 10.5h1m14 0h1m2 0h1m27 0h1m16 0h1m22 0h2M2 11.5h1m1 0h1m1 0h1m34 0h1m6 0h1m6 0h1m5 0h1m2 0h2M22 12.5h1m6 0h1m1 0h1m3 0h1m17 0h1m2 0h1m35 0h1M12 13.5h1m22 0h1m13 0h1m1 0h1m3 0h1m1 0h1m3 0h1m33 0h1M2 14.5h1m14 0h1m3 0h1m2 0h1m47 0h2m16 0h1m7 0h1M91 15.5h1m7 0h1M4 16.5h1m2 0h1m14 0h1m1 0h1m9 0h2m22 0h1m2 0h1m10 0h1m24 0h1M3 17.5h1m5 0h1m34 0h1m22 0h1m5 0h2m3 0h1M7 18.5h1m13 0h1m16 0h1m6 0h1m5 0h1m27 0h1M0 19.5h1m24 0h1m35 0h1m2 0h1m30 0h1M15 20.5h1m6 0h1m10 0h1m19 0h1m14 0h1M7 21.5h1m7 0h1m5 0h1m24 0h1m28 0h1m8 0h1M2 22.5h1m27 0h1m12 0h1m13 0h1M6 23.5h1m3 0h1m4 0h1m8 0h1m21 0h1m6 0h1m13 0h1m9 0h1m3 0h1m7 0h1m3 0h2M14 24.5h1m12 0h1m3 0h1m2 0h1m10 0h1m21 0h1m2 0h1m10 0h1m1 0h2m6 0h1m6 0h1M5 25.5h1m9 0h1m5 0h1m8 0h1m14 0h1m47 0h1M0 26.5h1m1 0h1m28 0h1m1 0h1m17 0h1m17 0h1m13 0h1m4 0h2m3 0h1M7 27.5h1m35 0h1m4 0h2m20 0h1m8 0h1m3 0h1M22 28.5h1m11 0h1m2 0h1m3 0h1m11 0h2m3 0h1m11 0h1m6 0h1m10 0h1m3 0h1m5 0h1M40 29.5h1m7 0h1m12 0h1M11 30.5h1m9 0h1m39 0h1m9 0h1m11 0h2m3 0h1m6 0h1M60 31.5h1m5 0h1m6 0h1m3 0h1m1 0h1m17 0h1M10 32.5h1m1 0h1m13 0h1m12 0h1m7 0h1m40 0h1M18 33.5h1M16 34.5h1m4 0h1m44 0h1m14 0h1m9 0h1m5 0h1M17 35.5h1m4 0h1m39 0h1m7 0h1m24 0h1M19 36.5h1m31 0h1m12 0h1m8 0h1m14 0h1m8 0h1M5 37.5h1m3 0h1m23 0h1m3 0h1m15 0h1m1 0h1m5 0h1m7 0h2m3 0h1m23 0h1M5 38.5h1m6 0h1m36 0h1m9 0h1m29 0h2m1 0h1M1 39.5h1m9 0h1m6 0h1m13 0h1m15 0h1m14 0h1m20 0h1m11 0h1M3 40.5h1m5 0h1m22 0h1m7 0h1m1 0h1m5 0h1m22 0h1m19 0h1M7 41.5h1m11 0h1m7 0h1m7 0h1m1 0h1m10 0h1m19 0h1m2 0h1m6 0h1m1 0h1m4 0h1m8 0h1M3 42.5h1m5 0h1m16 0h1m31 0h1m3 0h1m1 0h1m9 0h1m10 0h1M60 43.5h1m6 0h1M11 44.5h1m19 0h1m4 0h1m5 0h1m1 0h2m6 0h1m4 0h1m15 0h1m2 0h1m7 0h1m14 0h1M9 45.5h1m8 0h1m15 0h1m3 0h1m58 0h1M38 46.5h1m25 0h3m25 0h1m3 0h1M26 47.5h1m6 0h2m3 0h1m17 0h1m1 0h1m3 0h1m2 0h1m4 0h2m6 0h1M4 48.5h1m25 0h1m14 0h1m4 0h1m11 0h1m11 0h1m4 0h1m17 0h1M34 49.5h1m10 0h1m11 0h1m35 0h1m4 0h1M14 50.5h1m6 0h1m3 0h1m30 0h1m3 0h1m6 0h1m15 0h2m10 0h2M15 51.5h1m24 0h2M0 52.5h1m19 0h2m18 0h1m21 0h1m11 0h1m13 0h1M1 53.5h1m9 0h1m4 0h1m1 0h2m9 0h1m41 0h1M16 54.5h1m1 0h1m9 0h1m39 0h1m9 0h1M4 55.5h1m12 0h1m1 0h1m3 0h1m7 0h2m4 0h1m2 0h1m4 0h1m3 0h1m4 0h1m10 0h1m3 0h1m18 0h1M3 56.5h1m29 0h1m18 0h1m5 0h1m17 0h1m3 0h1m16 0h1M7 57.5h1m6 0h1m17 0h1m13 0h1m2 0h1m20 0h1m6 0h1m6 0h1m8 0h1m4 0h1M3 58.5h1m4 0h1m13 0h2m25 0h1m13 0h1m31 0h1M3 59.5h1m9 0h1m29 0h1m6 0h1m4 0h1m1 0h1m3 0h1M9 60.5h1m1 0h1m19 0h1m26 0h1m5 0h1m19 0h1m12 0h1M2 61.5h1m9 0h1m18 0h1m6 0h1m21 0h1m19 0h1M6 62.5h1m1 0h1m56 0h1m12 0h1m14 0h1M13 63.5h1m48 0h2m31 0h1m3 0h1M8 64.5h1m7 0h1m1 0h1m4 0h1m9 0h1m14 0h1m15 0h1m13 0h1m6 0h1m4 0h1m4 0h2m2 0h1M5 65.5h1m8 0h1m11 0h1m4 0h1m37 0h1m10 0h1m1 0h1M44 66.5h1m2 0h1m22 0h1m14 0h1m3 0h1M7 67.5h1m12 0h1m4 0h1m4 0h1m42 0h1m13 0h2M14 68.5h1m13 0h1m27 0h1m36 0h1M7 69.5h1m46 0h1m12 0h1m24 0h1m4 0h1M13 70.5h1m2 0h1m5 0h1m5 0h1m28 0h1m11 0h1m4 0h1m2 0h1m2 0h1m6 0h1M9 71.5h1m15 0h1m3 0h1m2 0h1m1 0h1m2 0h1m12 0h1m35 0h1M3 72.5h1m5 0h1m3 0h1m2 0h1m19 0h1m2 0h1m3 0h2m9 0h1m8 0h1m15 0h1m1 0h1M12 73.5h1m22 0h1m10 0h1m7 0h1m8 0h1m5 0h2m8 0h1m19 0h1M8 74.5h1m5 0h1m4 0h1m1 0h1m17 0h1m2 0h1m46 0h1m2 0h1M11 75.5h1m57 0h2M5 76.5h1m33 0h1m2 0h1m2 0h1m30 0h1M7 77.5h1m9 0h1m10 0h1m9 0h1m17 0h1m21 0h2m8 0h1m10 0h1M18 78.5h1m2 0h1m30 0h1m3 0h1m8 0h1m1 0h1m5 0h1m9 0h1m4 0h1m2 0h1m5 0h2M29 79.5h1m44 0h1m18 0h1M15 80.5h1m4 0h1m5 0h1m26 0h1m3 0h1m18 0h1m16 0h1M10 81.5h1m1 0h1m4 0h1m7 0h1m10 0h1m1 0h2m4 0h1m28 0h1m4 0h1m1 0h2m10 0h1m1 0h1M7 82.5h1m4 0h2m5 0h1m5 0h1m2 0h1m1 0h1m3 0h1m2 0h1m3 0h1m33 0h2M21 83.5h1m7 0h1m15 0h1m3 0h1m14 0h1m24 0h1M7 84.5h1m18 0h1m1 0h1m3 0h2m3 0h1m22 0h1m24 0h1m10 0h1M36 85.5h1m17 0h1m10 0h1m6 0h1M0 86.5h2m17 0h1m2 0h1m22 0h1m5 0h1m31 0h1m5 0h1m1 0h1M17 87.5h1m3 0h1m15 0h1M39 88.5h2m51 0h1m1 0h1M10 89.5h1m62 0h1m20 0h1M68 90.5h1M2 91.5h1m37 0h1m7 0h1m13 0h1m9 0h1m22 0h1m2 0h1M3 92.5h2m1 0h1m18 0h1m11 0h2m13 0h1m32 0h1m4 0h2M37 93.5h1m5 0h1m5 0h1m10 0h1m11 0h1m22 0h1M3 94.5h1m47 0h2m13 0h1m7 0h1m13 0h1m6 0h1M14 95.5h1m37 0h1m6 0h1m2 0h2M1 96.5h1m2 0h1m15 0h1m11 0h1m8 0h1m12 0h1m1 0h1m17 0h1m9 0h1m9 0h1M13 97.5h1m20 0h1m12 0h2m12 0h1m8 0h1m26 0h1M19 98.5h1m4 0h1m1 0h1m6 0h1m10 0h1m2 0h1m22 0h1m5 0h1m1 0h1M14 99.5h1m29 0h1m3 0h1m7 0h1m8 0h1m3 0h1m13 0h1"/>
<path stroke="#2dffd2" d="M6 0.5h1m4 0h2m33 0h1m11 0h1m2 0h1m18 0h1m13 0h1M1 1.5h1m40 0h1m5 0h1m6 0h1m6 0h1m2 0h2m17 0h1m2 0h1M8 2.5h1m3 0h1m35 0h1m15 0h1m6 0h1m3 0h1m16 0h1M41 3.5h1m8 0h1m6 0h1m31 0h1M15 4.5h1m1 0h1m14 0h1m9 0h1m7 0h1m8 0h1m3 0h1m22 0h1m4 0h1m4 0h1M1 5.5h1m12 0h1m22 0h1m28 0h2m10 0h1m1 0h1m13 0h1M2 6.5h1m3 0h2m36 0h1m35 0h1m2 0h1m12 0h2M9 7.5h1m21 0h1m1 0h1m3 0h1m6 0h1m11 0h1m1 0h1m14 0h1m16 0h1M16 8.5h1m2 0h1m11 0h1m9 0h1m4 0h1m42 0h1M2 9.5h1m6 0h1m8 0h1m7 0h1m11 0h1m30 0h1m14 0h1M0 10.5h1m9 0h1m25 0h1m7 0h1m6 0h2m3 0h1m7 0h1m11 0h1m3 0h1m11 0h1m5 0h1M12 11.5h1m10 0h1m12 0h1m20 0h1m23 0h1m5 0h1m4 0h1M5 12.5h1m5 0h1m12 0h1m9 0h1m14 0h1m33 0h1M9 13.5h1m10 0h1m4 0h1m11 0h1m21 0h1m9 0h1m6 0h1m22 0h1M16 14.5h1m11 0h1m7 0h1m5 0h1m1 0h1m14 0h1m19 0h1m7 0h1m1 0h1m5 0h1M9 15.5h1m3 0h1m21 0h1m16 0h1m1 0h1m24 0h1m10 0h1M0 16.5h1m7 0h1m37 0h1m6 0h1m9 0h1m4 0h1m7 0h1M6 17.5h1m10 0h2m3 0h1m49 0h1m3 0h1m9 0h1m5 0h1M6 18.5h1m12 0h2m4 0h1m7 0h1m5 0h1m17 0h2m22 0h1m2 0h1m1 0h1m1 0h1m9 0h1M3 19.5h1m9 0h1m14 0h1m2 0h1m5 0h1m27 0h1m3 0h1M14 20.5h1m20 0h1m10 0h1m5 0h1m2 0h2m3 0h1m16 0h1m5 0h1m12 0h1M12 21.5h1m18 0h1m18 0h1m3 0h1m11 0h1m3 0h1M1 22.5h1m5 0h1m3 0h2m1 0h1m1 0h1m1 0h1m1 0h1m2 0h1m14 0h1m11 0h1m3 0h1m8 0h1m5 0h1m2 0h3M36 23.5h1m11 0h1m5 0h1m14 0h1m22 0h1M22 24.5h1m1 0h1m17 0h1m21 0h1m15 0h1m5 0h1m3 0h1M20 25.5h1m4 0h1m6 0h1m6 0h2m51 0h1M14 26.5h1m12 0h1m27 0h1m1 0h1m3 0h1m29 0h1M4 27.5h1m11 0h1m4 0h1m9 0h1m6 0h1m33 0h1m5 0h1m15 0h1M4 28.5h1m33 0h1m12 0h1m11 0h1m4 0h1m4 0h2m7 0h2m2 0h1M2 29.5h1m16 0h1m4 0h1m10 0h1m5 0h1M2 30.5h2m16 0h1m2 0h2m16 0h1m23 0h2m24 0h1M0 31.5h1m1 0h1m2 0h1m8 0h1m3 0h1m15 0h1m40 0h1m17 0h1M6 32.5h1m25 0h1m12 0h1m2 0h1m15 0h1m14 0h1m15 0h1m1 0h1M26 33.5h1m8 0h1m30 0h1m8 0h1m3 0h1m4 0h1M1 34.5h1m1 0h1m1 0h1m4 0h1m15 0h1m17 0h1m10 0h1m17 0h1m8 0h1m6 0h1m3 0h1M7 35.5h1m17 0h1m16 0h1m18 0h1m12 0h2m10 0h1M22 36.5h1m7 0h2m4 0h1m32 0h1m11 0h1m1 0h1m5 0h1M0 37.5h1m76 0h1m1 0h1m8 0h1M43 38.5h1m1 0h2m10 0h1m21 0h1M10 39.5h1m25 0h1m2 0h2m11 0h1m27 0h1M0 40.5h1m1 0h1m10 0h1m33 0h1m1 0h1m12 0h1m5 0h1m8 0h1m2 0h1m2 0h1m4 0h1m10 0h1M21 41.5h1m6 0h2m22 0h1m4 0h1m8 0h1m14 0h1m17 0h1M6 42.5h1m56 0h1m34 0h1M50 43.5h1m17 0h1M3 44.5h2m2 0h1m10 0h1m6 0h1m4 0h1m20 0h1M13 45.5h1m14 0h1m4 0h1m2 0h1m3 0h1m2 0h1m21 0h1m1 0h1m22 0h1m3 0h1m1 0h1m2 0h1M11 46.5h1m11 0h1m11 0h2m5 0h1m5 0h1m42 0h1m6 0h1M5 47.5h1m19 0h1m19 0h1m50 0h1M11 48.5h1m4 0h1m16 0h1m12 0h3m3 0h1m28 0h2m12 0h1M29 49.5h2m5 0h1m26 0h1m8 0h1M0 50.5h2m20 0h1m14 0h1m9 0h1m17 0h1m4 0h2m8 0h1M16 51.5h2m30 0h1m3 0h1m1 0h1m1 0h1m2 0h1m2 0h2m7 0h1m10 0h1m1 0h1M2 52.5h1m7 0h1m1 0h1m1 0h1m3 0h1m7 0h1m3 0h1m2 0h1m7 0h1m15 0h1m1 0h3m19 0h1m2 0h1m5 0h1m7 0h1M0 53.5h1m24 0h2m12 0h1m2 0h1m26 0h1m19 0h1m2 0h1m1 0h1M51 54.5h1m11 0h1m5 0h1m14 0h1m14 0h1M48 55.5h1m8 0h1m24 0h1m1 0h1m6 0h1m2 0h1M2 56.5h1m3 0h1m5 0h1m1 0h1m13 0h1m8 0h2m10 0h1m1 0h1m32 0h1M23 57.5h1m4 0h2m9 0h1m20 0h1m11 0h1m3 0h1m10 0h1m1 0h2M25 58.5h1m1 0h1m6 0h1m16 0h1m1 0h1m12 0h1m23 0h1M12 59.5h1m7 0h1m57 0h2m13 0h1m5 0h1M6 60.5h1m23 0h1m11 0h1m19 0h1m7 0h1m8 0h1m15 0h1M17 61.5h1m11 0h1m13 0h1m11 0h1m5 0h1m8 0h1m7 0h2m11 0h2m5 0h1M15 62.5h1m2 0h1m22 0h1m25 0h1m3 0h1m9 0h1m9 0h1M5 63.5h1m17 0h1m27 0h1m2 0h1m5 0h1m10 0h1m1 0h1M31 64.5h1m2 0h1m7 0h1m6 0h1m6 0h1m9 0h2m12 0h1m5 0h1m4 0h1m2 0h1M32 65.5h1m6 0h1m4 0h1m11 0h1m20 0h1m8 0h1m2 0h1M2 66.5h1m22 0h1m7 0h1m4 0h1m2 0h1m33 0h1m6 0h1m5 0h1m7 0h1M2 67.5h1m7 0h1m4 0h1m2 0h2m1 0h1m4 0h1m2 0h1m1 0h1m14 0h1m9 0h1m18 0h1M0 68.5h2m11 0h1m10 0h1m1 0h1m11 0h1m1 0h1m6 0h1m6 0h1m7 0h1m16 0h2M0 69.5h1m9 0h1m1 0h1m19 0h1m1 0h1m13 0h2m12 0h1m8 0h1m1 0h1m3 0h1m3 0h1m6 0h1m6 0h1M10 70.5h1m1 0h1m8 0h1m1 0h1m3 0h1m11 0h1m4 0h2m24 0h1m7 0h1M17 71.5h1m5 0h1m36 0h1m11 0h1M8 72.5h1m2 0h1m3 0h1m26 0h1m17 0h1m13 0h1m19 0h1M8 73.5h1m17 0h1m6 0h1m9 0h1m7 0h1m9 0h1m15 0h1m9 0h1m1 0h1m4 0h1m2 0h1M16 74.5h1m10 0h1m5 0h1m4 0h1m14 0h1m15 0h1m1 0h1m1 0h1M4 75.5h1m9 0h1m4 0h1m4 0h1m3 0h1m21 0h1m10 0h1m23 0h1m8 0h3M11 76.5h1m15 0h1m18 0h1m6 0h1m9 0h1m22 0h1m3 0h1M6 77.5h1m28 0h1m16 0h1m22 0h1m17 0h1M3 78.5h1m23 0h1m3 0h1m7 0h1m5 0h1m7 0h1m9 0h1m32 0h1M9 79.5h1m6 0h1m5 0h1m2 0h1m6 0h1m7 0h1m10 0h1m8 0h1m3 0h2m1 0h1m2 0h1m2 0h1m15 0h1m9 0h1M9 80.5h1m3 0h1m16 0h1m3 0h1m2 0h1m2 0h1m6 0h1m21 0h1m8 0h1m1 0h1m3 0h1m7 0h1m1 0h1M13 81.5h2m5 0h2m49 0h1m4 0h1m2 0h1m11 0h1M8 82.5h1m20 0h1m27 0h1m16 0h1m9 0h1m1 0h1m8 0h1M32 83.5h2m7 0h1m38 0h1m14 0h1m1 0h2M34 84.5h2m14 0h1m18 0h1m21 0h2M0 85.5h1m3 0h1m4 0h1m10 0h1m7 0h1m1 0h1m7 0h1m8 0h1m43 0h1m5 0h1M20 86.5h1m3 0h1m21 0h1m21 0h1m6 0h1M1 87.5h1m5 0h1m14 0h1m4 0h1m5 0h1m30 0h1m8 0h1m15 0h1m3 0h1M34 88.5h1m29 0h1m1 0h1m16 0h1m9 0h1M77 89.5h1M23 90.5h1m17 0h1m39 0h1M37 91.5h1m4 0h1m7 0h1M17 92.5h1m33 0h1m7 0h1m11 0h1m11 0h1m4 0h1m4 0h1m5 0h1M4 93.5h1m20 0h1m13 0h1m5 0h1m5 0h1m5 0h1m4 0h1m14 0h1m2 0h1m7 0h1M0 94.5h1m13 0h1m2 0h1m1 0h1m8 0h1m9 0h1m11 0h1m43 0h1M6 95.5h1m22 0h1m7 0h1m2 0h1m6 0h1m16 0h1m23 0h1m8 0h1M13 96.5h1m26 0h1m1 0h1m8 0h1m10 0h1m15 0h1m10 0h1m1 0h1M5 97.5h1m2 0h1m13 0h1m6 0h1m10 0h1m27 0h1m8 0h1m9 0h1m1 0h1m2 0h2m2 0h1M0 98.5h1m4 0h2m15 0h1m16 0h3m9 0h1m16 0h1m8 0h1m3 0h1m1 0h1m2 0h1m1 0h1m6 0h1M2 99.5h1m8 0h2m19 0h1m4 0h1m4 0h1m11 0h1m32 0h1m1 0h1m7 0h1"/>
<path stroke="#4effb1" d="M15 0.5h1m20 0h1m25 0h2m7 0h1m2 0h1m8 0h1m1 0h1M15 1.5h1m5 0h2m7 0h1m6 0h1m21 0h1m32 0h1M50 2.5h1m9 0h1M7 3.5h1m3 0h1m22 0h1m10 0h1m24 0h2m2 0h1m2 0h1m2 0h1M5 4.5h1m20 0h1m52 0h1M19 5.5h1m11 0h1m9 0h1m8 0h1m13 0h1m7 0h1m9 0h2M17 6.5h1m8 0h1m2 0h1m18 0h1m1 0h1m8 0h1m11 0h1m10 0h1m11 0h1m3 0h1M4 7.5h1m10 0h1m10 0h1m40 0h1m1 0h2M4 8.5h1m2 0h1m10 0h1m6 0h1m21 0h2m22 0h1m21 0h1m4 0h2M17 9.5h1m14 0h1m45 0h1m12 0h2m1 0h1M12 10.5h1m1 0h1m11 0h1m8 0h1m25 0h1m7 0h1m13 0h1M25 11.5h1m13 0h1m5 0h1m23 0h1m2 0h1m7 0h1m7 0h2M8 12.5h1m5 0h1m4 0h1m13 0h1m14 0h1m1 0h1m6 0h1m2 0h1m9 0h1m1 0h1M2 13.5h1m27 0h1m10 0h1m39 0h1m10 0h1m3 0h1M35 14.5h1m21 0h1m6 0h1m12 0h2m4 0h1m10 0h1M7 15.5h1m2 0h1m7 0h2m11 0h1m6 0h1m5 0h1m4 0h1m5 0h1m5 0h2m19 0h1m2 0h1m11 0h1M5 16.5h2m2 0h1m23 0h1m7 0h1m7 0h1m29 0h1m9 0h1M13 17.5h1m15 0h1m20 0h1m30 0h1m12 0h1M3 18.5h1m4 0h1m9 0h1m16 0h1m5 0h1m6 0h1m1 0h1m4 0h1m8 0h1m3 0h1m2 0h1m5 0h1m15 0h1M21 19.5h2m15 0h1m3 0h1m1 0h1m3 0h1m28 0h1M9 20.5h1m18 0h1m8 0h1m13 0h1m7 0h1m18 0h1m1 0h2m7 0h1m8 0h1M2 21.5h1m30 0h1m14 0h1m2 0h1m13 0h1m12 0h1m12 0h1m4 0h1m1 0h2M5 22.5h1m4 0h1m25 0h1m3 0h1m4 0h2m33 0h1M11 23.5h1m9 0h1m9 0h1m23 0h1m6 0h1m32 0h1M48 24.5h1m13 0h1m14 0h1M2 25.5h1m16 0h1m47 0h1m4 0h1m8 0h1m16 0h1M15 26.5h1m12 0h2m9 0h1m1 0h1m18 0h1m31 0h1m1 0h1M0 27.5h1m22 0h1m17 0h1m4 0h1m20 0h2m12 0h1m5 0h1m5 0h1M25 28.5h1m3 0h1m6 0h1m6 0h1m1 0h1m6 0h1m19 0h1m2 0h1m18 0h1m4 0h1M6 29.5h1m8 0h1m33 0h1m1 0h1m2 0h1m1 0h1m22 0h1m7 0h1M5 30.5h1m1 0h1m7 0h1m2 0h1m8 0h1m24 0h2m2 0h1m7 0h1m3 0h1M19 31.5h2m5 0h1m32 0h1m2 0h1M0 32.5h1m8 0h1m5 0h1m20 0h1m3 0h1m8 0h1m40 0h1M19 33.5h1m11 0h1m13 0h1m10 0h1m14 0h1m4 0h2m12 0h1m8 0h1M52 34.5h1m9 0h2m31 0h1M14 35.5h1m1 0h1m1 0h1m8 0h1m1 0h1m2 0h2m2 0h1m12 0h1m13 0h1m2 0h2m1 0h1m13 0h1m5 0h1M9 36.5h2m21 0h1m5 0h2m4 0h1m2 0h1m11 0h1m14 0h4m13 0h1M26 37.5h1m15 0h1m13 0h1m8 0h1m1 0h1m7 0h2M17 38.5h1m3 0h1m1 0h1m5 0h1m4 0h1m30 0h2m3 0h1m9 0h2m4 0h1M50 39.5h1m5 0h1m12 0h1m1 0h1m6 0h1m16 0h1M4 40.5h1m5 0h1m14 0h1m24 0h1m6 0h1m1 0h1m9 0h1m22 0h1M12 41.5h1m3 0h1m6 0h1m10 0h1m16 0h1m23 0h1m16 0h1M25 42.5h1m17 0h1m3 0h1m2 0h2m3 0h2m19 0h1m1 0h1m10 0h1M12 43.5h1m17 0h1m8 0h1m8 0h1m12 0h1M1 44.5h1m11 0h1m23 0h1m1 0h1m18 0h1m10 0h1M0 45.5h1m3 0h1m6 0h2m13 0h1m4 0h1m5 0h1m6 0h1m10 0h1m7 0h1M10 46.5h1m18 0h1m69 0h1M14 47.5h1m3 0h2m3 0h1m8 0h1m17 0h1m2 0h1m10 0h1m4 0h1M13 48.5h1m9 0h1m10 0h1m28 0h1m6 0h1m1 0h2m3 0h1m10 0h1M3 49.5h1m11 0h2m1 0h1m16 0h1m11 0h1m11 0h1m21 0h1M10 50.5h1m4 0h1m18 0h1m1 0h1m5 0h1m31 0h1m16 0h1m7 0h1M14 51.5h1m13 0h1m15 0h1m1 0h1m11 0h1m19 0h1M29 52.5h1m6 0h2m13 0h1m6 0h1m7 0h1m9 0h1m5 0h1m11 0h1M8 53.5h2m2 0h1m42 0h1m1 0h1m2 0h1m15 0h1m1 0h1m18 0h1M6 54.5h1m4 0h1m12 0h1m7 0h1m1 0h1m2 0h1m7 0h2m15 0h1m8 0h1m2 0h1m15 0h1m2 0h1M10 55.5h1m24 0h1m16 0h1m13 0h1m13 0h1m11 0h1M8 56.5h1m17 0h1m28 0h1m4 0h1m5 0h1m25 0h1M10 57.5h1m7 0h1m3 0h1m13 0h1m14 0h1m21 0h1m5 0h1m19 0h1M0 58.5h1m5 0h1m5 0h1m3 0h1m3 0h1m5 0h1m8 0h1m9 0h1m1 0h1m30 0h2m5 0h1m7 0h1M2 59.5h1m13 0h1m2 0h1m18 0h1m21 0h1m24 0h2M8 60.5h1m4 0h1m7 0h1m30 0h1m12 0h1m10 0h1M3 61.5h1m1 0h1m27 0h1m11 0h1m3 0h1m2 0h1m22 0h1M4 62.5h1m44 0h2m2 0h1m6 0h1m18 0h1M4 63.5h1m3 0h1m1 0h1m7 0h1m3 0h1m32 0h1m32 0h1m3 0h1M2 64.5h1m37 0h1m19 0h2m6 0h1m5 0h2m11 0h1M8 65.5h1m7 0h1m5 0h1m5 0h1m29 0h1m13 0h1m3 0h1m2 0h1m15 0h1M12 66.5h1m2 0h1m3 0h1m10 0h1m5 0h1m2 0h1m12 0h1m19 0h1m7 0h1m5 0h1M0 67.5h1m8 0h1m49 0h1m19 0h1m12 0h1M3 68.5h1m3 0h1m4 0h1m16 0h2m43 0h1m14 0h1M27 69.5h2m30 0h1m1 0h1M1 70.5h1m32 0h2m15 0h1m10 0h1m3 0h1m31 0h1M42 71.5h1m1 0h2m24 0h1m8 0h1m4 0h1M35 72.5h1m19 0h1m3 0h1m38 0h1M4 73.5h1m1 0h1m8 0h1m4 0h1m8 0h1m22 0h1M5 74.5h1m4 0h1m17 0h1m36 0h1m9 0h1m18 0h1M0 75.5h1m20 0h2m21 0h2m2 0h1m29 0h2m2 0h1M1 76.5h1m41 0h1m6 0h1m6 0h1m1 0h1m1 0h1m3 0h1m8 0h1m5 0h1m1 0h1M1 77.5h1m8 0h1m11 0h1m3 0h1m10 0h1m1 0h1m4 0h1m2 0h1m1 0h1m7 0h1m6 0h1m1 0h1m5 0h1m13 0h1M1 78.5h1m2 0h1m6 0h1m10 0h1m5 0h1m12 0h1m6 0h1m6 0h1m5 0h2m3 0h1m9 0h1M4 79.5h1m3 0h1m19 0h1m26 0h1m1 0h1m8 0h1m12 0h1M6 80.5h1m4 0h1m48 0h1m7 0h1m1 0h2m5 0h1m3 0h1m3 0h1m2 0h1M0 81.5h1m4 0h1m36 0h1m26 0h1m16 0h1m9 0h1M10 82.5h1m5 0h1m10 0h1m8 0h1m1 0h1m38 0h1M3 83.5h1m2 0h1m31 0h1m44 0h1m4 0h1m2 0h1M16 84.5h1m14 0h1m12 0h1m12 0h1M3 85.5h1m31 0h1m6 0h1m5 0h1m2 0h1m8 0h1m10 0h1m9 0h1M11 86.5h1m24 0h1m3 0h1m22 0h1m1 0h1m11 0h1m3 0h1m2 0h1m10 0h1M10 87.5h1m8 0h2m32 0h1m7 0h1M9 88.5h1m25 0h1m21 0h1m3 0h1m12 0h1m6 0h2m8 0h1M7 89.5h1m16 0h2m6 0h1m10 0h2m10 0h1m6 0h1m2 0h1m4 0h1m4 0h1m3 0h1m9 0h1M10 90.5h1m20 0h1m11 0h1m1 0h2m5 0h1m1 0h1m9 0h1m2 0h1m4 0h2m24 0h1M0 91.5h1m10 0h1m17 0h1m27 0h1m18 0h1M29 92.5h1m4 0h1m4 0h1m15 0h1m2 0h1m6 0h1m29 0h1M6 93.5h1m14 0h1m4 0h1m3 0h1m16 0h1m43 0h2M18 94.5h1m10 0h1m13 0h1m11 0h1m9 0h1m15 0h1m9 0h1M13 95.5h1m3 0h1m24 0h1m6 0h1m4 0h1m39 0h1M5 96.5h2m1 0h1m18 0h1m9 0h1m6 0h1m2 0h1m21 0h2m17 0h1M2 97.5h1m12 0h1m2 0h1m1 0h1m3 0h1m6 0h1m1 0h1m2 0h1m6 0h1m5 0h1m7 0h1m11 0h1m3 0h1m2 0h1m1 0h1m1 0h1m3 0h1m5 0h1M27 98.5h1m7 0h1m12 0h1m13 0h1m4 0h1m6 0h1M0 99.5h1m15 0h1m14 0h1m1 0h1m5 0h1m38 0h1m17 0h1"/>
<path stroke="#6fff90" d="M0 0.5h1m17 0h1m2 0h1m9 0h1m2 0h1m17 0h1m1 0h1m14 0h1m17 0h1m4 0h1m2 0h1M19 1.5h1m21 0h1m12 0h1m14 0h1m7 0h1m5 0h1m12 0h1M10 2.5h2m25 0h1m4 0h2m28 0h1m21 0h1M21 3.5h1m2 0h1m3 0h1m8 0h1m1 0h1m20 0h1m1 0h1m12 0h1M8 4.5h1m5 0h1m6 0h1m9 0h1m39 0h1m8 0h2M0 5.5h1m29 0h1m12 0h1m3 0h1m5 0h1m1 0h1m20 0h1M3 6.5h1m7 0h1m11 0h1m13 0h1m8 0h1m2 0h1m5 0h1m1 0h1m10 0h1m16 0h1m6 0h1m6 0h1M16 7.5h1m1 0h1m11 0h1m14 0h1m2 0h1m17 0h1M1 8.5h1m3 0h1m6 0h1m7 0h1m1 0h2m35 0h1m16 0h1m6 0h1m2 0h1m7 0h2M23 9.5h1m20 0h1m5 0h1m10 0h1m8 0h1M11 10.5h1m1 0h1m28 0h1m4 0h1m5 0h1m1 0h1m4 0h1m7 0h1m17 0h2M9 11.5h1m3 0h1m6 0h1m3 0h1m7 0h1m5 0h1m11 0h1m7 0h3m30 0h1m5 0h1M7 12.5h1m10 0h1m19 0h2m27 0h1m26 0h1M8 13.5h1m10 0h1m20 0h1m5 0h1m7 0h1m12 0h1m17 0h3m1 0h1M7 14.5h1m7 0h1m10 0h1m16 0h1m16 0h2m1 0h1m16 0h1m11 0h1m4 0h1m1 0h1M36 15.5h1m32 0h1m3 0h1m22 0h1M1 16.5h1m23 0h1m16 0h1m2 0h1m10 0h1m7 0h1m21 0h2m11 0h1M0 17.5h1m3 0h1m15 0h1m3 0h1m1 0h1m5 0h1m9 0h1m13 0h1m1 0h1m4 0h1m6 0h1m16 0h1M34 18.5h1m11 0h2m6 0h1m8 0h1m9 0h1m23 0h1M1 19.5h1m12 0h1m2 0h1m2 0h1m8 0h1m11 0h1m5 0h1m6 0h1m4 0h1m20 0h1m2 0h1m4 0h1m3 0h2m2 0h1M2 20.5h1m38 0h1m8 0h1m21 0h1m13 0h1m5 0h1m4 0h1M14 21.5h1m3 0h1m62 0h2m5 0h1M25 22.5h1m52 0h1m3 0h1m6 0h3m4 0h1M20 23.5h1m6 0h1m2 0h1m29 0h1m5 0h1m3 0h1m26 0h1M6 24.5h1m3 0h1m9 0h1m2 0h1m2 0h1m1 0h1m1 0h1m2 0h1m6 0h1m5 0h1m6 0h1m28 0h1m5 0h2M27 25.5h1m21 0h1m2 0h1m10 0h1m15 0h1m6 0h1M32 26.5h1m29 0h1m3 0h1m7 0h1m10 0h1M1 27.5h1m11 0h2m13 0h2m15 0h1m6 0h1m1 0h1m42 0h1M7 28.5h1m13 0h1m1 0h1m2 0h1m5 0h1m9 0h1m4 0h1m7 0h1m15 0h1m13 0h1m4 0h1M43 29.5h1m44 0h1m9 0h1M12 30.5h2m8 0h1m2 0h2m2 0h1m2 0h1m5 0h1m7 0h1m1 0h1m9 0h1m40 0h1M4 31.5h1m1 0h1m2 0h1m5 0h1m6 0h1m31 0h1m3 0h1m9 0h2m19 0h1M17 32.5h1m5 0h2m5 0h1m3 0h1m7 0h1m10 0h1m6 0h1m2 0h1m11 0h1M2 33.5h2m5 0h1m27 0h1m6 0h1m29 0h1m18 0h1M9 34.5h1m2 0h1m4 0h1m4 0h1m11 0h1m3 0h1m9 0h1m2 0h1m12 0h1m6 0h1m18 0h1M6 35.5h1m3 0h1m27 0h1m1 0h1m18 0h1m12 0h1m8 0h1m8 0h1M4 36.5h1m2 0h1m13 0h1m30 0h1m3 0h1m13 0h1m16 0h1m5 0h1M7 37.5h1m13 0h1m17 0h1m1 0h1m8 0h1m1 0h1M11 38.5h1m8 0h1m29 0h1m7 0h1m17 0h1m7 0h1m2 0h1m8 0h1M22 39.5h1m5 0h1m6 0h1m5 0h1m1 0h1m13 0h1m15 0h1m7 0h2m7 0h1m8 0h1M28 40.5h1m12 0h1m10 0h1m1 0h1m6 0h1M30 41.5h1m31 0h1m9 0h1m4 0h1M12 42.5h1m10 0h1m8 0h2m1 0h1m2 0h1m5 0h1m7 0h3m4 0h2m7 0h1m12 0h1m14 0h1M3 43.5h1m6 0h1m41 0h1m4 0h1m7 0h1m7 0h1m8 0h1m11 0h1M20 44.5h1m7 0h1m18 0h3m9 0h1m7 0h1M6 45.5h1m25 0h1m8 0h1m7 0h1m22 0h1m8 0h1m1 0h1m1 0h1M24 46.5h1m6 0h1m5 0h1m3 0h1m10 0h1m5 0h1m9 0h1m8 0h1M20 47.5h2m30 0h1m24 0h1m7 0h1m7 0h1M25 48.5h2m4 0h2m4 0h2m22 0h1m22 0h1M13 49.5h1m13 0h2m10 0h1m11 0h2m1 0h1m23 0h1m1 0h1m13 0h1M2 50.5h1m6 0h1m19 0h1m3 0h1m9 0h1m2 0h1m2 0h1m1 0h1m10 0h1m1 0h1m13 0h1m8 0h1m1 0h1M3 51.5h1m23 0h1m1 0h1m13 0h1m7 0h1m17 0h1m7 0h1M4 52.5h1m18 0h1m1 0h1m9 0h1m7 0h1m8 0h1m20 0h1M3 53.5h1m16 0h1m13 0h1m1 0h1m25 0h1m7 0h1m4 0h1M7 54.5h1m9 0h1m9 0h1m39 0h1m9 0h1m2 0h1m1 0h1M9 55.5h1m1 0h1m13 0h1m8 0h1m1 0h1m6 0h1m35 0h1m1 0h1m13 0h1m2 0h1M15 56.5h2m5 0h1m2 0h1m27 0h1m3 0h1m15 0h1M2 57.5h1m10 0h1m3 0h1m9 0h1m24 0h2m17 0h1m3 0h1m12 0h1m8 0h1M17 58.5h1m12 0h1m9 0h1m3 0h1m7 0h1m1 0h1m9 0h1m5 0h1m1 0h1m1 0h1m1 0h1m11 0h2m8 0h2M9 59.5h1m4 0h1m13 0h1m5 0h1m1 0h1m15 0h1m1 0h1m7 0h2m5 0h1m6 0h1m7 0h1m2 0h1M24 60.5h1m8 0h1m5 0h1m21 0h1m12 0h1m6 0h1m4 0h1M0 61.5h1m8 0h2m13 0h1m9 0h1m9 0h1m29 0h1m7 0h1M34 62.5h1m2 0h1m1 0h1m14 0h1m14 0h1m2 0h1m2 0h1m13 0h1m2 0h1M9 63.5h1m4 0h1m9 0h1m13 0h1m3 0h1m3 0h2m2 0h1m6 0h1m7 0h1m19 0h1m1 0h1m9 0h1M11 64.5h1m3 0h1m6 0h1m9 0h1m4 0h1m9 0h1m3 0h1m10 0h1m21 0h1M1 65.5h1m8 0h2m9 0h1m26 0h1m2 0h1m7 0h1m1 0h1m1 0h1m7 0h1m20 0h1m5 0h1M10 66.5h1m10 0h1m9 0h2m15 0h1m10 0h1m1 0h1m2 0h1m6 0h1m25 0h2M14 67.5h1m2 0h1m23 0h1m2 0h1m16 0h1m6 0h1m8 0h1m18 0h1M10 68.5h1m41 0h1m13 0h2m1 0h1m1 0h1m4 0h1m17 0h1M17 69.5h1m5 0h1m7 0h1m10 0h1m1 0h1m19 0h3m13 0h1m13 0h1m1 0h1M6 70.5h1m11 0h1m18 0h1m9 0h1m5 0h1m6 0h1m4 0h1m15 0h1m13 0h1M1 71.5h1m3 0h3m6 0h1m3 0h1m3 0h1m7 0h2m3 0h1m11 0h1m17 0h1m9 0h1m7 0h1m6 0h1M17 72.5h1m11 0h1m1 0h1m2 0h1m3 0h1m13 0h1m29 0h1m3 0h1M2 73.5h1m16 0h1m37 0h1m13 0h1m12 0h1M2 74.5h2m3 0h1m4 0h1m7 0h1m20 0h1m2 0h1m15 0h1m3 0h1m1 0h1m28 0h1M10 75.5h1m75 0h1M15 76.5h1m7 0h1m1 0h1m6 0h1m7 0h1m3 0h1m2 0h1m44 0h1M2 77.5h1m11 0h1m3 0h2m13 0h1m26 0h1m8 0h1m24 0h1M37 78.5h1m5 0h1m3 0h1m11 0h1m18 0h1m5 0h2m3 0h1M3 79.5h1m13 0h1m1 0h2m6 0h1m2 0h1m15 0h1m21 0h1m8 0h1M23 80.5h1m3 0h1m16 0h1m1 0h1m3 0h1m3 0h1M15 81.5h1m25 0h1m26 0h1m5 0h1m12 0h1m9 0h1M22 82.5h1m33 0h1m24 0h1m7 0h1m4 0h1M20 83.5h1m1 0h1m13 0h1m2 0h1m2 0h1m1 0h1m2 0h1m5 0h2m2 0h3m6 0h1m5 0h1m5 0h1m15 0h1M6 84.5h1m15 0h1m16 0h2m17 0h1m5 0h1m1 0h2m11 0h1M6 85.5h1m17 0h1m31 0h1m21 0h1m6 0h1m9 0h1M23 86.5h1m9 0h2m4 0h1m3 0h1m20 0h1m4 0h1m12 0h1M11 87.5h1m2 0h2m8 0h1m22 0h1m3 0h1m16 0h2m14 0h1m2 0h2m10 0h1M6 88.5h1m13 0h1m10 0h1m10 0h1m4 0h1m3 0h1m3 0h1m15 0h1m4 0h1M13 89.5h1m13 0h1m10 0h1m6 0h1m14 0h1m6 0h1m12 0h2m16 0h1M28 90.5h2m4 0h1m60 0h1M6 91.5h1m3 0h1m10 0h1m9 0h1m14 0h1m8 0h1m24 0h1m5 0h1m5 0h1m6 0h1M1 92.5h1m14 0h1m4 0h1m22 0h2m20 0h1m3 0h1m8 0h1m2 0h1M10 93.5h1m22 0h1m6 0h1m18 0h1m5 0h1m7 0h2m24 0h1M2 94.5h1m33 0h1m7 0h1m19 0h1m24 0h1m2 0h1m3 0h2M0 95.5h1m34 0h2m13 0h1m10 0h1m6 0h1m3 0h1m11 0h1m11 0h1M10 96.5h1m1 0h1m8 0h1m16 0h1m26 0h1m5 0h1m20 0h1M11 97.5h1m7 0h1m5 0h1m36 0h1M13 98.5h1m42 0h1m7 0h1M5 99.5h1m19 0h1m2 0h1m5 0h1m1 0h1m3 0h1m27 0h1m4 0h1m3 0h1m7 0h1m9 0h1m3 0h1"/>
<path stroke="#90ff6f" d="M8 0.5h1m13 0h2m11 0h1m4 0h1m16 0h1m20 0h2M2 1.5h1m3 0h1m5 0h1m30 0h1m7 0h1m4 0h1m14 0h2m17 0h1M5 2.5h1m8 0h2m74 0h1m4 0h1M10 3.5h1m1 0h1m9 0h1m12 0h1m15 0h1m6 0h1m5 0h1m22 0h2m4 0h1M2 4.5h1m1 0h1m4 0h1m10 0h1m6 0h1m34 0h1m1 0h1m11 0h1m8 0h1M22 5.5h2m10 0h1m3 0h1m12 0h1m5 0h1m27 0h1M14 6.5h2m2 0h3m30 0h1m26 0h1M7 7.5h1m5 0h1m6 0h1m1 0h1m16 0h1m20 0h1m35 0h1M2 8.5h1m10 0h1m1 0h1m1 0h1m15 0h1m4 0h1m4 0h2m6 0h1m4 0h1m4 0h1m13 0h1m5 0h1m15 0h1M3 9.5h1m3 0h1m5 0h1m16 0h1m8 0h1m3 0h1m1 0h1m5 0h1m20 0h1m6 0h1M4 10.5h1m19 0h1m6 0h1m18 0h1m16 0h1m9 0h1m7 0h1m8 0h1M14 11.5h1m12 0h1m2 0h1m20 0h1m33 0h1M15 12.5h1m29 0h1m5 0h1m34 0h1M48 13.5h1m11 0h1m21 0h1M1 14.5h1m1 0h1m16 0h1m11 0h1m13 0h1m5 0h1m18 0h1M1 15.5h1m1 0h1m11 0h1m1 0h1m12 0h1m19 0h2m4 0h1m7 0h1m1 0h1m31 0h1M10 16.5h2m9 0h1m1 0h1m23 0h1m11 0h1m11 0h1m5 0h2M14 17.5h1m4 0h1m17 0h1m7 0h1m7 0h1m29 0h1m1 0h1m2 0h1m1 0h1M14 18.5h1m2 0h1m31 0h1m37 0h1M7 19.5h1m11 0h1m4 0h1m15 0h1m5 0h1m6 0h1M17 20.5h1m1 0h1m7 0h1m8 0h1m2 0h1m27 0h1m17 0h1M19 21.5h1m10 0h1m32 0h1m8 0h1m3 0h1m9 0h1M6 22.5h1m8 0h1m12 0h1m4 0h1m22 0h1m13 0h1m14 0h2m8 0h1M26 23.5h1m6 0h1m11 0h1m28 0h1m13 0h1M18 24.5h1m20 0h1m14 0h1m4 0h1m3 0h1m8 0h2m4 0h2m16 0h2M8 25.5h1m2 0h1M1 26.5h1m1 0h1m6 0h1m11 0h1m12 0h2m1 0h1m6 0h1m18 0h1m5 0h1m11 0h1m14 0h1m1 0h1M2 27.5h1m31 0h1m20 0h1m20 0h1m3 0h1m15 0h1M14 28.5h1m44 0h1m1 0h1m3 0h1m12 0h1m2 0h1m9 0h1M5 29.5h1m4 0h1m1 0h2m2 0h1m3 0h1m1 0h1m2 0h1m36 0h1m1 0h1m10 0h1m7 0h1m6 0h1m3 0h1M17 30.5h1M11 31.5h1m5 0h1m23 0h1m5 0h1m1 0h1m1 0h1m5 0h1m14 0h1M2 32.5h1m10 0h1m38 0h1m15 0h1m14 0h2m2 0h1m10 0h1M16 33.5h2m24 0h1m22 0h1m4 0h1m24 0h1M0 34.5h1m1 0h1m36 0h1m7 0h1m2 0h1m5 0h1M8 35.5h1m26 0h1m58 0h1M8 36.5h1m28 0h1m10 0h1m4 0h1m1 0h1m1 0h1m9 0h1m4 0h1m13 0h1m3 0h1m5 0h1M8 37.5h1m19 0h1m15 0h2m16 0h2m7 0h1m12 0h2m1 0h1m11 0h1M3 38.5h1m23 0h2m1 0h1m13 0h1m26 0h1M6 39.5h1m53 0h1M21 40.5h1m4 0h2m2 0h1m34 0h1m4 0h1m4 0h1M1 41.5h1m12 0h1m35 0h1m2 0h1m1 0h1m41 0h1M18 42.5h2m4 0h1m14 0h1m30 0h1M27 43.5h1m7 0h1m40 0h1m2 0h2m12 0h1M23 44.5h1m50 0h1m3 0h1m4 0h1m2 0h1m4 0h1M2 45.5h2m1 0h1m15 0h1m58 0h1m17 0h1M5 46.5h1m12 0h1m26 0h1m4 0h1m6 0h1m2 0h1m8 0h1m10 0h1m1 0h2M28 47.5h1m45 0h2m16 0h1M1 48.5h2m9 0h1m8 0h2m5 0h1m10 0h1m19 0h2m8 0h1m23 0h1M44 49.5h1m10 0h1m2 0h1m26 0h1m1 0h1M3 50.5h3m6 0h1m4 0h1m8 0h1m39 0h1m12 0h1m17 0h1M7 51.5h1m22 0h2m57 0h1m3 0h1m4 0h1M9 52.5h1m3 0h1m25 0h1m15 0h2m38 0h1M13 53.5h1m29 0h1m2 0h1m4 0h1m25 0h1m6 0h1m8 0h1M3 54.5h1m18 0h1m19 0h1m9 0h2m2 0h1m4 0h1m8 0h1m1 0h2m13 0h1m9 0h1M6 55.5h1m1 0h1m19 0h1m10 0h1m13 0h1m13 0h1m4 0h1m3 0h1M17 56.5h1m9 0h1m2 0h1m17 0h1m10 0h1m4 0h1m6 0h1m6 0h1m4 0h1m6 0h1m4 0h1M0 57.5h1m7 0h2m2 0h1m8 0h1m22 0h1m11 0h1m17 0h1M13 58.5h1m5 0h1m12 0h1m8 0h2m7 0h1m7 0h1m33 0h1M8 59.5h1m32 0h1m7 0h1m15 0h1m2 0h1m1 0h1m9 0h1M1 60.5h1m5 0h1m4 0h1m10 0h1m16 0h1m8 0h1m19 0h1m12 0h2m12 0h1M6 61.5h1m15 0h1m4 0h1m23 0h1m11 0h1m35 0h1M1 62.5h2m17 0h1m5 0h1m1 0h1m17 0h1m8 0h1m1 0h1m5 0h1m9 0h1m2 0h1m3 0h1m2 0h2m11 0h1M3 63.5h1m7 0h1m3 0h1m5 0h1m7 0h1m14 0h1m8 0h1m22 0h1M4 64.5h1m16 0h1m24 0h1m3 0h1m6 0h2m22 0h1m1 0h1M0 65.5h1m8 0h1m10 0h1m43 0h1m10 0h1M3 66.5h1m20 0h1m37 0h1m2 0h1m12 0h1m5 0h1m8 0h1m1 0h1M23 67.5h1m4 0h1m7 0h1m8 0h1m11 0h1m2 0h1m11 0h1m25 0h2M35 68.5h1m5 0h1m1 0h1m9 0h1m27 0h1m5 0h1m7 0h1M6 69.5h1m26 0h1m9 0h1m12 0h2m16 0h1m3 0h2m18 0h1M19 70.5h1m23 0h1m28 0h1m17 0h1M10 71.5h1m1 0h1m36 0h1m4 0h1m13 0h1m7 0h1m3 0h1m15 0h1M0 72.5h1m3 0h1m19 0h1m16 0h1m8 0h1m22 0h1M16 73.5h1m41 0h1m6 0h1m30 0h1M4 74.5h1m12 0h1m4 0h1m20 0h1m2 0h1m1 0h1m2 0h2m5 0h1m3 0h1m5 0h1m10 0h1m16 0h1M36 75.5h1m4 0h1m12 0h2m7 0h2m3 0h1m6 0h1m12 0h1m1 0h1M12 76.5h1m5 0h1m2 0h1m63 0h1m5 0h1m6 0h1M21 77.5h1m9 0h1m9 0h3m6 0h1m2 0h1m19 0h1m10 0h2m4 0h1M13 78.5h1m43 0h1m2 0h1m13 0h1m4 0h1m2 0h1m3 0h1M34 79.5h1m3 0h1m36 0h1m20 0h1M19 80.5h1m1 0h1m20 0h1m20 0h2m17 0h1m13 0h1M22 81.5h1m6 0h1m28 0h1m16 0h1M0 82.5h1m4 0h1m26 0h1m28 0h1m30 0h1m4 0h1M2 83.5h1m10 0h1m9 0h1m26 0h1m9 0h1m4 0h1m8 0h1m4 0h1M21 84.5h1m3 0h1m1 0h1m14 0h1m10 0h2m4 0h1m8 0h1m29 0h1M10 85.5h1m4 0h1m24 0h1m26 0h1m12 0h1m7 0h1M7 86.5h1m18 0h1m27 0h1m2 0h1m8 0h2m5 0h1m4 0h1m7 0h1m9 0h1M5 87.5h2m39 0h1m12 0h1m10 0h1m4 0h1M15 88.5h1m12 0h1m4 0h1m2 0h1m12 0h1m10 0h1m4 0h1m12 0h1m20 0h1M28 89.5h1m4 0h1m16 0h1m3 0h1m28 0h1M6 90.5h1m7 0h1m1 0h1m10 0h1m2 0h1m1 0h1m14 0h1m3 0h1m30 0h1m3 0h1m5 0h2M4 91.5h1m10 0h1m14 0h1m12 0h1m16 0h1M15 92.5h1m15 0h1m28 0h1m2 0h1m32 0h2M7 93.5h1m5 0h1m42 0h1m4 0h1m2 0h1M13 94.5h1m28 0h1m15 0h1m1 0h1m6 0h2m4 0h1m9 0h1m6 0h1M9 95.5h1m10 0h1m2 0h1m8 0h1m11 0h1m6 0h1m5 0h1m2 0h1M14 96.5h1m7 0h1m7 0h1m48 0h1m3 0h1m12 0h3M3 97.5h2m4 0h2m12 0h1m3 0h1m7 0h1m18 0h1m11 0h1m14 0h1m12 0h1M1 98.5h1m5 0h1m8 0h1m13 0h1m6 0h1m12 0h1m12 0h1m2 0h1m13 0h1m13 0h1M3 99.5h1m3 0h1m10 0h1m7 0h1m31 0h1m2 0h1m28 0h1"/>
<path stroke="#b1ff4e" d="M14 0.5h1m1 0h1m56 0h1M34 1.5h1m3 0h1m36 0h1m12 0h1m5 0h1M0 2.5h1m24 0h1m15 0h1m9 0h1m10 0h1m16 0h1m9 0h1M1 3.5h2m10 0h1m4 0h1m28 0h1m24 0h1m5 0h1m6 0h1m5 0h1M11 4.5h2m48 0h1m4 0h2m14 0h1m10 0h1m3 0h1M9 5.5h1m58 0h2m1 0h1m12 0h1m6 0h1M1 6.5h1m38 0h1m11 0h1m5 0h1m30 0h1m3 0h1M53 7.5h1m5 0h1m3 0h1m10 0h1m8 0h1m10 0h1M36 8.5h1m13 0h1m12 0h1m4 0h1m3 0h1m18 0h1M10 9.5h1m10 0h1m3 0h1m7 0h1M7 10.5h1m13 0h1m23 0h1m28 0h2m6 0h1m1 0h1m11 0h1M3 11.5h1m11 0h1m33 0h1m17 0h1m18 0h1m6 0h1m1 0h1M4 12.5h1m1 0h1m25 0h1m9 0h1m45 0h1m8 0h1M4 13.5h1m12 0h1m15 0h1m24 0h1m3 0h1m10 0h1m3 0h1M6 14.5h1m6 0h1m17 0h1m15 0h1m1 0h1m20 0h1m10 0h1m6 0h1M14 15.5h1m1 0h1m5 0h1m3 0h1m7 0h1m51 0h1m5 0h2M15 16.5h1m1 0h1m2 0h1m7 0h1m11 0h1m2 0h1m13 0h1m4 0h1m11 0h1m6 0h1m6 0h1m2 0h1m1 0h1M30 17.5h1m2 0h1m2 0h1m10 0h1m18 0h1m1 0h1m6 0h1M1 18.5h1m8 0h1m33 0h1m20 0h1m28 0h3M5 19.5h1m3 0h1m8 0h1m37 0h2m4 0h1m5 0h1m15 0h1m13 0h1M12 20.5h2m11 0h1m4 0h1m1 0h1m11 0h1m13 0h1M16 21.5h1m8 0h1m11 0h1m11 0h1m6 0h1m11 0h1m10 0h1m9 0h1M3 22.5h1m27 0h1m39 0h1m22 0h1m2 0h1M3 23.5h1m5 0h1m7 0h1m1 0h1m51 0h1m7 0h1m10 0h2M2 24.5h2m3 0h1m1 0h1m9 0h1m35 0h1m1 0h1m8 0h1m4 0h1M7 25.5h1m5 0h1m8 0h1m14 0h1m4 0h1m8 0h1m39 0h1M7 26.5h1m22 0h1m3 0h1m5 0h1m6 0h2m1 0h1m2 0h1m4 0h1m18 0h1m2 0h1m6 0h1M8 27.5h1m10 0h1m39 0h1m15 0h1m1 0h1m8 0h1m4 0h1M3 28.5h1m4 0h1m19 0h1m1 0h1m17 0h1m18 0h1m21 0h1M8 29.5h1m17 0h1m1 0h2m1 0h1m7 0h1m6 0h1m3 0h1m19 0h1m15 0h1m9 0h1M0 30.5h1m13 0h1m20 0h1m27 0h1m8 0h2m22 0h1M29 31.5h1m9 0h1m3 0h1m4 0h1m6 0h1m15 0h1m13 0h1m10 0h1M5 32.5h1m1 0h1m17 0h1m7 0h1m22 0h1m17 0h1m14 0h1m6 0h1M7 33.5h1m4 0h1m10 0h1m5 0h1m24 0h1m8 0h1m4 0h1m28 0h2M49 34.5h1m7 0h1m14 0h1m2 0h1m16 0h1M37 35.5h1m5 0h2m1 0h1m21 0h1m8 0h1m1 0h1M2 36.5h1m95 0h1M27 37.5h1m3 0h1m3 0h1m42 0h1m11 0h1m5 0h1M9 38.5h1m3 0h1m24 0h1m13 0h1m3 0h1m12 0h1M17 39.5h1m3 0h1m33 0h1m8 0h1m2 0h1m15 0h1m3 0h1M17 40.5h1m4 0h1m16 0h1m4 0h1m18 0h1m9 0h1m13 0h1M0 41.5h1m21 0h1m24 0h1m6 0h1m19 0h1m1 0h1m5 0h1m13 0h1m1 0h1M11 42.5h1m1 0h1m2 0h1m23 0h1m7 0h1m17 0h2m12 0h1m13 0h1M0 43.5h1m1 0h1m3 0h1m30 0h1m18 0h1m1 0h1m7 0h1m24 0h1M12 44.5h1m1 0h1m7 0h1m23 0h1m14 0h1m19 0h1m11 0h1M7 45.5h1m9 0h1m4 0h1m22 0h1m2 0h1m5 0h1m14 0h1m1 0h1m4 0h2m6 0h1m4 0h1M6 46.5h1m10 0h1m14 0h3m19 0h2m25 0h1m7 0h1m7 0h1M22 47.5h1m1 0h1m14 0h1m1 0h1m4 0h1M10 48.5h1m16 0h1m23 0h1m6 0h1m27 0h1M43 49.5h1m6 0h1m14 0h2m3 0h1m17 0h1m3 0h1M7 50.5h1m15 0h1m6 0h2m12 0h1m7 0h1m1 0h2m20 0h1m11 0h1m9 0h1M9 51.5h1m9 0h1m3 0h1m2 0h1m63 0h1m6 0h1M17 52.5h1m16 0h1m12 0h1m41 0h1m2 0h1M4 53.5h1m17 0h1m5 0h1m67 0h1M9 54.5h1m39 0h1m7 0h1M0 55.5h1m28 0h1m3 0h1m21 0h1m17 0h1m13 0h1m5 0h1M9 56.5h1m3 0h1m6 0h1m26 0h1m8 0h1m4 0h1m6 0h1m10 0h1m1 0h1m6 0h1M37 57.5h1m16 0h1M7 58.5h1m7 0h1m22 0h1m38 0h1m13 0h1M5 59.5h1m65 0h1m5 0h1m3 0h1M22 60.5h1m6 0h1m7 0h1m8 0h1m16 0h1m3 0h1m20 0h1m9 0h1M13 61.5h2m3 0h1m6 0h1m2 0h1m10 0h1m7 0h1m35 0h2m5 0h1M7 62.5h1m6 0h1m9 0h1m10 0h1m15 0h1m4 0h1m17 0h1M16 63.5h1m11 0h1m3 0h1m2 0h1m1 0h1m1 0h1m30 0h1m7 0h1m4 0h1m5 0h1M0 64.5h1m4 0h1m7 0h1m12 0h1m2 0h1m13 0h2m7 0h1m10 0h1m7 0h1m5 0h1m4 0h1m15 0h1M17 65.5h1m17 0h2m13 0h1m2 0h1m29 0h3m1 0h1m8 0h1M7 66.5h1m8 0h1m9 0h1m10 0h1m18 0h1m19 0h1m10 0h1m6 0h1M3 67.5h1m35 0h1m12 0h1m2 0h1m6 0h1m13 0h1m3 0h1M20 68.5h1m36 0h1m17 0h1m1 0h1m12 0h1m5 0h1m1 0h1M3 69.5h1m4 0h1m5 0h2m2 0h1m19 0h1m7 0h1m22 0h2m12 0h1M14 70.5h1m17 0h2m22 0h1m2 0h1m1 0h1m6 0h1m13 0h1M8 71.5h1m4 0h1m19 0h1m23 0h1m5 0h1m7 0h1m13 0h1M5 72.5h2m5 0h1m65 0h1M1 73.5h1m16 0h1m13 0h1m11 0h1m28 0h1m2 0h1m4 0h1M6 74.5h1m38 0h1m1 0h1m6 0h1m8 0h1m6 0h1m17 0h1M12 75.5h1m4 0h1m8 0h1m39 0h2m8 0h1m16 0h1M3 76.5h1m5 0h1m3 0h1m2 0h1m3 0h1m9 0h1m35 0h1m10 0h1m11 0h1M12 77.5h1m2 0h1m18 0h1m11 0h1m4 0h1m16 0h1m13 0h1m13 0h1M0 78.5h1m6 0h1m2 0h1m6 0h1m2 0h1m4 0h1m4 0h1m5 0h1m34 0h2m14 0h1M5 79.5h2m3 0h1m2 0h1m1 0h1m25 0h1m1 0h1m3 0h1m15 0h1m14 0h1m11 0h1M51 80.5h1m13 0h1m1 0h1m11 0h1M9 81.5h1m8 0h1m13 0h1m1 0h1m2 0h1m15 0h1m6 0h1m1 0h1m3 0h1m5 0h1m9 0h2m15 0h1M26 82.5h1m8 0h1m12 0h1m2 0h1m6 0h1m3 0h2m5 0h1m3 0h1m5 0h1M7 83.5h1m3 0h1m31 0h1m27 0h1M29 84.5h1m11 0h1m13 0h1m6 0h1m2 0h1m14 0h1M37 85.5h1m8 0h1m19 0h1m3 0h1m2 0h1m18 0h1m1 0h1m1 0h1M4 86.5h1m27 0h1m2 0h1m13 0h1m20 0h1M32 87.5h1m38 0h1m8 0h1m1 0h1m9 0h1M18 88.5h2m3 0h1m1 0h1m24 0h1m11 0h1m10 0h1m10 0h1M1 89.5h1m6 0h1m28 0h1m13 0h1m16 0h1m13 0h1m12 0h2M5 90.5h1m2 0h1m10 0h1m19 0h1m10 0h1m5 0h1m1 0h1m18 0h1M17 91.5h1m17 0h1m3 0h1m4 0h1m22 0h1m15 0h1m1 0h1m1 0h1m1 0h1M5 92.5h1m3 0h1m1 0h1m2 0h1m4 0h1m16 0h1m49 0h1m11 0h1M8 93.5h2m13 0h1m14 0h1m24 0h1M10 94.5h1m29 0h1m12 0h1m25 0h1m13 0h1M3 95.5h1m6 0h1m4 0h1m5 0h1m4 0h1m6 0h1m4 0h1m16 0h1m14 0h1m8 0h1m15 0h1M16 96.5h1m7 0h1m6 0h1m17 0h2m2 0h1m10 0h1m1 0h2m12 0h1M14 97.5h1m1 0h1m13 0h1m1 0h1m8 0h1m9 0h1m19 0h1m2 0h1M2 98.5h1m31 0h1m3 0h1m4 0h1m1 0h1m19 0h1m33 0h1M21 99.5h1m27 0h1m24 0h1m1 0h1m4 0h1m4 0h1m5 0h1"/>
<path stroke="#d2ff2d" d="M7 0.5h1m12 0h1m4 0h1m4 0h1m2 0h1m26 0h1m3 0h1M4 1.5h1m13 0h1m4 0h2m6 0h1m13 0h1m11 0h2m5 0h1m3 0h1m11 0h1m5 0h1M13 2.5h1m7 0h1m2 0h1m10 0h1m8 0h1m4 0h1m24 0h1m1 0h1m4 0h2m16 0h1M29 3.5h1m3 0h1m4 0h1m43 0h1m16 0h1M58 4.5h1m18 0h1m6 0h1m5 0h1M6 5.5h2m10 0h1m7 0h1m12 0h2M0 6.5h1m41 0h1m29 0h1m2 0h1m14 0h2M14 7.5h1m6 0h1m58 0h2M10 8.5h1m16 0h1m37 0h1M41 9.5h1m13 0h1m10 0h1m6 0h2m11 0h1m2 0h1M6 10.5h1m15 0h1m2 0h1m3 0h1m8 0h1m1 0h2m4 0h1m23 0h1M10 11.5h1m7 0h1m2 0h1m7 0h1m7 0h1m4 0h1m9 0h1m9 0h1m3 0h1m1 0h1m1 0h1M9 12.5h1m17 0h1m33 0h1m6 0h1m9 0h1m6 0h1m7 0h1m1 0h2m1 0h1M23 13.5h1m14 0h1m6 0h1m22 0h1M18 14.5h1m55 0h1M0 15.5h1m28 0h1m2 0h1m12 0h1m19 0h1m5 0h1m4 0h1M27 16.5h1m1 0h1m6 0h1m15 0h1m12 0h1m32 0h1M2 17.5h1m31 0h1m36 0h1m12 0h1M11 18.5h1m11 0h1m6 0h1m6 0h1m5 0h1m12 0h1m2 0h1m1 0h1m14 0h1m12 0h1M2 19.5h1m12 0h2m6 0h1m8 0h2m24 0h1m7 0h1m4 0h1m1 0h1m5 0h1m10 0h1m6 0h1M10 20.5h1m12 0h1m7 0h1m25 0h1m8 0h1m6 0h2m12 0h1M23 21.5h1m18 0h2m29 0h1M21 22.5h1m2 0h1m22 0h2m6 0h1m19 0h1m11 0h1M0 23.5h1m3 0h1m9 0h1m1 0h1m17 0h1m4 0h1m33 0h1m1 0h1M5 24.5h1m38 0h1m6 0h2m15 0h2m6 0h1M17 25.5h1m38 0h1m18 0h1m9 0h1m9 0h1M18 26.5h1m24 0h1m15 0h1m7 0h1M26 27.5h1m9 0h1m24 0h1m2 0h1m6 0h1m16 0h1M1 28.5h2m8 0h2m4 0h1m6 0h1m8 0h1m15 0h1m26 0h1m16 0h1m1 0h1M4 29.5h1m2 0h1m39 0h1m21 0h1m23 0h1m3 0h1m1 0h1M49 30.5h1m25 0h1m2 0h1m14 0h1M10 31.5h1m1 0h1m10 0h2m5 0h1m11 0h1m22 0h1M19 32.5h2m22 0h1m2 0h1m14 0h1m3 0h1m12 0h1m1 0h1M1 33.5h1m13 0h1m8 0h1m21 0h1M15 34.5h1m4 0h1m3 0h1m2 0h2m17 0h1m33 0h1m2 0h1m3 0h1m11 0h1M13 35.5h1m7 0h1m19 0h1m22 0h1m17 0h1m1 0h1m13 0h1M0 36.5h1m17 0h1m4 0h1m21 0h1m25 0h1M19 37.5h1m2 0h1m24 0h1m3 0h1m20 0h1m18 0h1m5 0h1M0 38.5h1m5 0h1m12 0h1m6 0h1m45 0h1m4 0h1m10 0h1M9 39.5h1m4 0h1m11 0h1m6 0h1m17 0h1m1 0h1m8 0h1m5 0h1m1 0h1m1 0h1M15 40.5h2m2 0h1m44 0h1m9 0h1m19 0h1m1 0h1m1 0h1M2 41.5h1m12 0h1m8 0h2m7 0h1m5 0h1m1 0h1m7 0h1m29 0h1m7 0h2M2 42.5h1m4 0h1m6 0h1m2 0h1m9 0h1m21 0h1m15 0h1m25 0h1M8 43.5h1m12 0h1m4 0h1m11 0h1m6 0h1m9 0h1m6 0h1m32 0h1m1 0h1M24 44.5h1m2 0h1m10 0h1m17 0h1m6 0h1m15 0h1M25 45.5h1m27 0h1m2 0h1m4 0h1m6 0h1M2 46.5h2m3 0h1m4 0h1m2 0h1m40 0h1m10 0h1m7 0h1m10 0h1m1 0h1m4 0h1M0 47.5h1m2 0h1m3 0h1m1 0h1m20 0h1m18 0h1m4 0h1m25 0h1m10 0h1M41 48.5h1m26 0h1m6 0h1m7 0h1M7 49.5h1m4 0h1m7 0h1m3 0h1m51 0h1m5 0h1M8 50.5h1m39 0h1m14 0h1m26 0h1M0 51.5h1m32 0h1m16 0h1m13 0h1m11 0h1m11 0h1m10 0h1M3 52.5h1m12 0h1m10 0h1m18 0h1m22 0h1m1 0h1M30 53.5h2m22 0h1m1 0h1m25 0h1m4 0h1m3 0h1m7 0h1M2 54.5h1m23 0h1m3 0h1m7 0h1m9 0h1m5 0h1m3 0h1m5 0h1m11 0h1M14 55.5h1m11 0h1m15 0h1M0 56.5h1m6 0h1m3 0h1m17 0h1m2 0h1m1 0h1m10 0h1m52 0h1M4 57.5h1m38 0h1m11 0h1m5 0h1m3 0h2m15 0h1m9 0h1M5 58.5h1m5 0h1m9 0h1m14 0h1m11 0h1m20 0h1M1 59.5h1m2 0h1m10 0h1m1 0h1m49 0h1m7 0h1m7 0h1m6 0h1m1 0h1M50 60.5h1m3 0h1m2 0h1m2 0h1m38 0h1M4 61.5h1m11 0h1m15 0h1m21 0h1m1 0h1m9 0h1M3 62.5h1m15 0h1m3 0h1m1 0h1m22 0h1m12 0h1M7 63.5h1m11 0h2m4 0h1m10 0h1m40 0h1M6 64.5h1m2 0h1m18 0h1m47 0h1M19 65.5h1m14 0h1m5 0h1m1 0h1m3 0h1m2 0h1m5 0h1m35 0h1m1 0h1m5 0h1M17 66.5h1m24 0h2m13 0h1m8 0h1m7 0h1M4 67.5h1m1 0h1m33 0h1m1 0h1m10 0h1m9 0h1m30 0h1M23 68.5h1m8 0h1m13 0h1m17 0h1m21 0h1M99 69.5h1M3 70.5h1m27 0h1m8 0h1M11 71.5h1m3 0h1m42 0h1m36 0h1m2 0h1M30 72.5h1m26 0h1m6 0h1m1 0h1m5 0h1m3 0h1m3 0h1m3 0h2m6 0h1M0 73.5h1m8 0h1m57 0h1M1 74.5h1m16 0h1m21 0h1m8 0h1m9 0h1m14 0h1m9 0h1m14 0h1M37 75.5h1m1 0h1m6 0h2m17 0h1m15 0h1M19 76.5h1m2 0h1m33 0h1m3 0h1m3 0h1m6 0h1m22 0h1M9 77.5h1m13 0h1m5 0h1m31 0h1m9 0h1m11 0h1M2 78.5h1m5 0h2M11 79.5h1m23 0h2m11 0h1m1 0h1m31 0h1m15 0h1M0 80.5h2m10 0h1m4 0h1m18 0h1m1 0h1m4 0h1m55 0h1M30 81.5h2m17 0h1m15 0h1m11 0h1m11 0h1M23 82.5h1m9 0h1m16 0h1m4 0h1m3 0h1m7 0h1m2 0h1m7 0h1m11 0h1m5 0h1M1 83.5h1m6 0h1m8 0h1m7 0h1m5 0h1m31 0h1m23 0h1M3 84.5h1m32 0h1m8 0h1m5 0h2m17 0h1m4 0h1m1 0h1m4 0h1m7 0h1m2 0h1M17 85.5h2m6 0h1M3 86.5h1m6 0h1m5 0h2m12 0h1m10 0h1m2 0h1m2 0h1m8 0h1m4 0h1m23 0h1M0 87.5h1m7 0h1m3 0h1m12 0h1m3 0h1m13 0h1m19 0h1m3 0h1m4 0h1M3 88.5h1m1 0h1m39 0h1m23 0h1m15 0h1M0 89.5h1m15 0h1m70 0h2m10 0h1M3 90.5h1m17 0h1m26 0h1m21 0h1m3 0h1m19 0h1m4 0h1M63 91.5h1m13 0h1M10 92.5h1m31 0h1m4 0h1m16 0h1m4 0h1m17 0h1m6 0h1M19 93.5h1m9 0h1m28 0h1m8 0h1M9 94.5h1m15 0h1m1 0h1M22 95.5h1m1 0h1m31 0h1m30 0h1M9 96.5h1m1 0h1m6 0h1m4 0h1m2 0h1m2 0h1m4 0h1m17 0h1m6 0h1m15 0h1M1 97.5h1m73 0h1M10 98.5h1m6 0h1m10 0h1m25 0h1m24 0h1m11 0h1m5 0h1M20 99.5h1m3 0h1m4 0h1m42 0h1"/>
<path stroke="#f3ff0c" d="M10 0.5h1m26 0h1m7 0h1m4 0h1m4 0h1m26 0h1M3 1.5h1m6 0h1m3 0h1m52 0h1m6 0h1m16 0h1M2 2.5h1m30 0h1m23 0h1M46 3.5h1m9 0h1m10 0h1M39 4.5h1m34 0h1m8 0h1M13 5.5h1M28 6.5h1m18 0h1m15 0h1M42 7.5h1m12 0h1m5 0h1m9 0h1m7 0h1m2 0h1m4 0h1M8 8.5h1m5 0h1m6 0h1m30 0h1m2 0h1m11 0h1m16 0h1M11 9.5h1m23 0h1m26 0h1m24 0h1M3 10.5h1m26 0h1m62 0h1M0 11.5h1M1 12.5h1m11 0h1m11 0h1m4 0h1m10 0h1m22 0h1m15 0h1M0 13.5h1m17 0h1m28 0h1M0 14.5h1m4 0h1m27 0h1m24 0h1M12 15.5h1m11 0h1m22 0h1m9 0h1M13 16.5h1m23 0h1m54 0h1M1 17.5h1m9 0h1m37 0h1m7 0h1m7 0h1m23 0h1M5 18.5h1m54 0h1m11 0h1M6 19.5h1m74 0h1m4 0h1M5 20.5h1m20 0h1m2 0h1m8 0h1m1 0h1m2 0h1m32 0h1m2 0h1m13 0h1M17 21.5h1m9 0h1m17 0h1m18 0h1m18 0h1M0 22.5h1m21 0h1m16 0h1m9 0h1m8 0h1M2 23.5h1m4 0h1m4 0h1m15 0h1m21 0h1m10 0h1m23 0h1M15 24.5h1m19 0h1m1 0h2m8 0h1m39 0h1M54 25.5h1m10 0h1m2 0h1m11 0h1m3 0h1M13 26.5h1m7 0h1m50 0h1M6 27.5h1m5 0h1m9 0h1m14 0h1m19 0h1m2 0h1m34 0h1M31 28.5h1m3 0h1m44 0h1M1 29.5h1m9 0h1m11 0h1m8 0h1m1 0h1m30 0h1m10 0h1m4 0h1M9 30.5h1m44 0h1m14 0h1m20 0h1m3 0h1M16 31.5h1m44 0h1m5 0h1M21 32.5h1m19 0h1m15 0h1m1 0h1m11 0h1m5 0h1M14 33.5h1m18 0h1m15 0h1m8 0h1m14 0h1m4 0h1m10 0h1m2 0h1M7 34.5h1m6 0h1m4 0h1m34 0h1m5 0h2m14 0h1m1 0h1M1 35.5h2m12 0h1m10 0h1m51 0h1m9 0h1M5 36.5h1m11 0h1m10 0h1m14 0h1m35 0h1m4 0h1M11 37.5h1m18 0h1m33 0h1M24 38.5h1m26 0h1m2 0h1M30 39.5h1m15 0h1m51 0h1M7 40.5h1m4 0h1m24 0h1m43 0h1m3 0h1m9 0h1M4 41.5h1m1 0h1m2 0h1m32 0h1m1 0h1m24 0h1m14 0h1m10 0h1M15 42.5h1m6 0h1m13 0h1m4 0h1m4 0h1m14 0h1m25 0h2m6 0h1M15 43.5h1m17 0h1m8 0h1m1 0h1m6 0h1m1 0h1m10 0h1m6 0h1m18 0h1m7 0h1M10 44.5h1m32 0h1m28 0h1M47 45.5h1m26 0h1m11 0h1m8 0h1M9 46.5h1m53 0h1M13 47.5h1m22 0h1m5 0h1m36 0h1m3 0h1M15 48.5h1m19 0h1m44 0h1M0 49.5h1m9 0h1m3 0h1m7 0h2m25 0h1m3 0h1m17 0h1m19 0h1m3 0h2M57 50.5h1m10 0h1m3 0h1M10 51.5h1m13 0h1m58 0h1m1 0h1M5 52.5h1m1 0h2m88 0h1M27 53.5h1m10 0h1m8 0h1m4 0h2m4 0h2m5 0h1m7 0h1M4 54.5h1m5 0h1m3 0h1m16 0h1m4 0h1m18 0h1m4 0h1m22 0h1M58 55.5h1m16 0h1M4 56.5h2m35 0h1m12 0h1m34 0h1m9 0h1M15 57.5h1m3 0h1m5 0h2m11 0h1m20 0h1m7 0h2m14 0h1m7 0h1M2 58.5h1m26 0h1m13 0h1m2 0h1m14 0h1m6 0h1m18 0h1M7 59.5h1m45 0h1M18 60.5h1m15 0h1m18 0h1m33 0h1M37 61.5h1m2 0h1m17 0h1m5 0h1m6 0h1m9 0h1M77 62.5h1m17 0h1m2 0h1M17 63.5h1m12 0h1m3 0h1m13 0h2m2 0h1m5 0h1m21 0h1m3 0h1M1 64.5h1m28 0h1m22 0h1m15 0h1m23 0h1m3 0h1M33 65.5h1m23 0h1m39 0h1M6 66.5h1m1 0h1M24 67.5h1m8 0h1m15 0h1M8 68.5h1m13 0h1m14 0h1m7 0h1m17 0h1m20 0h1m3 0h1M9 69.5h1m41 0h1m1 0h1m21 0h1m6 0h1m10 0h1M11 70.5h1m43 0h1m7 0h1m9 0h1m1 0h1m9 0h1m13 0h1M3 71.5h1m22 0h1m21 0h1m10 0h1m1 0h1m2 0h1m1 0h1m10 0h2m9 0h1m2 0h1m7 0h1M65 72.5h1M5 73.5h1m11 0h1m3 0h1m20 0h1m31 0h1m18 0h1M9 74.5h1m13 0h1m2 0h1m59 0h1M16 75.5h1m14 0h2m20 0h1m3 0h2m12 0h1m5 0h1m2 0h1M6 76.5h1m10 0h1m31 0h1m8 0h1m38 0h1M20 77.5h1m6 0h1m2 0h1m39 0h1m20 0h1M5 78.5h1m17 0h1m18 0h1m38 0h1m13 0h1M1 79.5h1m29 0h1m5 0h1m43 0h1m6 0h1M16 80.5h1m15 0h1m6 0h1m19 0h1m37 0h1M1 81.5h1m21 0h1m24 0h1m2 0h1M2 82.5h1m77 0h1M24 83.5h1m15 0h1m41 0h1M5 84.5h1m2 0h1m14 0h1m22 0h1m1 0h1m32 0h1M8 85.5h1m2 0h1m9 0h1m4 0h2m1 0h1m22 0h1m9 0h1m13 0h1m10 0h1M48 86.5h1m1 0h1m7 0h1m17 0h1m2 0h1m8 0h1m9 0h2M16 87.5h1m6 0h1m18 0h1m9 0h1m5 0h1m18 0h1M4 88.5h1m2 0h1m3 0h1m12 0h1m34 0h1m10 0h1m16 0h1m8 0h1M18 89.5h1m10 0h1m4 0h1m5 0h1m22 0h1m8 0h1m13 0h1m10 0h1M13 90.5h1m1 0h1m33 0h1m19 0h1m6 0h1M3 91.5h1m30 0h1m17 0h1m12 0h2m2 0h1m4 0h1m3 0h2m11 0h1M53 92.5h1m23 0h1M0 93.5h1m30 0h1m3 0h2m4 0h1m10 0h1m36 0h1m7 0h1M6 94.5h1m13 0h1m36 0h1m11 0h1M39 95.5h1m3 0h1m21 0h1m17 0h1m9 0h1m4 0h1M39 96.5h1m33 0h1m7 0h1M6 97.5h1m46 0h1m31 0h1M9 98.5h1m36 0h1m11 0h1m39 0h1M8 99.5h1m57 0h1"/>
<path stroke="#ffea00" d="M5 0.5h1m26 0h1m16 0h1m3 0h1m14 0h1m19 0h1M49 1.5h1m29 0h1M17 2.5h1m10 0h1m64 0h1M26 3.5h1m17 0h1m4 0h1m2 0h1m2 0h1m9 0h1m10 0h1m13 0h1m7 0h1M37 4.5h1M25 5.5h1m9 0h2m28 0h1m22 0h1M43 6.5h1m25 0h1m6 0h1M11 7.5h2m10 0h1m12 0h1m10 0h1m3 0h1m20 0h1m4 0h1M45 8.5h1m18 0h1M5 9.5h1m2 0h1m39 0h1m11 0h1m16 0h1m3 0h1m15 0h1M34 10.5h1m14 0h1M11 11.5h1m35 0h1m50 0h1M20 12.5h1m38 0h1m3 0h1m2 0h1m10 0h1m6 0h1m2 0h1M11 13.5h1m68 0h1m12 0h1M54 14.5h1m13 0h1M37 15.5h1m10 0h1m4 0h1m4 0h1m15 0h1m2 0h1m2 0h1M18 16.5h1m29 0h1m2 0h1m14 0h1M27 17.5h1m7 0h1m19 0h1m8 0h1m34 0h1M24 18.5h1m6 0h1m42 0h1m8 0h1m15 0h1M26 19.5h1m23 0h2m11 0h1M0 20.5h1m2 0h1m45 0h1m12 0h1m2 0h1m3 0h1M5 21.5h1m4 0h1m9 0h1m8 0h1m6 0h1m1 0h1M17 22.5h1m26 0h1m53 0h1M38 23.5h1m1 0h1m10 0h1m6 0h1M21 24.5h1m14 0h1m6 0h1m14 0h1m1 0h1m4 0h1M38 25.5h1m2 0h1m2 0h1m5 0h1M16 26.5h1m9 0h1m38 0h1m9 0h1m3 0h1m1 0h1M27 27.5h1m11 0h2m24 0h1M6 28.5h1m9 0h1m33 0h1M52 29.5h1m5 0h3m2 0h1m20 0h1M28 30.5h1m8 0h1m32 0h1m21 0h1M28 31.5h1m15 0h1m7 0h2m28 0h3m2 0h2m2 0h1m7 0h1M62 32.5h1m10 0h1m8 0h1m3 0h1m4 0h1M38 33.5h1m16 0h1m38 0h1M13 34.5h1m44 0h1m9 0h1M9 35.5h1m13 0h1m28 0h1m1 0h1m10 0h1m26 0h1M25 36.5h1m3 0h1m3 0h1m27 0h1m4 0h1m18 0h1M20 37.5h1m13 0h1m23 0h1m33 0h1M22 38.5h1m18 0h2m55 0h1M75 39.5h1m12 0h1m2 0h1M43 40.5h1m1 0h1m7 0h1m4 0h1m31 0h1M11 41.5h1m6 0h1m54 0h1m15 0h1M20 42.5h1m36 0h1M7 43.5h1m20 0h1m40 0h1m2 0h1m4 0h1M29 44.5h1m5 0h1m28 0h1m1 0h1m29 0h1M20 45.5h1m38 0h2m1 0h1m3 0h1m15 0h1M16 46.5h1m44 0h1m22 0h1M4 47.5h1m6 0h1m47 0h1m8 0h1m18 0h1m9 0h2M7 48.5h1m21 0h1m10 0h1m8 0h1m15 0h1M38 49.5h1m9 0h1m25 0h1M40 50.5h2m11 0h1m40 0h1M8 51.5h1m40 0h1m29 0h1M42 52.5h1m2 0h1M44 53.5h2m35 0h1m1 0h1M0 54.5h1m11 0h1m2 0h1m28 0h1m41 0h1m2 0h1m1 0h2M13 55.5h1m1 0h1m4 0h1m9 0h1m13 0h1m1 0h1m12 0h1m2 0h1m27 0h1m6 0h1M1 56.5h1m37 0h1m51 0h1m2 0h1M5 57.5h1m24 0h1m31 0h1m6 0h1M28 58.5h1m27 0h1m8 0h1M22 59.5h1m9 0h1m39 0h3m20 0h1M2 60.5h1m1 0h1m61 0h1m22 0h1M59 61.5h1m35 0h1M32 62.5h1m35 0h1M31 63.5h1m43 0h1m5 0h1m4 0h1m7 0h1M62 65.5h1M49 66.5h1m19 0h1M22 67.5h1m20 0h1m25 0h1m14 0h1m1 0h1m4 0h1M25 68.5h1m8 0h1m7 0h1m1 0h1m13 0h1m1 0h1m38 0h1M5 69.5h1m23 0h1m56 0h1M7 70.5h1m9 0h1m36 0h1m24 0h1m8 0h2m2 0h1M28 71.5h1m22 0h1m37 0h1m3 0h1M19 72.5h1m8 0h1m24 0h1m7 0h1M7 73.5h1m19 0h1m40 0h1m16 0h1M30 74.5h1m50 0h1m3 0h1m5 0h1m6 0h1M8 75.5h1m90 0h1M2 76.5h1m1 0h1m2 0h1m33 0h1m27 0h1m8 0h1m16 0h1M13 77.5h1m22 0h1m37 0h1M34 78.5h1m55 0h1M24 79.5h1m47 0h1m22 0h1M7 80.5h1m17 0h1m7 0h1m14 0h1m9 0h1m3 0h1m12 0h1m7 0h1M43 81.5h1m19 0h1M15 82.5h1m36 0h1m1 0h1m43 0h1M12 83.5h1m2 0h1m19 0h1m12 0h1m18 0h3m3 0h1m18 0h1M20 84.5h1m73 0h1M45 85.5h1M2 86.5h1m3 0h1m6 0h2m57 0h1m7 0h1M2 87.5h1m27 0h1m13 0h1m4 0h2m4 0h1m18 0h1m10 0h2M12 88.5h1m1 0h1m7 0h1m9 0h1m21 0h1m20 0h1m21 0h1M0 90.5h1m11 0h1m27 0h1m14 0h1m1 0h1m22 0h1m6 0h1M81 91.5h1m11 0h1M12 92.5h1m22 0h1m31 0h1m5 0h1m7 0h1m2 0h1m4 0h1M1 93.5h1m1 0h1m74 0h1m7 0h1M22 94.5h1m7 0h2m2 0h1m41 0h1M27 95.5h1m6 0h1m34 0h1M7 96.5h1m7 0h1m39 0h1M0 97.5h1m20 0h1m77 0h1M3 98.5h2m24 0h1m27 0h1m14 0h1m14 0h1M10 99.5h1m6 0h1m41 0h2m1 0h1m12 0h1m18 0h1"/>
<path stroke="#ffca00" d="M47 0.5h1m42 0h1M32 1.5h1m65 0h1M4 2.5h1m4 0h1m8 0h1m59 0h1M5 3.5h1m3 0h1m44 0h1M18 4.5h1m15 0h1m1 0h1m14 0h1M4 5.5h1m28 0h1m39 0h1m15 0h1m5 0h1M84 6.5h1M1 7.5h1m44 0h1m15 0h1m28 0h1M29 8.5h1m2 0h1m4 0h1m4 0h1m14 0h1m34 0h1M4 9.5h1m1 0h1m8 0h1m4 0h1m25 0h1M33 10.5h1m38 0h1m22 0h1M1 11.5h1m73 0h1M12 12.5h1m76 0h1M6 13.5h1m6 0h1m15 0h1m33 0h1m2 0h1M19 14.5h1m3 0h1m3 0h1m20 0h1m18 0h1m17 0h1M39 15.5h2M85 16.5h1M41 17.5h1M16 18.5h1m5 0h1m4 0h1M74 19.5h1m19 0h1M18 20.5h1m71 0h1M8 21.5h2m3 0h1m44 0h1m1 0h1M66 22.5h1m14 0h1M57 23.5h1m1 0h1m38 0h1M4 24.5h1m7 0h1m62 0h1M61 25.5h1m11 0h1m13 0h1m11 0h1M24 26.5h1m27 0h1M10 27.5h1m14 0h1m25 0h1M56 28.5h1M9 29.5h1m43 0h1m3 0h1m13 0h1M57 30.5h1M1 31.5h1m62 0h1m13 0h1m15 0h2M38 32.5h1m16 0h1m14 0h1M6 33.5h1m14 0h1m14 0h1m3 0h1m46 0h1m3 0h1M33 34.5h1m1 0h1m48 0h1m1 0h1M0 35.5h1m55 0h1m30 0h1M60 36.5h1M2 37.5h1m7 0h1m13 0h1m56 0h1m13 0h1M4 38.5h1m13 0h1m6 0h1m10 0h2m26 0h1M15 39.5h1m3 0h2M6 40.5h1m29 0h1m14 0h1m32 0h1M31 41.5h1m24 0h1m13 0h1M0 42.5h1m9 0h1M31 43.5h1m22 0h1m4 0h1M5 44.5h1m2 0h1m86 0h1M19 45.5h1M8 46.5h1m17 0h1m17 0h1m28 0h2m12 0h1M31 47.5h1m5 0h1m6 0h1M24 48.5h1m19 0h1m9 0h1m12 0h1M6 49.5h1m49 0h1m4 0h1m17 0h1M38 50.5h1m36 0h1M1 51.5h1m11 0h1m6 0h1m39 0h2m5 0h1m7 0h1m11 0h1M1 52.5h1m52 0h1m28 0h1M37 53.5h1m12 0h1m12 0h1M50 54.5h1m8 0h1m35 0h1M27 55.5h1m40 0h1m8 0h1M18 56.5h1m5 0h1m18 0h1m30 0h1M33 57.5h1m7 0h1m53 0h1M14 58.5h1m56 0h1m14 0h1M21 59.5h1m5 0h1m9 0h1m10 0h1m9 0h1M3 60.5h1m15 0h1m16 0h1m4 0h1m13 0h2m18 0h1m1 0h1M15 61.5h1m10 0h1m14 0h1M12 62.5h1m3 0h1m23 0h1M45 63.5h1m26 0h1m6 0h1M54 64.5h1m33 0h1M2 65.5h1m63 0h1m11 0h1M11 66.5h1m2 0h1m3 0h1m31 0h1m17 0h1M35 67.5h1m1 0h1m10 0h1m5 0h1m3 0h1m11 0h1M39 68.5h1m11 0h1m9 0h1m23 0h1M9 70.5h1m40 0h1m42 0h1M38 71.5h1m58 0h1M18 72.5h1m18 0h1m18 0h1M23 73.5h1m4 0h1m9 0h1m8 0h1m2 0h1m37 0h1M76 74.5h1m1 0h1M13 75.5h1m4 0h1m1 0h1m8 0h1m22 0h1m36 0h1M26 76.5h1m25 0h1m30 0h1m4 0h1M14 78.5h1m9 0h1m26 0h1m17 0h1m7 0h1M2 79.5h1m53 0h1m27 0h1m2 0h1m6 0h1M4 80.5h1m3 0h1m57 0h1M7 81.5h1m16 0h1m30 0h1M3 82.5h1m13 0h1m22 0h1m8 0h1M34 83.5h1m2 0h1m37 0h1m8 0h1m1 0h1M2 84.5h1m10 0h2m2 0h2m44 0h1m7 0h1m4 0h1M89 85.5h1M21 86.5h1m16 0h1m54 0h1M54 87.5h1m23 0h1m18 0h1M1 88.5h1m14 0h2m11 0h2M52 89.5h1m37 0h1M7 90.5h1m28 0h1m22 0h1m25 0h1m5 0h1M12 91.5h1m14 0h1m56 0h1M7 92.5h1m16 0h1m21 0h1m9 0h1m4 0h1M15 93.5h1m11 0h1m26 0h1m16 0h1m9 0h1M41 94.5h1m5 0h1m36 0h1M2 95.5h1m16 0h1m5 0h1M33 96.5h1m14 0h1m41 0h1M44 97.5h1m13 0h1M14 98.5h1m34 0h1m21 0h1m20 0h1m3 0h1M55 99.5h1m14 0h1"/>
<path stroke="#ffa900" d="M70 0.5h1M17 1.5h1m67 0h1M73 2.5h1M0 3.5h1m3 0h1m43 0h1M70 4.5h1M70 5.5h1m3 0h1m23 0h1M10 6.5h1m56 0h1m11 0h1M2 7.5h1M3 8.5h1m78 0h1M40 9.5h1m16 0h1m6 0h1m6 0h1M43 10.5h1M74 11.5h1M27 13.5h1m11 0h1m30 0h1m17 0h1M62 14.5h1M6 15.5h1m1 0h1m58 0h1m16 0h1M94 16.5h1M12 17.5h1m8 0h1m58 0h1m12 0h1M53 18.5h1m38 0h1M91 19.5h1m7 0h1M4 22.5h1M1 23.5h1m6 0h1m20 0h1M49 24.5h1m43 0h1M1 25.5h1m7 0h1m8 0h1M86 26.5h1m9 0h1m1 0h1M35 27.5h1m30 0h1M19 28.5h1M3 29.5h1m81 0h1M33 30.5h1m28 0h1m16 0h1M50 31.5h1M50 32.5h2m15 0h1m4 0h1M30 33.5h1M6 34.5h1m1 0h1m21 0h1m1 0h1M30 35.5h1M6 36.5h1m4 0h1m15 0h1m35 0h1M1 37.5h1m81 0h1M33 38.5h1m27 0h1m20 0h1M0 39.5h1m24 0h1m1 0h1M8 40.5h1m24 0h1m4 0h1M20 41.5h1m69 0h1M31 42.5h1M40 43.5h1m6 0h1M21 44.5h1m4 0h1M92 45.5h1M22 46.5h1m5 0h1m20 0h1m21 0h1m7 0h1M1 47.5h1m15 0h1m11 0h1m21 0h1m24 0h1M5 48.5h1m30 0h1m19 0h1m7 0h1m6 0h1m19 0h1m7 0h1M67 49.5h3m7 0h1M35 50.5h1m33 0h1M2 51.5h1m19 0h1m73 0h1M17 53.5h1M12 55.5h1m48 0h1m37 0h1M44 56.5h1m24 0h1M3 57.5h1m43 0h1M82 58.5h1M26 59.5h1m4 0h1m56 0h1M80 60.5h1m9 0h1M23 61.5h1m44 0h1M22 62.5h1M43 63.5h1m52 0h1M13 65.5h1m23 0h1m30 0h1M28 66.5h1m16 0h1m9 0h1m25 0h1m17 0h1M12 67.5h1m37 0h1m44 0h1M36 68.5h1m31 0h1M16 69.5h1M38 70.5h1m2 0h1m16 0h1m12 0h1m24 0h1M4 71.5h1m47 0h1M1 72.5h1m85 0h1M83 73.5h1m11 0h1M24 74.5h1m55 0h1m9 0h1M1 75.5h1m1 0h1m1 0h1m9 0h1m7 0h1m35 0h1m24 0h1M35 76.5h2m17 0h2m14 0h1M11 77.5h1M38 78.5h1m60 0h1M7 79.5h1m15 0h1M98 80.5h1M4 81.5h1m3 0h1m19 0h1m6 0h1M52 83.5h1m32 0h1M30 84.5h1m58 0h1M5 85.5h1m17 0h1M42 86.5h1M4 87.5h1m30 0h1M13 88.5h1m30 0h1m43 0h1M11 89.5h2m9 0h1M9 90.5h1m61 0h1m3 0h1m8 0h1M23 91.5h1m58 0h1M11 93.5h1m32 0h1M21 94.5h1m58 0h1m6 0h1M30 95.5h1M95 96.5h1M55 97.5h1m27 0h1m7 0h1M20 98.5h1m2 0h1m36 0h1M9 99.5h1"/>
<path stroke="#ff8800" d="M4 0.5h1m36 0h1m35 0h1M8 1.5h1m38 0h1M56 2.5h1M86 3.5h1m5 0h1M1 4.5h1M17 5.5h1m34 0h1M22 6.5h1m1 0h1m7 0h1m29 0h1m3 0h1M52 7.5h1M80 8.5h1M93 9.5h1M69 12.5h1M71 13.5h1M89 15.5h1M31 16.5h1m63 0h1M6 20.5h1m81 0h1M4 21.5h1m66 0h1M19 22.5h1m9 0h1m53 0h1M47 23.5h1m8 0h1m7 0h1M4 25.5h1m21 0h1m19 0h1M9 26.5h1m10 0h1m52 0h1M32 27.5h1m9 0h1m26 0h1m14 0h1M31 30.5h1m4 0h1m22 0h1m27 0h1M37 31.5h1m7 0h1m52 0h1M4 32.5h1m17 0h1M52 33.5h1M41 34.5h1m3 0h1m48 0h1M11 35.5h1m43 0h1M14 36.5h1M93 39.5h1m3 0h1M14 40.5h1M40 41.5h1m22 0h1M83 42.5h1m8 0h1M18 43.5h1m3 0h1m62 0h1M50 44.5h1m2 0h1m14 0h1m19 0h1M15 45.5h1M39 46.5h1M2 47.5h1m5 0h1m38 0h1M42 48.5h1M99 49.5h1M38 51.5h2m51 0h1M50 52.5h1m12 0h1m14 0h1m20 0h1M32 53.5h1M1 54.5h1M7 55.5h1m52 0h1M19 56.5h1m16 0h1m25 0h1M31 57.5h1m62 0h1M10 58.5h1m51 0h1M23 59.5h1M20 61.5h1m72 0h1M17 62.5h1m29 0h1m4 0h1m46 0h1M10 64.5h1m6 0h1m54 0h1M23 65.5h1m70 0h1M4 66.5h1m8 0h1m26 0h1m22 0h1M8 67.5h1m76 0h1m3 0h1M59 68.5h1M60 69.5h1M20 71.5h1m46 0h1M22 72.5h1M13 73.5h1m8 0h1m33 0h1m34 0h1M37 76.5h1m55 0h1m5 0h1M4 77.5h1M16 78.5h1m51 0h1m23 0h1M41 80.5h1m10 0h1m21 0h1M19 81.5h1M82 82.5h1m2 0h1M22 85.5h1m38 0h1m2 0h1m17 0h2m6 0h1M34 87.5h1m46 0h1M2 88.5h1m23 0h1m10 0h1m30 0h1M42 89.5h1m4 0h1m10 0h1M33 90.5h1m8 0h1M20 92.5h1M22 93.5h1m1 0h1M70 94.5h1M4 95.5h1m23 0h1m12 0h1m29 0h1m3 0h1M46 96.5h1M88 97.5h1M18 98.5h1M4 99.5h1"/>
<path stroke="#ff6700" d="M26 0.5h1M36 1.5h1m58 0h1M40 3.5h1M8 10.5h1m81 0h1M44 11.5h1m1 0h1M10 12.5h1m43 0h1M28 13.5h1m24 0h1m2 0h1M9 14.5h1m35 0h1M23 15.5h1m46 0h1M32 16.5h1M10 19.5h1M1 20.5h1m73 0h1m18 0h1M67 21.5h1m6 0h1M13 22.5h1M13 23.5h1M11 24.5h1M5 26.5h1m5 0h1m7 0h1m51 0h1M5 27.5h1M68 29.5h1m11 0h1M35 32.5h1M22 33.5h1M31 34.5h1M60 35.5h1M95 36.5h1M40 38.5h1M5 42.5h1m36 0h1M89 43.5h1M98 44.5h1M12 47.5h1m42 0h1M3 48.5h1m39 0h1m45 0h1M5 49.5h1m77 0h1M81 50.5h1M18 51.5h1m34 0h1m18 0h1m7 0h1M44 52.5h1M61 53.5h1m18 0h1M81 54.5h1M5 55.5h1m41 0h1M64 57.5h1M60 58.5h1M30 59.5h1m20 0h1M87 61.5h1M62 62.5h1M24 65.5h1M25 69.5h1m14 0h1M0 70.5h1m83 0h1M19 71.5h1m16 0h1m25 0h1m10 0h1M2 72.5h1m37 0h1m21 0h1M98 73.5h1M34 74.5h1m58 0h1M33 75.5h1M62 77.5h1M29 78.5h1m24 0h1m3 0h1m16 0h1M0 79.5h1M33 81.5h1m56 0h1M31 82.5h1M28 83.5h1m17 0h1m30 0h1M87 84.5h1M75 85.5h1M60 87.5h1M79 88.5h1M4 89.5h1m34 0h1m26 0h1M7 91.5h1m14 0h1m2 0h1m7 0h1M16 93.5h1m53 0h1m12 0h2M15 94.5h1M67 95.5h1M36 96.5h1M60 97.5h1M31 98.5h1M38 99.5h1"/>
<path stroke="#ff4600" d="M20 2.5h1m11 0h1M19 3.5h1M68 7.5h1M52 9.5h1M54 10.5h1M22 13.5h1M30 14.5h1m6 0h1M75 15.5h1M91 17.5h1M9 18.5h1M35 25.5h1m33 0h1M18 28.5h1m77 0h1M72 29.5h1m9 0h1M10 30.5h1m49 0h1M94 32.5h1M43 33.5h1m16 0h2M85 34.5h1M91 35.5h1m7 0h1M15 36.5h1m52 0h1M6 37.5h1m18 0h1m22 0h1m5 0h1M77 39.5h1M78 40.5h1M5 41.5h1m2 0h1m1 0h1M69 42.5h1M39 45.5h1M85 46.5h1M88 47.5h1M45 50.5h1m27 0h1M32 52.5h1m16 0h1M72 53.5h1M96 54.5h1M20 57.5h1m3 0h1m71 0h1M67 58.5h1M6 59.5h1M59 60.5h1M19 61.5h1m15 0h1M30 62.5h1m39 0h1M27 66.5h1M38 67.5h1m26 0h1m5 0h1m18 0h1M40 71.5h1M49 75.5h1M87 76.5h1M81 77.5h1M62 79.5h1M11 81.5h1m58 0h1M24 82.5h1M53 88.5h1m9 0h1m8 0h1M38 90.5h1m27 0h1M41 91.5h1M59 94.5h1m26 0h1M80 95.5h1M84 98.5h1"/>
<path stroke="#ff2500" d="M56 0.5h1M5 1.5h1M87 6.5h1M77 8.5h1M34 9.5h1M25 15.5h1m16 0h1M7 20.5h1m46 0h1M18 23.5h1M34 25.5h1m55 0h1M63 31.5h1m16 0h1M93 38.5h1M24 39.5h1M97 40.5h1M67 47.5h1m31 0h1M66 48.5h1M70 51.5h1M64 52.5h1M25 54.5h1M16 57.5h1M18 59.5h1M14 60.5h1m70 0h1M0 62.5h1M39 64.5h1M90 65.5h1M1 66.5h1m3 0h1m61 0h1M72 68.5h1M24 70.5h1M26 72.5h1m63 0h2M34 73.5h1M6 78.5h1M39 79.5h1M68 82.5h1M68 85.5h1M31 86.5h1M20 90.5h1M75 92.5h1M98 93.5h1M85 94.5h1"/>
<path stroke="#ff0400" d="M91 2.5h1M4 6.5h1M24 7.5h1M79 8.5h1M12 9.5h1M42 23.5h1M20 27.5h1M32 33.5h1M24 35.5h1M12 39.5h1M31 40.5h1M41 49.5h1M53 61.5h1M20 64.5h1m58 0h1M63 69.5h1M37 73.5h1M61 84.5h1M32 85.5h1m65 0h1M31 87.5h1M72 92.5h1M3 96.5h1m31 0h1"/>
<path stroke="#e20000" d="M31 2.5h1M41 4.5h1M25 6.5h1M20 20.5h1m26 0h1M53 27.5h1M73 29.5h1M99 32.5h1M9 43.5h1M22 66.5h1M0 74.5h1M52 79.5h1m44 0h1M53 93.5h1M8 94.5h1M59 97.5h1"/>
<path stroke="#c10000" d="M29 4.5h1m42 0h1M30 8.5h1M75 9.5h1M51 17.5h1M11 33.5h1M8 39.5h1M11 51.5h1M85 69.5h1M79 76.5h1M32 77.5h1M93 89.5h1M68 92.5h1M45 96.5h1M12 98.5h1"/>
<path stroke="#a00000" d="M55 83.5h1"/>
<path stroke="#800000" d="M24 25.5h1M76 48.5h1M33 58.5h1M21 72.5h1"/>
</g>
</g></g>
<rect x="297.00" y="21.50" width="14.00" height="4.20" fill="#870000"/>
<rect x="297.00" y="25.10" width="14.00" height="4.20" fill="#970000"/>
<rect x="297.00" y="28.70" width="14.00" height="4.20" fill="#a70000"/>
<rect x="297.00" y="32.30" width="14.00" height="4.20" fill="#b70000"/>
<rect x="297.00" y="35.91" width="14.00" height="4.20" fill="#c70000"/>
<rect x="297.00" y="39.51" width="14.00" height="4.20" fill="#d70000"/>
<rect x="297.00" y="43.11" width="14.00" height="4.20" fill="#e70000"/>
<rect x="297.00" y="46.71" width="14.00" height="4.20" fill="#f70000"/>
<rect x="297.00" y="50.31" width="14.00" height="4.20" fill="#ff0800"/>
<rect x="297.00" y="53.91" width="14.00" height="4.20" fill="#ff1800"/>
<rect x="297.00" y="57.52" width="14.00" height="4.20" fill="#ff2800"/>
<rect x="297.00" y="61.12" width="14.00" height="4.20" fill="#ff3800"/>
<rect x="297.00" y="64.72" width="14.00" height="4.20" fill="#ff4800"/>
<rect x="297.00" y="68.32" width="14.00" height="4.20" fill="#ff5800"/>
<rect x="297.00" y="71.92" width="14.00" height="4.20" fill="#ff6800"/>
<rect x="297.00" y="75.52" width="14.00" height="4.20" fill="#ff7800"/>
<rect x="297.00" y="79.12" width="14.00" height="4.20" fill="#ff8700"/>
<rect x="297.00" y="82.73" width="14.00" height="4.20" fill="#ff9700"/>
<rect x="297.00" y="86.33" width="14.00" height="4.20" fill="#ffa700"/>
<rect x="297.00" y="89.93" width="14.00" height="4.20" fill="#ffb700"/>
<rect x="297.00" y="93.53" width="14.00" height="4.20" fill="#ffc700"/>
<rect x="297.00" y="97.13" width="14.00" height="4.20" fill="#ffd700"/>
<rect x="297.00" y="100.73" width="14.00" height="4.20" fill="#ffe700"/>
<rect x="297.00" y="104.34" width="14.00" height="4.20" fill="#fff700"/>
<rect x="297.00" y="107.94" width="14.00" height="4.20" fill="#f7ff08"/>
<rect x="297.00" y="111.54" width="14.00" height="4.20" fill="#e7ff18"/>
<rect x="297.00" y="115.14" width="14.00" height="4.20" fill="#d7ff28"/>
<rect x="297.00" y="118.74" width="14.00" height="4.20" fill="#c7ff38"/>
<rect x="297.00" y="122.34" width="14.00" height="4.20" fill="#b7ff48"/>
<rect x="297.00" y="125.95" width="14.00" height="4.20" fill="#a7ff58"/>
<rect x="297.00" y="129.55" width="14.00" height="4.20" fill="#97ff68"/>
<rect x="297.00" y="133.15" width="14.00" height="4.20" fill="#87ff78"/>
<rect x="297.00" y="136.75" width="14.00" height="4.20" fill="#78ff87"/>
<rect x="297.00" y="140.35" width="14.00" height="4.20" fill="#68ff97"/>
<rect x="297.00" y="143.95" width="14.00" height="4.20" fill="#58ffa7"/>
<rect x="297.00" y="147.55" width="14.00" height="4.20" fill="#48ffb7"/>
<rect x="297.00" y="151.16" width="14.00" height="4.20" fill="#38ffc7"/>
<rect x="297.00" y="154.76" width="14.00" height="4.20" fill="#28ffd7"/>
<rect x="297.00" y="158.36" width="14.00" height="4.20" fill="#18ffe7"/>
<rect x="297.00" y="161.96" width="14.00" height="4.20" fill="#08fff7"/>
<rect x="297.00" y="165.56" width="14.00" height="4.20" fill="#00f7ff"/>
<rect x="297.00" y="169.16" width="14.00" height="4.20" fill="#00e7ff"/>
<rect x="297.00" y="172.77" width="14.00" height="4.20" fill="#00d7ff"/>
<rect x="297.00" y="176.37" width="14.00" height="4.20" fill="#00c7ff"/>
<rect x="297.00" y="179.97" width="14.00" height="4.20" fill="#00b7ff"/>
<rect x="297.00" y="183.57" width="14.00" height="4.20" fill="#00a7ff"/>
<rect x="297.00" y="187.17" width="14.00" height="4.20" fill="#0097ff"/>
<rect x="297.00" y="190.77" width="14.00" height="4.20" fill="#0087ff"/>
<rect x="297.00" y="194.38" width="14.00" height="4.20" fill="#0078ff"/>
<rect x="297.00" y="197.98" width="14.00" height="4.20" fill="#0068ff"/>
<rect x="297.00" y="201.58" width="14.00" height="4.20" fill="#0058ff"/>
<rect x="297.00" y="205.18" width="14.00" height="4.20" fill="#0048ff"/>
<rect x="297.00" y="208.78" width="14.00" height="4.20" fill="#0038ff"/>
<rect x="297.00" y="212.38" width="14.00" height="4.20" fill="#0028ff"/>
<rect x="297.00" y="215.98" width="14.00" height="4.20" fill="#0018ff"/>
<rect x="297.00" y="219.59" width="14.00" height="4.20" fill="#0008ff"/>
<rect x="297.00" y="223.19" width="14.00" height="4.20" fill="#0000f7"/>
<rect x="297.00" y="226.79" width="14.00" height="4.20" fill="#0000e7"/>
<rect x="297.00" y="230.39" width="14.00" height="4.20" fill="#0000d7"/>
<rect x="297.00" y="233.99" width="14.00" height="4.20" fill="#0000c7"/>
<rect x="297.00" y="237.59" width="14.00" height="4.20" fill="#0000b7"/>
<rect x="297.00" y="241.20" width="14.00" height="4.20" fill="#0000a7"/>
<rect x="297.00" y="244.80" width="14.00" height="4.20" fill="#000097"/>
<rect x="297.00" y="248.40" width="14.00" height="4.20" fill="#000087"/>
<rect x="296.70" y="302.50" width="10.90" height="4.12" fill="#870000"/>
<rect x="296.70" y="306.02" width="10.90" height="4.12" fill="#970000"/>
<rect x="296.70" y="309.55" width="10.90" height="4.12" fill="#a70000"/>
<rect x="296.70" y="313.07" width="10.90" height="4.12" fill="#b70000"/>
<rect x="296.70" y="316.59" width="10.90" height="4.12" fill="#c70000"/>
<rect x="296.70" y="320.12" width="10.90" height="4.12" fill="#d70000"/>
<rect x="296.70" y="323.64" width="10.90" height="4.12" fill="#e70000"/>
<rect x="296.70" y="327.16" width="10.90" height="4.12" fill="#f70000"/>
<rect x="296.70" y="330.69" width="10.90" height="4.12" fill="#ff0800"/>
<rect x="296.70" y="334.21" width="10.90" height="4.12" fill="#ff1800"/>
<rect x="296.70" y="337.73" width="10.90" height="4.12" fill="#ff2800"/>
<rect x="296.70" y="341.26" width="10.90" height="4.12" fill="#ff3800"/>
<rect x="296.70" y="344.78" width="10.90" height="4.12" fill="#ff4800"/>
<rect x="296.70" y="348.30" width="10.90" height="4.12" fill="#ff5800"/>
<rect x="296.70" y="351.83" width="10.90" height="4.12" fill="#ff6800"/>
<rect x="296.70" y="355.35" width="10.90" height="4.12" fill="#ff7800"/>
<rect x="296.70" y="358.88" width="10.90" height="4.12" fill="#ff8700"/>
<rect x="296.70" y="362.40" width="10.90" height="4.12" fill="#ff9700"/>
<rect x="296.70" y="365.92" width="10.90" height="4.12" fill="#ffa700"/>
<rect x="296.70" y="369.45" width="10.90" height="4.12" fill="#ffb700"/>
<rect x="296.70" y="372.97" width="10.90" height="4.12" fill="#ffc700"/>
<rect x="296.70" y="376.49" width="10.90" height="4.12" fill="#ffd700"/>
<rect x="296.70" y="380.02" width="10.90" height="4.12" fill="#ffe700"/>
<rect x="296.70" y="383.54" width="10.90" height="4.12" fill="#fff700"/>
<rect x="296.70" y="387.06" width="10.90" height="4.12" fill="#f7ff08"/>
<rect x="296.70" y="390.59" width="10.90" height="4.12" fill="#e7ff18"/>
<rect x="296.70" y="394.11" width="10.90" height="4.12" fill="#d7ff28"/>
<rect x="296.70" y="397.63" width="10.90" height="4.12" fill="#c7ff38"/>
<rect x="296.70" y="401.16" width="10.90" height="4.12" fill="#b7ff48"/>
<rect x="296.70" y="404.68" width="10.90" height="4.12" fill="#a7ff58"/>
<rect x="296.70" y="408.20" width="10.90" height="4.12" fill="#97ff68"/>
<rect x="296.70" y="411.73" width="10.90" height="4.12" fill="#87ff78"/>
<rect x="296.70" y="415.25" width="10.90" height="4.12" fill="#78ff87"/>
<rect x="296.70" y="418.77" width="10.90" height="4.12" fill="#68ff97"/>
<rect x="296.70" y="422.30" width="10.90" height="4.12" fill="#58ffa7"/>
<rect x="296.70" y="425.82" width="10.90" height="4.12" fill="#48ffb7"/>
<rect x="296.70" y="429.34" width="10.90" height="4.12" fill="#38ffc7"/>
<rect x="296.70" y="432.87" width="10.90" height="4.12" fill="#28ffd7"/>
<rect x="296.70" y="436.39" width="10.90" height="4.12" fill="#18ffe7"/>
<rect x="296.70" y="439.91" width="10.90" height="4.12" fill="#08fff7"/>
<rect x="296.70" y="443.44" width="10.90" height="4.12" fill="#00f7ff"/>
<rect x="296.70" y="446.96" width="10.90" height="4.12" fill="#00e7ff"/>
<rect x="296.70" y="450.48" width="10.90" height="4.12" fill="#00d7ff"/>
<rect x="296.70" y="454.01" width="10.90" height="4.12" fill="#00c7ff"/>
<rect x="296.70" y="457.53" width="10.90" height="4.12" fill="#00b7ff"/>
<rect x="296.70" y="461.05" width="10.90" height="4.12" fill="#00a7ff"/>
<rect x="296.70" y="464.58" width="10.90" height="4.12" fill="#0097ff"/>
<rect x="296.70" y="468.10" width="10.90" height="4.12" fill="#0087ff"/>
<rect x="296.70" y="471.62" width="10.90" height="4.12" fill="#0078ff"/>
<rect x="296.70" y="475.15" width="10.90" height="4.12" fill="#0068ff"/>
<rect x="296.70" y="478.67" width="10.90" height="4.12" fill="#0058ff"/>
<rect x="296.70" y="482.20" width="10.90" height="4.12" fill="#0048ff"/>
<rect x="296.70" y="485.72" width="10.90" height="4.12" fill="#0038ff"/>
<rect x="296.70" y="489.24" width="10.90" height="4.12" fill="#0028ff"/>
<rect x="296.70" y="492.77" width="10.90" height="4.12" fill="#0018ff"/>
<rect x="296.70" y="496.29" width="10.90" height="4.12" fill="#0008ff"/>
<rect x="296.70" y="499.81" width="10.90" height="4.12" fill="#0000f7"/>
<rect x="296.70" y="503.34" width="10.90" height="4.12" fill="#0000e7"/>
<rect x="296.70" y="506.86" width="10.90" height="4.12" fill="#0000d7"/>
<rect x="296.70" y="510.38" width="10.90" height="4.12" fill="#0000c7"/>
<rect x="296.70" y="513.91" width="10.90" height="4.12" fill="#0000b7"/>
<rect x="296.70" y="517.43" width="10.90" height="4.12" fill="#0000a7"/>
<rect x="296.70" y="520.95" width="10.90" height="4.12" fill="#000097"/>
<rect x="296.70" y="524.48" width="10.90" height="4.12" fill="#000087"/>
<line x1="308.5" x2="311" y1="34.08" y2="34.08" stroke="#333" stroke-width="1"/>
<text x="314.4" y="39.18" font-size="14" fill="#262626" textLength="26.0" lengthAdjust="spacingAndGlyphs">1.16</text>
<line x1="308.5" x2="311" y1="61.86" y2="61.86" stroke="#333" stroke-width="1"/>
<text x="314.4" y="66.96" font-size="14" fill="#262626" textLength="26.0" lengthAdjust="spacingAndGlyphs">1.15</text>
<line x1="308.5" x2="311" y1="89.64" y2="89.64" stroke="#333" stroke-width="1"/>
<text x="314.4" y="94.74" font-size="14" fill="#262626" textLength="26.0" lengthAdjust="spacingAndGlyphs">1.14</text>
<line x1="308.5" x2="311" y1="117.42" y2="117.42" stroke="#333" stroke-width="1"/>
<text x="314.4" y="122.52" font-size="14" fill="#262626" textLength="26.0" lengthAdjust="spacingAndGlyphs">1.13</text>
<line x1="308.5" x2="311" y1="145.19" y2="145.19" stroke="#333" stroke-width="1"/>
<text x="314.4" y="150.29" font-size="14" fill="#262626" textLength="26.0" lengthAdjust="spacingAndGlyphs">1.12</text>
<line x1="308.5" x2="311" y1="172.97" y2="172.97" stroke="#333" stroke-width="1"/>
<text x="314.4" y="178.07" font-size="14" fill="#262626" textLength="26.0" lengthAdjust="spacingAndGlyphs">1.11</text>
<line x1="308.5" x2="311" y1="200.75" y2="200.75" stroke="#333" stroke-width="1"/>
<text x="314.4" y="205.85" font-size="14" fill="#262626" textLength="18.6" lengthAdjust="spacingAndGlyphs">1.1</text>
<line x1="308.5" x2="311" y1="228.53" y2="228.53" stroke="#333" stroke-width="1"/>
<text x="314.4" y="233.63" font-size="14" fill="#262626" textLength="26.0" lengthAdjust="spacingAndGlyphs">1.09</text>
<text x="312" y="17" font-size="13" fill="#262626"><tspan font-size="11">&#215;</tspan>10<tspan font-size="9.5" dy="-7.5">4</tspan></text>
<line x1="305.5" x2="307.6" y1="320.39" y2="320.39" stroke="#333" stroke-width="1"/>
<text x="311.3" y="325.29" font-size="13.6" fill="#262626" textLength="24.8" lengthAdjust="spacingAndGlyphs">7900</text>
<line x1="305.5" x2="307.6" y1="356.61" y2="356.61" stroke="#333" stroke-width="1"/>
<text x="311.3" y="361.51" font-size="13.6" fill="#262626" textLength="24.8" lengthAdjust="spacingAndGlyphs">7800</text>
<line x1="305.5" x2="307.6" y1="392.83" y2="392.83" stroke="#333" stroke-width="1"/>
<text x="311.3" y="397.73" font-size="13.6" fill="#262626" textLength="24.8" lengthAdjust="spacingAndGlyphs">7700</text>
<line x1="305.5" x2="307.6" y1="429.05" y2="429.05" stroke="#333" stroke-width="1"/>
<text x="311.3" y="433.95" font-size="13.6" fill="#262626" textLength="24.8" lengthAdjust="spacingAndGlyphs">7600</text>
<line x1="305.5" x2="307.6" y1="465.27" y2="465.27" stroke="#333" stroke-width="1"/>
<text x="311.3" y="470.17" font-size="13.6" fill="#262626" textLength="24.8" lengthAdjust="spacingAndGlyphs">7500</text>
<line x1="305.5" x2="307.6" y1="501.49" y2="501.49" stroke="#333" stroke-width="1"/>
<text x="311.3" y="506.39" font-size="13.6" fill="#262626" textLength="24.8" lengthAdjust="spacingAndGlyphs">7400</text>
<defs><clipPath id="clipD"><rect x="391.8" y="0" width="400" height="522.9"/></clipPath><clipPath id="clipB"><rect x="391.4" y="0" width="400" height="246.4"/></clipPath></defs>
<g><path d="M390.00 247.70 A159.50 171.00 0 0 1 709.00 247.70" fill="none" stroke="#0000ff" stroke-width="2.2"/>
<circle cx="498.70" cy="101.60" r="6.00" fill="#000"/>
<line x1="468.30" y1="101.50" x2="644.20" y2="110.80" stroke="#ff0000" stroke-width="2.6" stroke-dasharray="6 5.2" stroke-dashoffset="-0.60"/>
<circle cx="468.30" cy="101.50" r="3" fill="#ff0000"/>
<circle cx="644.20" cy="110.80" r="3" fill="#ff0000"/></g>
<line x1="389.4" y1="249.0" x2="389.4" y2="22.6" stroke="#000" stroke-width="2.6"/>
<path d="M389.4 16.6 L385.2 25.1 L393.6 25.1 Z" fill="#000"/>
<line x1="388.1" y1="247.7" x2="733.0" y2="247.7" stroke="#000" stroke-width="2.6"/>
<path d="M739.0 247.7 L730.5 243.5 L730.5 251.9 Z" fill="#000"/>
<text x="441" y="87.4" font-size="30" font-style="italic">&#964;</text>
<text x="451.5" y="94.7" font-size="22" font-style="italic">2</text>
<text x="662" y="111.2" font-size="30" font-style="italic">&#964;</text>
<text x="674" y="119" font-size="22" font-style="italic">1</text>
<text x="362" y="145.7" font-size="31" font-style="italic">s</text>
<text x="390.5" y="276.6" font-size="26">0</text>
<text x="550.5" y="280.6" font-size="30" font-style="italic">g</text>
<text x="702.5" y="276.9" font-size="26">1</text>
<g><path d="M388.00 524.20 A161.60 194.70 0 0 1 711.20 524.20" fill="none" stroke="#0000ff" stroke-width="2.2"/>
<circle cx="556.00" cy="380.50" r="9.00" fill="#000"/>
<circle cx="553.00" cy="378.50" r="8.50" fill="#000"/>
<circle cx="559.00" cy="378.50" r="8.50" fill="#000"/>
<circle cx="556.00" cy="383.50" r="8.00" fill="#000"/>
<circle cx="551.00" cy="382.50" r="6.00" fill="#000"/>
<circle cx="561.00" cy="382.50" r="6.50" fill="#000"/>
<line x1="467.00" y1="357.80" x2="691.50" y2="430.20" stroke="#ff0000" stroke-width="2.6" stroke-dasharray="6.5 5.63" stroke-dashoffset="0.95"/>
<circle cx="467.00" cy="357.80" r="3" fill="#ff0000"/>
<circle cx="691.50" cy="430.20" r="3" fill="#ff0000"/></g>
<line x1="390.5" y1="525.5" x2="390.5" y2="291.4" stroke="#000" stroke-width="2.6"/>
<path d="M390.5 285.4 L386.3 293.9 L394.7 293.9 Z" fill="#000"/>
<line x1="389.2" y1="524.2" x2="735.5" y2="524.2" stroke="#000" stroke-width="2.6"/>
<path d="M741.5 524.2 L733.0 520.0 L733.0 528.4 Z" fill="#000"/>
<text x="429.5" y="351" font-size="30" font-style="italic">&#964;</text>
<text x="441.5" y="358.4" font-size="22" font-style="italic">2</text>
<text x="706.5" y="429.1" font-size="30" font-style="italic">&#964;</text>
<text x="719" y="436.3" font-size="22" font-style="italic">1</text>
<text x="364" y="405.7" font-size="31" font-style="italic">s</text>
<text x="392.8" y="559.8" font-size="29.5" font-style="italic">0</text>
<text x="544.5" y="561.4" font-size="30" font-style="italic">g</text>
<text x="689.3" y="559.8" font-size="29.5">1</text>
<line x1="847.2" y1="478.6" x2="847.2" y2="44.4" stroke="#c2c2c2" stroke-width="2"/>
<line x1="848.2" y1="45.4" x2="1445.0" y2="45.4" stroke="#d6d6d6" stroke-width="2"/>
<line x1="1444.0" y1="46.4" x2="1444.0" y2="478.6" stroke="#d0d0d0" stroke-width="2"/>
<line x1="847.4" x2="847.4" y1="478.6" y2="472.1" stroke="#aaa" stroke-width="1.6"/>
<text x="847.4" y="506.8" font-size="20.5" text-anchor="middle" fill="#111">0</text>
<line x1="963.8" x2="963.8" y1="478.6" y2="472.1" stroke="#888" stroke-width="1.6"/>
<line x1="963.8" x2="963.8" y1="45.4" y2="51.9" stroke="#555" stroke-width="1.6"/>
<text x="963.8" y="506.8" font-size="20.5" text-anchor="middle" fill="#111">50</text>
<line x1="1080.2" x2="1080.2" y1="478.6" y2="472.1" stroke="#ccc" stroke-width="1.6"/>
<line x1="1080.2" x2="1080.2" y1="45.4" y2="51.9" stroke="#e0e0e0" stroke-width="1.6"/>
<text x="1080.2" y="506.8" font-size="20.5" text-anchor="middle" fill="#111">100</text>
<line x1="1196.5" x2="1196.5" y1="478.6" y2="472.1" stroke="#777" stroke-width="1.6"/>
<line x1="1196.5" x2="1196.5" y1="45.4" y2="51.9" stroke="#555" stroke-width="1.6"/>
<text x="1196.5" y="506.8" font-size="20.5" text-anchor="middle" fill="#111">150</text>
<line x1="1312.9" x2="1312.9" y1="478.6" y2="472.1" stroke="#bbb" stroke-width="1.6"/>
<line x1="1312.9" x2="1312.9" y1="45.4" y2="51.9" stroke="#888" stroke-width="1.6"/>
<text x="1312.9" y="506.8" font-size="20.5" text-anchor="middle" fill="#111">200</text>
<line x1="1429.3" x2="1429.3" y1="478.6" y2="472.1" stroke="#bbb" stroke-width="1.6"/>
<line x1="1429.3" x2="1429.3" y1="45.4" y2="51.9" stroke="#999" stroke-width="1.6"/>
<text x="1429.3" y="506.8" font-size="20.5" text-anchor="middle" fill="#111">250</text>
<line x1="847.2" x2="850.7" y1="434.14" y2="434.14" stroke="#bbb" stroke-width="1.6"/>
<line x1="1444.0" x2="1440.5" y1="434.14" y2="434.14" stroke="#bbb" stroke-width="1.6"/>
<line x1="847.2" x2="850.7" y1="403.09" y2="403.09" stroke="#bbb" stroke-width="1.6"/>
<line x1="1444.0" x2="1440.5" y1="403.09" y2="403.09" stroke="#bbb" stroke-width="1.6"/>
<line x1="847.2" x2="850.7" y1="379.01" y2="379.01" stroke="#bbb" stroke-width="1.6"/>
<line x1="1444.0" x2="1440.5" y1="379.01" y2="379.01" stroke="#bbb" stroke-width="1.6"/>
<line x1="847.2" x2="850.7" y1="359.33" y2="359.33" stroke="#bbb" stroke-width="1.6"/>
<line x1="1444.0" x2="1440.5" y1="359.33" y2="359.33" stroke="#bbb" stroke-width="1.6"/>
<line x1="847.2" x2="850.7" y1="342.69" y2="342.69" stroke="#bbb" stroke-width="1.6"/>
<line x1="1444.0" x2="1440.5" y1="342.69" y2="342.69" stroke="#bbb" stroke-width="1.6"/>
<line x1="847.2" x2="850.7" y1="328.28" y2="328.28" stroke="#bbb" stroke-width="1.6"/>
<line x1="1444.0" x2="1440.5" y1="328.28" y2="328.28" stroke="#bbb" stroke-width="1.6"/>
<line x1="847.2" x2="850.7" y1="315.57" y2="315.57" stroke="#bbb" stroke-width="1.6"/>
<line x1="1444.0" x2="1440.5" y1="315.57" y2="315.57" stroke="#bbb" stroke-width="1.6"/>
<line x1="847.2" x2="853.7" y1="304.20" y2="304.20" stroke="#666" stroke-width="1.6"/>
<line x1="1444.0" x2="1437.5" y1="304.20" y2="304.20" stroke="#666" stroke-width="1.6"/>
<line x1="847.2" x2="850.7" y1="229.39" y2="229.39" stroke="#bbb" stroke-width="1.6"/>
<line x1="1444.0" x2="1440.5" y1="229.39" y2="229.39" stroke="#bbb" stroke-width="1.6"/>
<line x1="847.2" x2="850.7" y1="185.64" y2="185.64" stroke="#bbb" stroke-width="1.6"/>
<line x1="1444.0" x2="1440.5" y1="185.64" y2="185.64" stroke="#bbb" stroke-width="1.6"/>
<line x1="847.2" x2="850.7" y1="154.59" y2="154.59" stroke="#bbb" stroke-width="1.6"/>
<line x1="1444.0" x2="1440.5" y1="154.59" y2="154.59" stroke="#bbb" stroke-width="1.6"/>
<line x1="847.2" x2="850.7" y1="130.51" y2="130.51" stroke="#bbb" stroke-width="1.6"/>
<line x1="1444.0" x2="1440.5" y1="130.51" y2="130.51" stroke="#bbb" stroke-width="1.6"/>
<line x1="847.2" x2="850.7" y1="110.83" y2="110.83" stroke="#bbb" stroke-width="1.6"/>
<line x1="1444.0" x2="1440.5" y1="110.83" y2="110.83" stroke="#bbb" stroke-width="1.6"/>
<line x1="847.2" x2="850.7" y1="94.19" y2="94.19" stroke="#bbb" stroke-width="1.6"/>
<line x1="1444.0" x2="1440.5" y1="94.19" y2="94.19" stroke="#bbb" stroke-width="1.6"/>
<line x1="847.2" x2="850.7" y1="79.78" y2="79.78" stroke="#bbb" stroke-width="1.6"/>
<line x1="1444.0" x2="1440.5" y1="79.78" y2="79.78" stroke="#bbb" stroke-width="1.6"/>
<line x1="847.2" x2="850.7" y1="67.07" y2="67.07" stroke="#bbb" stroke-width="1.6"/>
<line x1="1444.0" x2="1440.5" y1="67.07" y2="67.07" stroke="#bbb" stroke-width="1.6"/>
<line x1="847.2" x2="853.7" y1="55.70" y2="55.70" stroke="#666" stroke-width="1.6"/>
<line x1="1444.0" x2="1437.5" y1="55.70" y2="55.70" stroke="#666" stroke-width="1.6"/>
<text x="807" y="65.5" font-size="20.5" fill="#111">10<tspan font-size="14.5" dy="-8.5">0</tspan></text>
<text x="802.5" y="315" font-size="20.5" fill="#111">10<tspan font-size="14.5" dy="-8.5">-1</tspan></text>
<text x="1099" y="537.5" font-size="23.5" fill="#111">Time Bin</text>
<text transform="translate(791.3 262) rotate(-90)" font-size="23.3" text-anchor="middle" fill="#111">Normalized Intensity</text>
<defs><clipPath id="clipE"><rect x="847.2" y="45.4" width="596.8" height="433.2"/></clipPath></defs>
<g clip-path="url(#clipE)" fill="none" stroke-linejoin="round">
<path d="M923.6 480.0 L927.8 320.0 L934.6 160.0 L939.7 102.6 L945.0 76.0 L949.0 62.0 L951.5 56.5 L954.0 54.9 L956.0 55.5 L958.0 56.5 L960.0 57.9 L962.0 60.3 L964.0 62.6 L966.0 64.8 L968.0 67.1 L970.0 69.4 L972.0 71.8 L974.0 74.3 L976.0 76.6 L978.0 78.9 L980.0 81.2 L982.0 83.4 L984.0 85.5 L986.0 87.6 L988.0 89.7 L990.0 91.6 L992.0 93.6 L994.0 95.6 L996.0 97.7 L998.0 99.7 L1000.0 101.8 L1002.0 103.9 L1004.0 106.0 L1006.0 108.0 L1008.0 110.0 L1010.0 111.9 L1012.0 113.9 L1014.0 115.8 L1016.0 117.7 L1018.0 119.6 L1020.0 121.5 L1022.0 123.3 L1024.0 125.1 L1026.0 126.9 L1028.0 128.7 L1030.0 130.5 L1032.0 132.3 L1034.0 134.0 L1036.0 135.8 L1038.0 137.6 L1040.0 139.3 L1042.0 141.1 L1044.0 142.8 L1046.0 144.6 L1048.0 146.3 L1050.0 148.1 L1052.0 149.8 L1054.0 151.5 L1056.0 153.2 L1058.0 154.9 L1060.0 156.6 L1062.0 158.2 L1064.0 159.9 L1066.0 161.5 L1068.0 163.2 L1070.0 164.8 L1072.0 166.3 L1074.0 167.8 L1076.0 169.3 L1078.0 170.8 L1080.0 172.2 L1082.0 173.6 L1084.0 174.9 L1086.0 176.3 L1088.0 177.6 L1090.0 179.0 L1092.0 180.4 L1094.0 181.9 L1096.0 183.3 L1098.0 184.9 L1100.0 186.4 L1102.0 187.9 L1104.0 189.5 L1106.0 191.0 L1108.0 192.6 L1110.0 194.1 L1112.0 195.6 L1114.0 197.0 L1116.0 198.5 L1118.0 200.0 L1120.0 201.4 L1122.0 202.9 L1124.0 204.4 L1126.0 205.8 L1128.0 207.3 L1130.0 208.7 L1132.0 210.2 L1134.0 211.7 L1136.0 213.1 L1138.0 214.6 L1140.0 216.0 L1142.0 217.4 L1144.0 218.9 L1146.0 220.3 L1148.0 221.8 L1150.0 223.2 L1152.0 224.7 L1154.0 226.1 L1156.0 227.5 L1158.0 229.0 L1160.0 230.4 L1162.0 231.8 L1164.0 233.2 L1166.0 234.7 L1168.0 236.1 L1170.0 237.5 L1172.0 239.0 L1174.0 240.4 L1176.0 241.8 L1178.0 243.2 L1180.0 244.7 L1182.0 246.1 L1184.0 247.5 L1186.0 248.9 L1188.0 250.3 L1190.0 251.8 L1192.0 253.2 L1194.0 254.6 L1196.0 256.0 L1198.0 257.4 L1200.0 258.9 L1202.0 260.3 L1204.0 261.7 L1206.0 263.1 L1208.0 264.5 L1210.0 265.9 L1212.0 267.4 L1214.0 268.8 L1216.0 270.2 L1218.0 271.6 L1220.0 273.0 L1222.0 274.4 L1224.0 275.8 L1226.0 277.2 L1228.0 278.6 L1230.0 280.1 L1232.0 281.5 L1234.0 282.9 L1236.0 284.3 L1238.0 285.7 L1240.0 287.1 L1242.0 288.5 L1244.0 289.9 L1246.0 291.3 L1248.0 292.8 L1250.0 294.1 L1252.0 295.6 L1254.0 297.0 L1256.0 298.4 L1258.0 299.8 L1260.0 301.2 L1262.0 302.6 L1264.0 304.0 L1266.0 305.4 L1268.0 306.8 L1270.0 308.2 L1272.0 309.6 L1274.0 311.0 L1276.0 312.4 L1278.0 313.9 L1280.0 315.3 L1282.0 316.7 L1284.0 318.1 L1286.0 319.5 L1288.0 320.9 L1290.0 322.3 L1292.0 323.7 L1294.0 325.1 L1296.0 326.5 L1298.0 327.9 L1300.0 329.3 L1302.0 330.7 L1304.0 332.1 L1306.0 333.5 L1308.0 334.9 L1310.0 336.3 L1312.0 337.7 L1314.0 339.1 L1316.0 340.5 L1318.0 341.9 L1320.0 343.4 L1322.0 344.8 L1324.0 346.2 L1326.0 347.6 L1328.0 349.0 L1330.0 350.4 L1332.0 351.8 L1334.0 353.2 L1336.0 354.6 L1338.0 356.0 L1340.0 357.4 L1342.0 358.8 L1344.0 360.2 L1346.0 361.6 L1348.0 363.0 L1350.0 364.4 L1352.0 365.8 L1354.0 367.2 L1356.0 368.6 L1358.0 370.0 L1360.0 371.4 L1362.0 372.8 L1364.0 374.2 L1366.0 375.6 L1368.0 377.0 L1370.0 378.4 L1372.0 379.8 L1374.0 381.2 L1376.0 382.6 L1378.0 384.1 L1380.0 385.4 L1382.0 386.9 L1384.0 388.3 L1386.0 389.7 L1388.0 391.1 L1390.0 392.5 L1392.0 393.9 L1394.0 395.3 L1396.0 396.7 L1398.0 398.1 L1400.0 399.5 L1402.0 400.9 L1404.0 402.3 L1406.0 403.7 L1408.0 405.1 L1410.0 406.5 L1412.0 407.9 L1414.0 409.3 L1416.0 410.7 L1418.0 412.1 L1420.0 413.5 L1422.0 414.9 L1424.0 416.3 L1426.0 417.7 L1428.0 419.1 L1430.0 420.5 L1432.0 421.9 L1434.0 423.3 L1436.0 424.7 L1438.0 426.1 L1440.0 427.5 L1442.0 428.9 L1444.0 430.3 L1446.0 431.8 L1448.0 433.1" stroke="#ff0000" stroke-width="3.0"/>
<path d="M926.0 480.0 L928.7 320.0 L933.0 200.0 L937.2 160.0 L938.8 130.0 L940.4 109.0 L942.9 114.1 L944.2 94.9 L947.4 89.7 L950.0 84.0 L952.2 55.5 L954.6 82.1 L956.5 56.2 L959.1 84.7 L961.3 60.4 L966.2 102.6 L968.8 73.1 L973.3 97.4 L975.8 77.6 L977.5 121.8 L982.2 89.8 L985.4 105.1 L989.3 92.3 L992.5 111.5 L995.0 107.7 L997.8 157.0 L1001.1 108.0 L1002.7 123.2 L1005.4 111.2 L1009.4 136.0 L1012.6 122.4 L1015.0 142.4 L1017.4 126.4 L1019.8 183.0 L1023.8 136.0 L1026.2 134.4 L1028.6 125.6 L1031.0 156.8 L1034.2 155.2 L1038.2 144.0 L1042.2 166.4 L1045.4 130.4 L1047.8 130.4 L1051.0 180.0 L1055.0 144.6 L1059.0 191.6 L1063.9 151.3 L1068.4 210.7 L1070.6 171.5 L1073.0 172.5 L1075.7 196.1 L1078.0 168.1 L1082.5 176.0 L1087.0 187.2 L1089.8 210.7 L1092.5 209.5 L1096.6 171.5 L1100.4 214.0 L1104.8 196.5 L1109.6 223.5 L1114.6 208.1 L1116.1 216.0 L1119.7 267.5 L1122.4 225.0 L1126.4 193.6 L1131.3 244.0 L1133.6 195.8 L1138.0 254.0 L1140.3 220.4 L1142.5 274.2 L1145.9 223.8 L1149.2 219.3 L1152.6 260.7 L1157.1 207.0 L1161.4 249.2 L1164.0 210.8 L1166.5 244.1 L1169.0 240.0 L1175.0 299.2 L1179.4 244.1 L1181.9 319.7 L1187.0 223.6 L1192.2 290.3 L1196.0 244.1 L1201.2 267.2 L1205.0 262.0 L1207.9 358.4 L1211.3 290.7 L1215.1 331.0 L1218.0 299.3 L1221.7 329.6 L1223.5 320.0 L1226.6 358.4 L1229.5 283.5 L1231.5 288.0 L1233.8 260.4 L1237.3 303.6 L1240.2 318.0 L1242.5 299.3 L1247.7 398.8 L1252.6 282.0 L1256.9 374.3 L1259.2 318.0 L1261.5 374.3 L1265.5 290.0 L1274.4 372.5 L1277.6 299.0 L1279.8 307.0 L1283.0 372.5 L1285.5 308.6 L1287.0 299.0 L1289.7 289.5 L1291.9 354.9 L1294.2 300.6 L1296.8 480.0 L1299.0 342.0 L1301.0 348.0 L1305.5 282.5 L1308.2 373.5 L1312.8 299.1 L1316.5 372.7 L1319.9 329.5 L1323.0 393.6 L1325.0 393.6 L1327.2 449.3 L1329.4 318.4 L1332.0 417.6 L1335.8 342.4 L1339.0 449.3 L1343.2 374.4 L1346.4 398.4 L1350.6 449.3 L1355.0 342.4 L1357.0 393.6 L1359.2 374.4 L1361.0 374.4 L1364.0 449.3 L1368.8 342.4 L1373.4 480.0 L1375.8 374.3 L1377.2 418.8 L1380.3 357.6 L1382.0 374.4 L1382.7 393.6 L1386.8 393.6 L1389.5 358.8 M1393.6 416.4 L1398.8 374.4 L1401.3 374.4 L1403.6 417.5 L1404.8 374.4 L1409.6 480.0 L1413.2 374.4 L1414.5 480.0 L1420.6 482.0 L1422.0 448.8 M1426.6 448.8 L1429.3 393.6 L1433.6 480.0 L1436.5 417.6 L1438.9 448.8 L1445.0 448.8" stroke="#0000ff" stroke-width="2.9"/>
<path d="M919.5 480.0 L920.5 478.0 L924.4 320.0 L929.5 160.0 L932.5 102.6 L935.5 72.0 L938.0 60.0 L940.2 56.3 L942.5 60.0 L944.2 72.0 L945.4 102.6 L950.0 160.0 L952.6 320.0 L953.7 478.0 L954.0 480.0" stroke="#00ff00" stroke-width="3.2" stroke-dasharray="8 3 3.5 3"/>
<path d="M918.8 480.0 L919.4 478.0 L923.0 320.0 L928.7 160.0 L932.5 102.6 L935.5 70.0 L937.5 59.4 L940.0 58.3 L942.5 59.4 L945.0 80.0 L947.8 102.6 L952.0 160.0 L957.0 320.0 L960.3 478.0 L960.6 480.0" stroke="#ff0000" stroke-width="3.2" stroke-dasharray="8 10"/>
</g>
<line x1="1228.3" x2="1273" y1="80.7" y2="80.7" stroke="#ff0000" stroke-width="3.3"/>
<line x1="1228.3" x2="1273" y1="116.8" y2="116.8" stroke="#0000ff" stroke-width="3.3"/>
<line x1="1228.3" x2="1273" y1="157.3" y2="157.3" stroke="#00ff00" stroke-width="3.5" stroke-dasharray="10 2.5 3.5 2.5"/>
<line x1="1228.3" x2="1273" y1="205.1" y2="205.1" stroke="#ff0000" stroke-width="3.5" stroke-dasharray="10 8"/>
<text x="1278" y="92.7" font-size="29.5" font-style="italic">Y(t)</text>
<text x="1276" y="126.4" font-size="26.7">single decay</text>
<text x="1276" y="161.6" font-size="29.5" font-style="italic">i<tspan font-size="21" dy="12">n</tspan><tspan dy="-12">(t)</tspan></text>
<text x="1276" y="209.9" font-size="29.5" font-style="italic">i<tspan font-size="21" dy="12">m</tspan><tspan dy="-12">(t)</tspan></text>
</svg></body></html>
